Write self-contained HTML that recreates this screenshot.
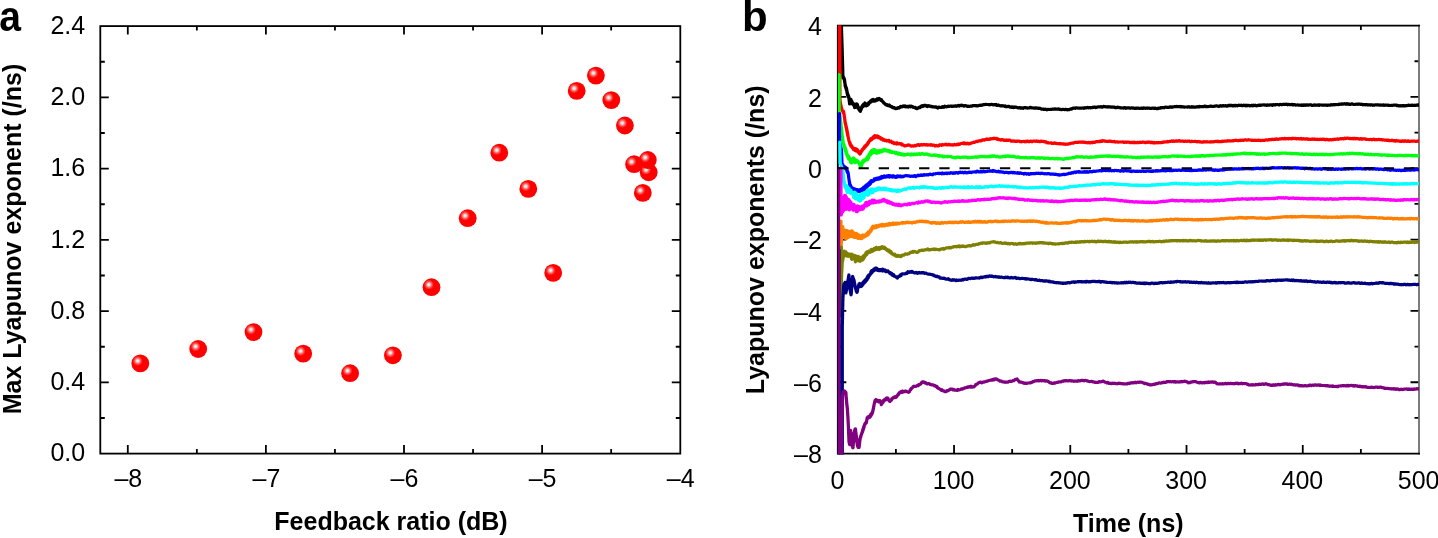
<!DOCTYPE html><html><head><meta charset="utf-8"><style>html,body{margin:0;padding:0;background:#fff;}svg{display:block;will-change:transform;}text{font-family:"Liberation Sans",sans-serif;}</style></head><body>
<svg width="1438" height="538" viewBox="0 0 1438 538">
<defs><radialGradient id="hl" cx="0.5" cy="0.5" r="0.5"><stop offset="0" stop-color="#fff" stop-opacity="1"/><stop offset="0.25" stop-color="#fff" stop-opacity="0.85"/><stop offset="0.6" stop-color="#fff" stop-opacity="0.35"/><stop offset="1" stop-color="#fff" stop-opacity="0"/></radialGradient><clipPath id="cb"><rect x="837.75" y="25.6" width="581.25" height="428.9"/></clipPath></defs>
<rect width="1438" height="538" fill="#fff"/>
<rect x="100.3" y="26.1" width="580.00" height="427.50" fill="none" stroke="#000" stroke-width="1.8"/>
<path d="M127.80 453.60V445.10M127.80 26.10V34.60M265.90 453.60V445.10M265.90 26.10V34.60M404.00 453.60V445.10M404.00 26.10V34.60M542.10 453.60V445.10M542.10 26.10V34.60M196.85 453.60V449.10M196.85 26.10V30.60M334.95 453.60V449.10M334.95 26.10V30.60M473.05 453.60V449.10M473.05 26.10V30.60M611.15 453.60V449.10M611.15 26.10V30.60M100.30 382.35H108.80M680.30 382.35H671.80M100.30 311.10H108.80M680.30 311.10H671.80M100.30 239.85H108.80M680.30 239.85H671.80M100.30 168.60H108.80M680.30 168.60H671.80M100.30 97.35H108.80M680.30 97.35H671.80M100.30 417.98H104.80M680.30 417.98H675.80M100.30 346.73H104.80M680.30 346.73H675.80M100.30 275.48H104.80M680.30 275.48H675.80M100.30 204.23H104.80M680.30 204.23H675.80M100.30 132.98H104.80M680.30 132.98H675.80M100.30 61.73H104.80M680.30 61.73H675.80" stroke="#000" stroke-width="1.8" fill="none"/>
<text x="85.2" y="461.30" font-size="25" text-anchor="end">0.0</text>
<text x="85.2" y="390.05" font-size="25" text-anchor="end">0.4</text>
<text x="85.2" y="318.80" font-size="25" text-anchor="end">0.8</text>
<text x="85.2" y="247.55" font-size="25" text-anchor="end">1.2</text>
<text x="85.2" y="176.30" font-size="25" text-anchor="end">1.6</text>
<text x="85.2" y="105.05" font-size="25" text-anchor="end">2.0</text>
<text x="85.2" y="33.80" font-size="25" text-anchor="end">2.4</text>
<text x="128.30" y="487.1" font-size="25" text-anchor="middle">–8</text>
<text x="266.40" y="487.1" font-size="25" text-anchor="middle">–7</text>
<text x="404.50" y="487.1" font-size="25" text-anchor="middle">–6</text>
<text x="542.60" y="487.1" font-size="25" text-anchor="middle">–5</text>
<text x="680.70" y="487.1" font-size="25" text-anchor="middle">–4</text>
<text x="391" y="529.5" font-size="25" font-weight="bold" text-anchor="middle">Feedback ratio (dB)</text>
<text transform="translate(20.9 239) rotate(-90)" font-size="25" font-weight="bold" text-anchor="middle">Max Lyapunov exponent (/ns)</text>
<text transform="translate(-0.8 30.6) scale(0.93 1)" font-size="42" font-weight="bold">a</text>
<circle cx="140.3" cy="363.4" r="8.9" fill="#ff0000"/><circle cx="137.7" cy="360.9" r="5" fill="url(#hl)"/>
<circle cx="198.2" cy="349.0" r="8.9" fill="#ff0000"/><circle cx="195.6" cy="346.5" r="5" fill="url(#hl)"/>
<circle cx="253.5" cy="332.1" r="8.9" fill="#ff0000"/><circle cx="250.9" cy="329.6" r="5" fill="url(#hl)"/>
<circle cx="303.2" cy="353.6" r="8.9" fill="#ff0000"/><circle cx="300.6" cy="351.1" r="5" fill="url(#hl)"/>
<circle cx="350.1" cy="373.2" r="8.9" fill="#ff0000"/><circle cx="347.5" cy="370.7" r="5" fill="url(#hl)"/>
<circle cx="392.9" cy="355.3" r="8.9" fill="#ff0000"/><circle cx="390.3" cy="352.8" r="5" fill="url(#hl)"/>
<circle cx="431.5" cy="287.2" r="8.9" fill="#ff0000"/><circle cx="428.9" cy="284.7" r="5" fill="url(#hl)"/>
<circle cx="467.7" cy="218.2" r="8.9" fill="#ff0000"/><circle cx="465.1" cy="215.7" r="5" fill="url(#hl)"/>
<circle cx="499.3" cy="152.7" r="8.9" fill="#ff0000"/><circle cx="496.7" cy="150.2" r="5" fill="url(#hl)"/>
<circle cx="528.3" cy="188.9" r="8.9" fill="#ff0000"/><circle cx="525.7" cy="186.4" r="5" fill="url(#hl)"/>
<circle cx="553.2" cy="272.9" r="8.9" fill="#ff0000"/><circle cx="550.6" cy="270.4" r="5" fill="url(#hl)"/>
<circle cx="576.7" cy="90.9" r="8.9" fill="#ff0000"/><circle cx="574.1" cy="88.4" r="5" fill="url(#hl)"/>
<circle cx="595.9" cy="75.6" r="8.9" fill="#ff0000"/><circle cx="593.3" cy="73.1" r="5" fill="url(#hl)"/>
<circle cx="611.3" cy="100.1" r="8.9" fill="#ff0000"/><circle cx="608.7" cy="97.6" r="5" fill="url(#hl)"/>
<circle cx="624.9" cy="125.5" r="8.9" fill="#ff0000"/><circle cx="622.3" cy="123.0" r="5" fill="url(#hl)"/>
<circle cx="642.8" cy="192.9" r="8.9" fill="#ff0000"/><circle cx="640.2" cy="190.4" r="5" fill="url(#hl)"/>
<circle cx="648.7" cy="172.3" r="8.9" fill="#ff0000"/><circle cx="646.1" cy="169.8" r="5" fill="url(#hl)"/>
<circle cx="647.8" cy="160.0" r="8.9" fill="#ff0000"/><circle cx="645.2" cy="157.5" r="5" fill="url(#hl)"/>
<circle cx="634.1" cy="164.2" r="8.9" fill="#ff0000"/><circle cx="631.5" cy="161.7" r="5" fill="url(#hl)"/>
<path d="M954.04 453.60V445.10M954.04 25.60V34.10M1070.28 453.60V445.10M1070.28 25.60V34.10M1186.52 453.60V445.10M1186.52 25.60V34.10M1302.76 453.60V445.10M1302.76 25.60V34.10M895.92 453.60V449.10M895.92 25.60V30.10M1012.16 453.60V449.10M1012.16 25.60V30.10M1128.40 453.60V449.10M1128.40 25.60V30.10M1244.64 453.60V449.10M1244.64 25.60V30.10M1360.88 453.60V449.10M1360.88 25.60V30.10M837.80 96.93H846.30M1419.00 96.93H1410.50M837.80 168.27H846.30M1419.00 168.27H1410.50M837.80 239.60H846.30M1419.00 239.60H1410.50M837.80 310.94H846.30M1419.00 310.94H1410.50M837.80 382.27H846.30M1419.00 382.27H1410.50M837.80 61.27H842.30M1419.00 61.27H1414.50M837.80 132.60H842.30M1419.00 132.60H1414.50M837.80 203.94H842.30M1419.00 203.94H1414.50M837.80 275.27H842.30M1419.00 275.27H1414.50M837.80 346.60H842.30M1419.00 346.60H1414.50M837.80 417.94H842.30M1419.00 417.94H1414.50" stroke="#000" stroke-width="1.8" fill="none"/>
<path d="M1419.00 24.70V454.50" stroke="#6e6e6e" stroke-width="1.8"/>
<path d="M1419.90 25.60H837.80V453.60H1419.90" stroke="#000" stroke-width="1.8" fill="none" stroke-linejoin="miter"/>
<g clip-path="url(#cb)" fill="none" stroke-width="3.2" stroke-linejoin="round" stroke-linecap="round">
<path d="M839.8 10.0 839.8 10.4 839.9 10.8 839.9 11.2 839.9 11.6 839.9 12.0 840.0 12.4 840.0 12.8 840.0 13.2 840.1 13.6 840.1 14.0 840.1 14.4 840.1 14.8 840.2 15.2 840.2 15.6 840.2 16.0 840.2 16.4 840.3 16.8 840.3 17.2 840.3 17.6 840.4 18.0 840.4 18.4 840.4 18.8 840.4 19.2 840.5 19.6 840.5 20.0 840.6 20.4 840.6 20.8 840.7 21.2 840.7 21.6 840.8 22.0 840.9 22.4 840.9 22.8 841.0 23.2 841.0 23.6 841.1 24.0 841.2 24.4 841.2 24.8 841.3 25.2 841.3 25.6 841.4 26.0 841.4 26.4 841.4 26.8 841.4 27.2 841.5 27.6 841.5 28.0 841.5 28.4 841.5 28.8 841.5 29.2 841.5 29.6 841.5 30.0 841.5 30.4 841.6 30.8 841.6 31.2 841.6 31.6 841.6 32.0 841.6 32.4 841.6 32.8 841.6 33.2 841.7 33.6 841.7 34.0 841.7 34.4 841.7 34.8 841.7 35.2 841.7 35.6 841.7 36.0 841.7 36.4 841.8 36.8 841.8 37.2 841.8 37.6 841.8 38.0 841.8 38.4 841.8 38.8 841.8 39.2 841.9 39.6 841.9 40.0 841.9 40.4 841.9 40.8 841.9 41.2 841.9 41.6 841.9 42.0 841.9 42.4 842.0 42.8 842.0 43.2 842.0 43.6 842.0 44.0 842.0 44.4 842.0 44.8 842.0 45.2 842.1 45.6 842.1 46.0 842.1 46.4 842.1 46.8 842.1 47.2 842.1 47.6 842.1 48.0 842.1 48.4 842.2 48.8 842.2 49.2 842.2 49.6 842.2 50.0 842.2 50.4 842.2 50.8 842.2 51.2 842.2 51.6 842.3 52.0 842.3 52.4 842.3 52.8 842.3 53.2 842.3 53.6 842.3 54.0 842.3 54.4 842.3 54.8 842.3 55.2 842.3 55.6 842.4 56.0 842.4 56.4 842.4 56.8 842.4 57.2 842.4 57.6 842.4 58.0 842.4 58.4 842.4 58.8 842.4 59.2 842.5 59.6 842.5 60.0 842.5 60.4 842.5 60.8 842.5 61.2 842.5 60.3 842.5 63.3 842.5 61.1 842.5 64.1 842.5 61.9 842.6 64.9 842.6 62.7 842.6 65.7 842.6 63.5 842.6 66.5 842.6 64.3 842.6 67.3 842.6 65.1 842.6 68.1 842.7 65.9 842.7 68.9 842.7 66.7 842.7 69.7 842.7 67.5 842.7 70.5 842.7 68.3 842.7 71.3 842.7 69.1 842.8 72.1 842.8 69.9 842.8 72.9 842.8 70.7 842.8 73.7 842.8 71.5 842.8 74.5 842.8 72.3 842.8 75.3 842.8 73.1 842.9 76.1 842.9 73.9 842.9 76.9 842.9 74.7 842.9 76.5 843.1 78.1 843.3 76.5 843.5 78.2 843.6 77.2 843.8 78.9 844.0 78.0 844.2 79.7 844.4 79.5 844.5 79.2 844.5 80.9 844.6 80.0 844.6 81.7 844.7 80.8 844.7 82.6 844.8 81.7 844.9 83.6 844.9 82.4 845.0 84.5 845.0 83.2 845.1 85.3 845.1 84.1 845.2 85.4 845.3 86.5 845.5 85.3 845.6 87.4 845.7 86.2 845.8 88.2 846.0 87.0 846.1 89.0 846.2 87.8 846.3 89.8 846.5 88.2 846.6 89.9 846.7 90.9 846.7 89.4 846.8 91.7 846.9 90.2 847.0 92.5 847.0 91.0 847.1 93.3 847.2 91.8 847.3 94.1 847.3 92.6 847.4 94.3 847.6 95.3 847.8 93.8 848.0 96.0 848.1 95.0 848.3 97.2 848.5 95.7 848.7 97.9 848.9 97.3 848.9 96.9 849.0 99.1 849.0 97.7 849.1 99.9 849.1 98.5 849.2 100.7 849.2 99.3 849.3 101.5 849.3 100.1 849.4 102.3 849.4 100.9 849.5 103.2 849.5 101.8 849.6 104.0 849.6 103.4 849.8 101.6 850.0 103.5 850.2 100.8 850.4 102.8 850.5 100.1 850.7 102.0 850.9 99.3 851.1 100.4 851.3 102.0 851.5 100.6 851.7 102.7 851.9 101.4 852.0 103.5 852.2 102.1 852.4 104.2 852.6 103.4 852.8 102.7 853.1 104.6 853.3 103.4 853.6 105.2 853.8 104.1 854.1 105.9 854.3 104.7 854.6 107.6 854.8 106.4 855.2 104.7 855.5 107.4 855.9 104.2 856.3 106.8 856.6 103.9 857.0 104.9 857.2 106.7 857.4 104.4 857.6 107.4 857.8 105.8 857.9 107.9 858.1 106.5 858.3 108.6 858.5 107.8 858.7 107.6 858.9 109.6 859.2 108.2 859.4 110.2 859.6 108.1 859.8 110.9 860.1 108.8 860.3 111.5 860.5 110.8 860.7 109.0 860.8 110.3 861.0 108.8 861.2 109.5 861.3 108.0 861.5 108.7 861.6 107.2 861.8 107.9 862.0 106.4 862.1 107.1 862.3 106.4 862.6 105.4 862.9 106.7 863.2 104.7 863.6 106.0 863.9 104.1 864.2 105.8 864.5 104.1 864.9 103.0 865.4 105.7 865.8 103.9 866.3 105.9 866.7 104.9 867.0 104.0 867.4 105.4 867.7 103.7 868.0 104.8 868.4 103.2 868.7 104.3 869.0 102.4 869.4 103.0 869.7 102.6 870.0 101.7 870.4 102.2 870.7 101.0 871.0 102.0 871.4 100.5 871.7 101.4 872.0 99.9 872.4 101.1 872.7 100.2 873.2 99.4 873.6 100.4 874.0 101.2 874.5 100.7 874.9 100.1 875.3 100.1 875.7 100.8 876.1 100.1 876.4 99.4 876.8 99.8 877.1 99.0 877.5 100.0 877.8 99.0 878.2 99.5 878.6 98.9 879.1 98.4 879.5 99.0 879.9 98.9 880.4 99.5 880.8 100.3 881.2 99.9 881.5 99.6 881.8 100.6 882.2 101.2 882.5 101.3 882.8 101.5 883.1 102.3 883.4 102.2 883.7 103.1 884.0 102.9 884.2 103.2 884.5 103.3 884.8 103.8 885.1 104.0 885.4 104.1 885.7 104.6 886.1 104.4 886.4 104.5 886.7 105.2 887.1 104.8 887.5 105.5 888.0 105.6 888.4 105.5 888.8 105.5 889.2 105.0 889.7 106.0 890.1 105.7 890.5 106.4 891.0 106.7 891.4 106.8 891.8 106.6 892.2 107.3 892.6 107.6 893.0 107.3 893.4 107.4 893.8 107.5 894.2 108.1 894.7 107.8 895.1 108.3 895.5 108.6 895.9 108.6 896.3 108.6 896.8 108.1 897.2 108.4 897.6 107.9 898.0 107.6 898.4 107.6 898.8 107.7 899.2 108.0 899.6 107.7 900.0 107.4 900.5 106.4 900.9 106.9 901.3 106.6 901.7 106.6 902.1 106.8 902.5 106.2 903.2 105.9 904.0 106.6 904.7 105.9 905.4 106.1 906.1 106.8 906.9 106.3 907.6 106.6 908.3 107.0 909.1 106.1 909.8 106.2 910.5 106.8 911.2 106.1 912.0 106.7 912.7 106.6 913.4 107.4 914.1 107.3 914.8 107.8 915.4 107.4 916.1 108.4 916.8 108.6 917.5 108.4 918.2 108.0 918.8 107.5 919.5 107.1 920.2 107.5 920.9 106.6 921.6 105.9 922.3 105.7 923.0 106.6 923.6 105.6 924.3 105.3 925.0 105.6 925.8 105.4 926.5 106.2 927.3 106.5 928.0 105.6 928.8 106.1 929.6 105.9 930.3 106.2 931.1 106.6 931.9 106.4 932.6 107.0 933.4 106.8 934.2 106.8 934.9 107.2 935.7 106.8 936.4 107.0 937.2 107.6 937.9 108.0 938.7 107.1 939.4 107.2 940.2 107.5 940.9 107.5 941.7 107.5 942.4 106.6 943.2 107.1 943.9 107.3 944.7 106.2 945.4 106.6 946.1 106.7 946.9 106.9 947.6 106.3 948.4 106.2 949.1 106.5 949.9 106.3 950.6 106.0 951.4 106.3 952.1 106.2 952.9 106.3 953.6 106.2 954.3 106.2 955.1 105.9 955.8 105.9 956.6 106.3 957.3 105.7 958.1 105.9 958.8 105.3 959.6 106.0 960.3 105.5 961.1 105.2 961.8 105.6 962.5 105.4 963.3 105.5 964.0 106.2 964.8 105.7 965.5 105.7 966.3 105.8 967.0 106.4 967.8 106.2 968.5 106.2 969.3 106.4 970.0 106.2 970.7 106.0 971.5 106.0 972.2 106.2 972.9 105.5 973.7 105.6 974.4 105.7 975.2 105.6 975.9 105.9 976.6 105.6 977.4 106.0 978.1 105.6 978.8 105.6 979.6 105.3 980.3 105.2 981.1 105.4 981.8 105.0 982.6 105.1 983.3 104.5 984.1 104.7 984.8 104.5 985.6 104.3 986.3 104.5 987.0 104.5 987.8 104.5 988.5 104.6 989.3 104.7 990.0 104.8 990.8 104.5 991.5 104.3 992.3 104.5 993.0 104.8 993.8 104.8 994.5 104.5 995.3 104.9 996.1 104.5 996.9 105.4 997.6 105.2 998.4 104.9 999.2 105.6 1000.0 105.5 1000.7 106.0 1001.5 105.6 1002.2 106.0 1003.0 105.8 1003.7 105.8 1004.4 106.3 1005.2 105.8 1005.9 106.7 1006.7 106.5 1007.4 106.6 1008.1 106.3 1008.9 106.4 1009.6 106.9 1010.4 107.2 1011.1 106.8 1011.9 107.4 1012.6 106.8 1013.4 107.5 1014.1 107.1 1014.9 107.3 1015.6 107.0 1016.4 107.3 1017.1 107.5 1017.9 107.9 1018.6 108.0 1019.3 107.5 1020.1 107.9 1020.8 108.1 1021.6 107.9 1022.3 108.1 1023.0 108.3 1023.8 107.8 1024.5 107.6 1025.3 107.5 1026.0 108.0 1026.7 107.8 1027.5 108.1 1028.2 108.0 1029.0 108.0 1029.7 107.6 1030.5 107.3 1031.2 107.9 1032.0 107.9 1032.7 107.9 1033.5 108.0 1034.2 108.2 1035.0 108.1 1035.7 107.9 1036.5 108.1 1037.2 108.1 1037.9 108.0 1038.7 108.4 1039.4 108.2 1040.2 108.4 1040.9 108.7 1041.6 109.2 1042.4 109.2 1043.1 109.1 1043.9 109.4 1044.6 109.5 1045.3 109.2 1046.1 109.3 1046.8 109.8 1047.6 109.4 1048.3 109.4 1049.1 109.5 1049.8 109.5 1050.6 109.3 1051.3 109.4 1052.1 109.2 1052.8 109.0 1053.5 109.0 1054.3 109.2 1055.0 108.9 1055.8 109.1 1056.5 109.1 1057.2 109.0 1058.0 109.1 1058.8 108.9 1059.5 109.5 1060.2 109.3 1061.0 109.6 1061.8 109.7 1062.5 109.3 1063.2 109.4 1064.0 109.5 1064.7 109.6 1065.5 109.4 1066.2 109.4 1066.9 109.7 1067.7 109.8 1068.4 109.5 1069.2 109.6 1069.9 109.2 1070.7 108.9 1071.4 109.1 1072.2 108.7 1072.9 108.1 1073.7 108.0 1074.4 108.1 1075.1 108.3 1075.9 107.8 1076.6 107.8 1077.4 108.0 1078.1 108.1 1078.8 108.1 1079.6 108.1 1080.3 108.2 1081.1 108.2 1081.8 108.1 1082.5 108.0 1083.3 107.9 1084.0 108.3 1084.8 107.7 1085.5 108.0 1086.2 107.8 1087.0 107.7 1087.7 107.4 1088.5 107.9 1089.2 107.6 1090.0 107.7 1090.7 107.8 1091.5 107.5 1092.2 107.6 1093.0 107.2 1093.7 107.3 1094.5 107.2 1095.2 107.0 1096.0 107.6 1096.7 107.3 1097.4 107.0 1098.2 106.9 1098.9 106.9 1099.7 106.9 1100.4 107.0 1101.1 106.6 1101.9 107.2 1102.6 107.1 1103.4 106.4 1104.1 106.6 1104.8 106.6 1105.6 106.8 1106.3 107.0 1107.1 106.8 1107.8 107.1 1108.5 106.7 1109.3 106.9 1110.0 106.9 1110.8 107.1 1111.5 107.0 1112.2 106.9 1113.0 107.2 1113.8 107.0 1114.5 107.1 1115.2 107.6 1116.0 107.6 1116.8 107.6 1117.5 107.2 1118.2 107.3 1119.0 107.6 1119.7 107.5 1120.5 107.9 1121.2 108.0 1122.0 107.9 1122.7 108.0 1123.4 108.1 1124.2 107.6 1124.9 107.7 1125.7 108.3 1126.4 108.1 1127.1 107.8 1127.9 107.9 1128.6 107.8 1129.4 107.8 1130.1 108.3 1130.8 108.0 1131.6 107.9 1132.3 107.9 1133.1 108.2 1133.8 108.1 1134.5 108.4 1135.3 108.1 1136.0 108.4 1136.8 108.1 1137.5 108.2 1138.3 108.2 1139.0 108.3 1139.8 108.3 1140.5 108.4 1141.3 108.1 1142.0 108.3 1142.8 108.4 1143.5 107.9 1144.3 108.1 1145.0 108.2 1145.7 108.3 1146.5 108.1 1147.2 108.3 1148.0 108.0 1148.7 108.1 1149.5 108.2 1150.2 108.4 1151.0 108.4 1151.7 108.4 1152.5 108.0 1153.2 108.1 1154.0 108.4 1154.7 108.2 1155.5 108.2 1156.2 108.5 1156.9 108.7 1157.7 108.6 1158.4 108.1 1159.2 108.1 1159.9 108.3 1160.6 107.7 1161.4 108.0 1162.1 107.5 1162.9 107.5 1163.6 107.6 1164.3 107.8 1165.1 107.2 1165.8 107.1 1166.6 107.3 1167.3 107.3 1168.0 107.5 1168.8 107.3 1169.5 107.2 1170.3 106.8 1171.0 107.0 1171.8 107.3 1172.5 106.9 1173.2 107.0 1174.0 106.8 1174.8 106.5 1175.5 106.7 1176.2 106.5 1177.0 106.4 1177.8 106.7 1178.5 106.6 1179.2 106.7 1180.0 106.4 1180.7 106.8 1181.5 106.7 1182.2 106.7 1182.9 107.0 1183.7 106.9 1184.4 107.2 1185.2 107.0 1185.9 107.0 1186.6 107.0 1187.4 107.1 1188.1 106.9 1188.9 106.7 1189.6 107.1 1190.3 107.0 1191.1 107.1 1191.8 106.7 1192.6 107.2 1193.3 106.9 1194.0 107.1 1194.8 107.1 1195.5 107.1 1196.3 106.9 1197.0 107.0 1197.8 106.7 1198.5 106.9 1199.3 106.4 1200.0 106.8 1200.8 106.6 1201.5 106.5 1202.2 106.7 1202.9 106.5 1203.6 106.7 1204.3 106.2 1205.0 106.1 1205.8 106.7 1206.5 106.4 1207.2 106.7 1207.9 106.7 1208.6 106.5 1209.3 106.4 1210.0 106.3 1210.7 106.1 1211.4 106.0 1212.1 106.5 1212.8 106.5 1213.5 106.4 1214.3 106.3 1215.0 106.1 1215.7 106.0 1216.4 105.8 1217.1 106.0 1217.8 106.1 1218.5 106.3 1219.2 106.3 1219.9 105.9 1220.6 105.7 1221.4 106.1 1222.1 106.1 1222.8 105.5 1223.5 105.8 1224.2 106.0 1224.9 105.8 1225.6 105.5 1226.3 106.1 1227.0 106.1 1227.7 105.9 1228.4 105.4 1229.1 105.4 1229.8 105.6 1230.5 105.4 1231.2 105.6 1231.9 105.3 1232.7 106.0 1233.4 105.9 1234.1 105.3 1234.8 105.9 1235.5 105.4 1236.2 105.4 1236.9 105.7 1237.6 105.8 1238.3 105.3 1239.0 105.2 1239.7 105.5 1240.4 105.4 1241.1 105.2 1241.8 105.6 1242.5 105.8 1243.2 105.3 1244.0 105.2 1244.7 105.4 1245.4 105.8 1246.1 105.2 1246.8 105.8 1247.5 105.4 1248.2 105.5 1248.9 105.4 1249.6 105.8 1250.3 105.8 1251.1 105.6 1251.8 105.3 1252.5 105.8 1253.2 105.2 1253.9 105.6 1254.6 105.5 1255.3 105.2 1256.0 105.7 1256.7 105.8 1257.4 105.6 1258.1 105.3 1258.9 105.2 1259.6 105.5 1260.3 105.2 1261.0 105.3 1261.7 105.0 1262.4 105.0 1263.1 104.9 1263.8 105.0 1264.5 104.9 1265.2 105.2 1266.0 105.2 1266.7 105.3 1267.4 104.9 1268.1 105.1 1268.8 105.2 1269.5 105.1 1270.2 104.8 1270.9 105.0 1271.6 104.9 1272.3 105.3 1273.0 104.6 1273.8 104.8 1274.5 104.8 1275.2 105.0 1275.9 104.6 1276.6 104.5 1277.3 104.5 1278.0 104.6 1278.7 104.9 1279.4 104.8 1280.1 104.4 1280.9 104.5 1281.6 104.6 1282.3 104.6 1283.0 104.3 1283.7 104.3 1284.4 104.3 1285.1 104.5 1285.8 104.3 1286.5 104.2 1287.2 104.4 1287.9 104.8 1288.6 104.3 1289.3 104.5 1290.0 104.7 1290.7 104.6 1291.4 104.5 1292.2 104.4 1292.9 104.9 1293.6 104.9 1294.3 104.5 1295.0 104.7 1295.7 105.1 1296.4 105.0 1297.1 105.0 1297.8 104.8 1298.5 105.2 1299.2 105.1 1299.9 105.1 1300.6 105.2 1301.3 105.3 1302.0 104.9 1302.7 105.3 1303.5 104.9 1304.2 105.4 1304.9 104.8 1305.6 105.4 1306.3 104.8 1307.0 104.9 1307.7 105.1 1308.4 105.2 1309.1 105.0 1309.8 104.8 1310.6 104.9 1311.3 104.9 1312.0 105.3 1312.7 105.4 1313.4 105.2 1314.1 105.1 1314.8 104.8 1315.5 105.3 1316.2 105.0 1316.9 105.0 1317.6 105.1 1318.4 104.9 1319.1 105.4 1319.8 104.9 1320.5 105.0 1321.2 105.0 1321.9 105.1 1322.6 105.2 1323.3 105.2 1324.0 105.1 1324.7 105.0 1325.5 105.2 1326.2 105.0 1326.9 105.3 1327.6 105.3 1328.3 105.0 1329.0 105.1 1329.7 105.0 1330.4 105.1 1331.1 104.7 1331.8 105.0 1332.5 104.8 1333.2 104.8 1333.9 104.5 1334.6 104.8 1335.3 104.5 1336.0 104.6 1336.8 104.5 1337.5 104.5 1338.2 104.6 1338.9 104.2 1339.6 104.4 1340.3 104.0 1341.0 104.1 1341.7 104.3 1342.4 103.8 1343.1 104.1 1343.8 104.0 1344.5 103.7 1345.2 104.0 1345.9 104.3 1346.6 103.7 1347.3 104.1 1348.1 103.8 1348.8 104.4 1349.5 104.2 1350.2 104.3 1350.9 104.3 1351.6 103.8 1352.3 103.9 1353.0 104.3 1353.7 104.5 1354.4 104.5 1355.2 104.4 1355.9 104.4 1356.6 104.1 1357.3 104.4 1358.0 104.1 1358.7 104.3 1359.4 104.1 1360.1 104.3 1360.8 104.3 1361.5 104.2 1362.2 104.4 1363.0 104.8 1363.7 104.5 1364.4 104.6 1365.1 104.8 1365.8 104.7 1366.5 104.5 1367.2 105.0 1367.9 104.8 1368.6 105.0 1369.3 104.8 1370.1 105.1 1370.8 104.9 1371.5 104.8 1372.2 104.8 1372.9 105.4 1373.6 105.1 1374.3 105.2 1375.0 104.8 1375.7 105.0 1376.4 104.9 1377.1 104.8 1377.9 104.9 1378.6 104.8 1379.3 105.2 1380.0 104.9 1380.7 105.2 1381.4 105.2 1382.1 105.2 1382.8 105.1 1383.5 104.9 1384.2 105.4 1385.0 105.0 1385.7 105.1 1386.4 105.2 1387.1 105.1 1387.8 105.4 1388.5 105.1 1389.2 105.5 1389.9 105.5 1390.6 105.5 1391.3 105.3 1392.0 105.3 1392.7 105.4 1393.4 105.1 1394.1 105.2 1394.8 105.1 1395.5 105.2 1396.3 105.1 1397.0 105.6 1397.7 105.3 1398.4 105.8 1399.1 105.7 1399.8 106.0 1400.5 105.6 1401.2 106.0 1401.9 105.7 1402.6 105.7 1403.3 105.8 1404.0 105.5 1404.7 106.0 1405.4 105.9 1406.2 105.5 1406.9 105.6 1407.6 105.5 1408.3 105.2 1409.0 105.2 1409.7 105.4 1410.4 105.3 1411.2 105.5 1411.9 105.2 1412.6 105.2 1413.3 105.5 1414.0 105.5 1414.7 105.2 1415.4 105.5 1416.1 105.1 1416.9 105.1 1417.6 105.3 1418.3 104.8 1419.0 105.1" stroke="#000000"/>
<path d="M839.5 10.0 839.5 10.4 839.5 10.8 839.5 11.2 839.5 11.6 839.5 12.0 839.5 12.4 839.5 12.8 839.5 13.2 839.5 13.6 839.5 14.0 839.5 14.4 839.5 14.8 839.5 15.2 839.5 15.6 839.5 16.0 839.5 16.4 839.5 16.8 839.5 17.2 839.5 17.6 839.5 18.0 839.5 18.4 839.5 18.8 839.5 19.2 839.5 19.6 839.5 20.0 839.5 20.4 839.5 20.8 839.5 21.2 839.5 21.6 839.5 22.0 839.5 22.4 839.5 22.8 839.5 23.2 839.5 23.6 839.5 24.0 839.5 24.4 839.5 24.8 839.5 25.2 839.5 25.6 839.5 26.0 839.5 26.4 839.5 26.8 839.5 27.2 839.5 27.6 839.5 28.0 839.5 28.4 839.5 28.8 839.5 29.2 839.5 29.6 839.5 30.0 839.5 30.4 839.5 30.8 839.5 31.2 839.5 31.6 839.5 32.0 839.5 32.4 839.5 32.8 839.5 33.2 839.5 33.6 839.5 34.0 839.5 34.4 839.5 34.8 839.6 35.2 839.6 35.6 839.6 36.0 839.6 36.4 839.6 36.8 839.6 37.2 839.6 37.6 839.6 38.0 839.6 38.4 839.6 38.8 839.6 39.2 839.6 39.6 839.6 40.0 839.6 40.4 839.6 40.8 839.6 41.2 839.6 41.6 839.6 42.0 839.6 42.4 839.6 42.8 839.6 43.2 839.6 43.6 839.6 44.0 839.6 44.4 839.6 44.8 839.6 45.2 839.6 45.6 839.6 46.0 839.6 46.4 839.6 46.8 839.6 47.2 839.6 47.6 839.6 48.0 839.6 48.4 839.6 48.8 839.6 49.2 839.6 49.6 839.6 50.0 839.6 50.4 839.6 50.8 839.6 51.2 839.6 51.6 839.6 52.0 839.6 52.4 839.6 52.8 839.6 53.2 839.6 53.6 839.6 54.0 839.6 54.4 839.6 54.8 839.6 55.2 839.6 55.6 839.6 56.0 839.6 56.4 839.6 56.8 839.6 57.2 839.6 57.6 839.6 58.0 839.6 58.4 839.6 58.8 839.6 59.2 839.6 59.6 839.6 60.0 839.6 60.4 839.6 60.8 839.6 61.2 839.6 61.6 839.6 62.0 839.6 62.4 839.6 62.8 839.6 63.2 839.6 63.6 839.6 64.0 839.6 64.4 839.6 64.8 839.6 65.2 839.6 65.6 839.6 66.0 839.6 66.4 839.6 66.8 839.6 67.2 839.6 67.6 839.6 68.0 839.6 68.4 839.6 68.8 839.6 69.2 839.6 69.6 839.6 70.0 839.7 70.4 839.7 70.8 839.7 71.2 839.7 71.6 839.7 72.0 839.7 72.4 839.7 72.8 839.7 73.2 839.7 73.6 839.7 74.0 839.7 74.4 839.7 74.8 839.7 75.2 839.7 75.6 839.7 76.0 839.7 76.4 839.7 76.8 839.7 77.2 839.7 77.6 839.7 78.0 839.7 78.4 839.7 78.8 839.7 79.2 839.7 79.6 839.7 80.0 839.7 80.4 839.7 80.8 839.7 81.2 839.7 81.6 839.7 82.0 839.7 82.4 839.7 82.8 839.7 83.2 839.7 83.6 839.7 84.0 839.7 84.4 839.7 84.8 839.7 85.2 839.7 85.6 839.7 86.0 839.7 86.4 839.7 86.8 839.7 87.2 839.7 87.6 839.7 88.0 839.7 88.4 839.7 88.8 839.7 89.2 839.7 89.6 839.8 90.0 839.8 90.4 839.8 90.8 839.8 91.2 839.8 91.6 839.8 92.0 839.8 92.4 839.8 92.8 839.8 93.2 839.8 93.6 839.8 94.0 839.8 94.4 839.8 94.8 839.8 95.2 839.8 95.6 839.8 96.0 839.8 96.4 839.8 96.8 839.8 97.2 839.8 97.6 839.8 98.0 839.8 98.4 839.8 98.8 839.8 99.2 839.8 99.6 839.8 100.0 839.9 100.4 840.0 100.8 840.1 101.2 840.1 101.6 840.2 102.0 840.3 102.4 840.4 102.8 840.5 103.2 840.6 103.6 840.6 104.0 840.7 104.4 840.8 104.8 840.9 105.2 841.0 105.6 841.1 106.0 841.2 106.4 841.2 106.8 841.3 107.2 841.4 107.6 841.5 108.0 841.6 108.4 841.8 108.9 841.9 109.3 842.1 109.7 842.2 110.1 842.4 110.6 842.5 111.0 842.8 111.1 843.1 112.7 843.4 111.0 843.7 112.3 843.8 113.1 843.8 112.2 843.9 113.9 843.9 113.0 844.0 114.7 844.0 113.8 844.1 115.5 844.2 114.6 844.2 116.3 844.3 115.4 844.3 117.1 844.4 116.2 844.5 117.9 844.5 117.0 844.6 118.7 844.6 117.8 844.7 119.5 844.7 118.6 844.8 120.3 844.9 119.6 844.9 121.3 845.0 120.4 845.0 122.1 845.1 121.2 845.1 122.9 845.2 122.7 845.3 122.4 845.4 124.1 845.5 123.2 845.6 124.9 845.7 124.0 845.8 125.7 845.9 124.8 845.9 126.5 846.0 125.6 846.1 127.3 846.2 126.4 846.3 128.1 846.4 127.1 846.5 129.3 846.6 128.7 846.7 128.3 846.7 130.5 846.8 129.1 846.9 131.2 847.0 129.8 847.0 132.0 847.1 130.6 847.2 132.8 847.3 131.4 847.3 133.6 847.4 132.2 847.5 134.4 847.6 133.0 847.6 135.2 847.7 134.6 847.8 134.2 847.9 136.4 847.9 135.0 848.0 136.4 848.1 136.4 848.2 137.2 848.3 137.2 848.3 138.0 848.4 138.0 848.5 138.8 848.6 138.8 848.7 139.6 848.7 139.6 848.8 140.4 848.9 140.6 849.0 140.8 849.2 141.6 849.3 141.6 849.4 142.4 849.6 142.4 849.7 143.6 849.9 142.4 850.0 144.4 850.1 143.2 850.3 145.2 850.4 145.0 850.6 144.3 850.9 146.3 851.1 145.0 851.4 146.5 851.6 145.7 851.9 147.1 852.1 146.4 852.4 147.8 852.6 148.0 853.0 147.6 853.4 149.3 853.7 148.0 854.1 149.6 854.5 148.6 854.9 150.3 855.2 148.9 855.6 149.5 855.9 150.9 856.2 148.9 856.6 150.4 856.9 149.4 857.2 150.9 857.5 149.9 857.9 151.9 858.2 151.3 858.5 151.7 858.8 152.8 859.0 152.3 859.2 153.3 859.5 152.0 859.8 154.1 860.0 153.9 860.2 152.4 860.4 153.7 860.6 151.7 860.8 153.0 860.9 151.7 861.1 152.3 861.3 151.0 861.5 151.0 861.7 151.2 862.0 150.0 862.2 150.6 862.5 149.5 862.7 149.7 863.0 148.8 863.2 149.0 863.5 148.2 863.7 148.0 864.0 148.4 864.3 146.8 864.6 147.8 864.9 146.2 865.2 147.2 865.5 145.6 865.8 146.3 866.1 145.2 866.4 145.7 866.7 145.0 866.9 144.3 867.2 144.7 867.4 143.6 867.6 144.3 867.9 143.0 868.1 143.6 868.3 142.3 868.5 142.9 868.8 141.6 869.0 141.8 869.2 140.8 869.5 141.1 869.7 140.6 870.0 139.9 870.4 140.2 870.7 138.8 871.0 140.3 871.4 138.3 871.7 139.8 872.0 138.0 872.4 138.9 872.7 138.3 873.0 137.3 873.3 138.1 873.6 136.5 873.9 138.2 874.3 136.0 874.6 137.7 874.9 135.5 875.2 137.2 875.5 136.0 875.9 135.9 876.3 136.7 876.7 136.2 877.1 137.3 877.5 136.0 878.0 137.5 878.4 136.3 878.8 137.6 879.2 137.8 879.6 137.4 879.9 137.9 880.3 137.5 880.6 138.3 880.9 139.0 881.3 139.2 881.6 138.8 882.0 139.2 882.3 138.6 882.6 139.1 883.0 140.2 883.3 140.0 883.7 139.9 884.1 139.7 884.5 140.3 884.9 140.6 885.3 140.6 885.7 140.2 886.1 140.4 886.5 140.6 886.8 141.0 887.2 140.7 887.6 140.6 888.0 140.8 888.4 140.3 888.8 140.4 889.2 141.3 889.6 141.8 890.0 141.2 890.4 141.5 890.7 141.4 891.1 141.2 891.5 141.8 891.9 142.6 892.2 142.5 892.6 142.4 893.0 142.9 893.3 142.3 893.7 142.8 894.1 143.5 894.5 143.2 894.8 143.2 895.2 143.4 895.6 143.1 896.1 143.5 896.5 144.0 897.0 142.8 897.4 143.8 897.8 143.8 898.3 143.9 898.7 143.7 899.2 143.8 899.6 143.4 900.0 143.6 900.4 143.8 900.8 143.9 901.1 143.6 901.5 144.8 901.9 144.6 902.3 144.3 902.7 144.9 903.1 145.1 903.5 145.1 903.8 145.3 904.2 145.7 904.6 146.0 905.0 146.0 905.8 145.8 906.6 145.4 907.4 145.4 908.1 144.9 908.9 145.2 909.7 145.2 910.4 145.7 911.2 146.1 911.9 146.1 912.7 145.8 913.4 146.1 914.2 146.0 914.9 145.3 915.7 145.9 916.4 145.6 917.2 144.9 917.9 144.7 918.7 144.7 919.4 145.4 920.2 144.8 920.9 145.0 921.6 144.6 922.4 145.1 923.1 144.8 923.8 144.5 924.6 144.6 925.3 145.0 926.1 144.6 926.8 144.7 927.5 145.2 928.3 144.9 929.0 145.0 929.7 144.9 930.5 145.1 931.2 144.7 932.0 145.2 932.7 145.3 933.5 145.1 934.2 145.1 935.0 146.0 935.7 145.7 936.5 145.4 937.2 145.8 937.9 145.8 938.7 145.9 939.4 144.9 940.2 144.8 940.9 144.8 941.7 145.3 942.4 144.5 943.2 145.0 943.9 144.8 944.7 144.6 945.4 144.4 946.1 144.2 946.9 145.0 947.6 144.9 948.4 144.6 949.1 144.4 949.9 144.9 950.6 144.7 951.4 144.9 952.1 144.7 952.9 145.1 953.6 145.0 954.3 144.4 955.1 144.5 955.8 145.0 956.6 144.8 957.3 144.1 958.1 144.5 958.8 143.8 959.6 144.3 960.3 143.9 961.1 143.5 961.8 143.4 962.5 143.2 963.3 142.9 964.0 143.8 964.8 142.9 965.5 143.7 966.3 143.9 967.0 143.5 967.8 143.1 968.5 143.8 969.3 143.9 970.0 143.4 970.7 143.4 971.5 143.0 972.2 142.7 972.9 142.5 973.7 142.2 974.4 142.4 975.2 142.0 975.9 141.6 976.6 141.3 977.4 141.6 978.1 141.3 978.8 140.9 979.5 141.0 980.1 140.6 980.8 141.0 981.5 140.8 982.2 139.9 982.9 139.9 983.6 139.8 984.2 140.2 984.9 139.9 985.6 139.3 986.3 139.3 987.0 138.9 987.8 139.3 988.5 139.3 989.3 139.3 990.0 138.7 990.8 139.1 991.5 138.8 992.3 138.6 993.0 138.9 993.8 138.2 994.5 138.3 995.2 138.7 995.9 138.3 996.6 138.5 997.2 139.4 997.9 138.9 998.6 139.6 999.3 139.6 1000.0 139.7 1000.7 140.1 1001.5 139.7 1002.2 139.7 1003.0 139.8 1003.7 140.3 1004.4 140.1 1005.2 140.5 1005.9 140.5 1006.7 139.9 1007.4 140.3 1008.1 140.4 1008.9 140.1 1009.6 140.2 1010.4 140.3 1011.1 141.1 1011.9 141.1 1012.6 141.2 1013.4 140.9 1014.1 141.2 1014.9 141.2 1015.6 141.5 1016.4 141.2 1017.1 141.3 1017.9 141.1 1018.6 141.0 1019.3 141.2 1020.1 141.7 1020.8 141.5 1021.6 141.8 1022.3 141.5 1023.0 141.5 1023.8 141.3 1024.5 141.7 1025.3 141.8 1026.0 141.1 1026.7 141.6 1027.5 141.2 1028.2 141.2 1029.0 141.8 1029.7 141.5 1030.5 141.1 1031.2 141.2 1032.0 141.8 1032.7 141.3 1033.5 141.1 1034.2 141.1 1035.0 141.1 1035.7 141.4 1036.5 140.9 1037.2 141.2 1037.9 141.5 1038.7 141.2 1039.4 141.7 1040.2 141.6 1040.9 141.2 1041.6 141.2 1042.4 141.4 1043.1 141.5 1043.8 141.4 1044.6 142.0 1045.3 141.7 1046.1 141.9 1046.8 142.8 1047.6 142.5 1048.3 142.9 1049.1 143.0 1049.8 143.0 1050.6 142.9 1051.3 142.8 1052.1 143.4 1052.8 143.5 1053.5 143.5 1054.3 142.9 1055.0 143.0 1055.8 143.4 1056.5 143.3 1057.2 143.7 1058.0 143.5 1058.8 143.7 1059.5 143.8 1060.2 143.6 1061.0 143.9 1061.8 143.8 1062.5 143.8 1063.2 143.8 1064.0 144.2 1064.7 144.0 1065.5 144.4 1066.2 144.0 1067.0 144.1 1067.7 144.0 1068.4 144.1 1069.2 143.7 1069.9 143.7 1070.6 143.4 1071.4 143.2 1072.1 143.0 1072.8 143.2 1073.6 143.1 1074.3 142.5 1075.1 142.4 1075.8 142.3 1076.5 142.3 1077.3 142.4 1078.0 142.4 1078.8 142.1 1079.5 142.0 1080.3 142.1 1081.0 142.0 1081.8 142.3 1082.5 142.0 1083.3 142.3 1084.0 142.0 1084.8 142.5 1085.5 142.3 1086.3 142.7 1087.0 142.5 1087.7 142.8 1088.5 142.3 1089.2 142.6 1090.0 142.9 1090.7 142.7 1091.5 142.3 1092.2 142.8 1093.0 142.1 1093.7 142.4 1094.5 142.4 1095.2 142.2 1096.0 141.7 1096.7 141.5 1097.5 141.6 1098.2 141.5 1098.9 141.7 1099.7 141.2 1100.4 141.6 1101.2 140.9 1101.9 141.4 1102.6 140.7 1103.4 140.8 1104.1 140.9 1104.8 141.2 1105.6 141.2 1106.3 141.4 1107.1 141.4 1107.8 141.4 1108.5 141.4 1109.3 141.1 1110.0 141.3 1110.8 141.2 1111.5 141.5 1112.2 141.7 1113.0 141.7 1113.8 141.5 1114.5 141.4 1115.2 142.1 1116.0 142.0 1116.8 141.9 1117.5 141.9 1118.2 142.2 1119.0 142.0 1119.7 142.0 1120.5 142.0 1121.2 142.0 1122.0 142.0 1122.7 141.8 1123.4 142.3 1124.2 142.2 1124.9 142.3 1125.7 142.0 1126.4 142.3 1127.1 142.2 1127.9 142.1 1128.6 142.1 1129.4 142.3 1130.1 142.7 1130.8 142.4 1131.6 142.4 1132.3 142.6 1133.1 142.4 1133.8 142.6 1134.5 142.2 1135.3 142.6 1136.0 142.5 1136.8 142.6 1137.5 142.4 1138.3 142.6 1139.0 142.6 1139.8 142.2 1140.5 142.3 1141.3 142.3 1142.0 142.3 1142.8 142.1 1143.5 142.2 1144.3 142.3 1145.0 142.6 1145.7 142.6 1146.5 142.1 1147.2 142.4 1148.0 142.0 1148.7 142.3 1149.5 142.0 1150.2 142.4 1151.0 142.7 1151.7 142.2 1152.5 142.7 1153.2 142.8 1154.0 142.4 1154.7 142.8 1155.5 142.9 1156.2 142.7 1156.9 142.6 1157.7 142.8 1158.4 142.7 1159.2 142.6 1159.9 142.7 1160.6 142.7 1161.4 142.7 1162.1 142.4 1162.9 142.1 1163.6 142.3 1164.3 142.0 1165.1 141.9 1165.8 142.0 1166.6 142.0 1167.3 141.4 1168.0 141.8 1168.8 141.7 1169.5 141.3 1170.3 141.3 1171.0 141.2 1171.8 140.9 1172.5 141.3 1173.2 140.8 1174.0 141.4 1174.8 141.2 1175.5 141.0 1176.2 140.8 1177.0 141.2 1177.8 141.2 1178.5 140.8 1179.2 140.6 1180.0 141.1 1180.7 141.2 1181.5 141.1 1182.2 141.1 1182.9 141.0 1183.7 141.4 1184.4 141.4 1185.2 141.1 1185.9 141.2 1186.6 141.4 1187.4 141.2 1188.1 141.1 1188.9 141.2 1189.6 141.1 1190.3 141.7 1191.1 141.7 1191.8 141.2 1192.6 141.5 1193.3 141.5 1194.0 141.5 1194.8 141.3 1195.5 141.5 1196.3 141.5 1197.0 141.9 1197.8 141.5 1198.5 141.6 1199.3 141.9 1200.0 141.6 1200.8 142.0 1201.5 142.1 1202.2 142.0 1202.9 142.2 1203.6 141.7 1204.3 141.8 1205.0 141.9 1205.8 141.7 1206.5 141.9 1207.2 141.7 1207.9 142.0 1208.6 142.0 1209.3 142.0 1210.0 141.8 1210.7 142.1 1211.4 141.8 1212.1 141.7 1212.8 141.9 1213.5 141.8 1214.3 141.7 1215.0 141.5 1215.7 141.4 1216.4 141.3 1217.1 141.7 1217.8 141.2 1218.5 141.6 1219.2 141.5 1219.9 141.7 1220.6 141.6 1221.4 141.7 1222.1 141.1 1222.8 141.3 1223.5 141.3 1224.2 141.1 1224.9 141.2 1225.6 141.2 1226.3 141.0 1227.0 141.1 1227.8 140.7 1228.5 140.9 1229.2 140.9 1229.9 140.8 1230.6 140.8 1231.3 141.0 1232.0 140.9 1232.8 140.7 1233.5 140.8 1234.2 140.5 1234.9 140.4 1235.6 140.2 1236.3 140.3 1237.1 140.5 1237.8 140.7 1238.5 140.6 1239.2 140.3 1239.9 140.6 1240.6 140.2 1241.3 140.4 1242.1 140.1 1242.8 140.3 1243.5 140.4 1244.2 140.0 1244.9 139.9 1245.6 139.8 1246.3 140.1 1247.1 140.1 1247.8 140.0 1248.5 139.7 1249.2 140.0 1249.9 140.0 1250.6 140.0 1251.4 140.4 1252.1 140.2 1252.8 140.3 1253.5 140.4 1254.2 140.3 1254.9 140.2 1255.7 140.4 1256.4 140.3 1257.1 140.3 1257.8 140.3 1258.5 140.2 1259.2 140.3 1260.0 140.4 1260.7 140.6 1261.4 140.5 1262.1 140.3 1262.8 140.5 1263.5 140.4 1264.2 140.4 1265.0 140.2 1265.7 139.9 1266.4 139.8 1267.1 140.1 1267.8 140.1 1268.5 139.8 1269.2 139.5 1270.0 139.9 1270.7 139.6 1271.4 139.6 1272.1 139.2 1272.8 139.5 1273.5 139.6 1274.3 139.3 1275.0 139.2 1275.7 139.4 1276.4 138.9 1277.1 139.1 1277.8 139.4 1278.5 139.2 1279.3 138.9 1280.0 139.0 1280.7 138.9 1281.4 138.8 1282.1 138.6 1282.8 138.6 1283.5 139.0 1284.2 138.6 1284.9 138.4 1285.6 138.9 1286.3 138.7 1287.0 138.6 1287.7 138.7 1288.4 138.8 1289.1 138.4 1289.8 138.7 1290.5 138.7 1291.2 138.8 1291.9 138.4 1292.6 138.6 1293.3 138.3 1294.0 138.6 1294.7 138.5 1295.4 138.3 1296.1 138.8 1296.9 138.8 1297.6 138.5 1298.3 138.5 1299.0 139.0 1299.7 138.9 1300.4 139.0 1301.2 138.4 1301.9 139.1 1302.6 138.9 1303.3 138.7 1304.0 138.8 1304.8 139.1 1305.5 139.1 1306.2 138.8 1306.9 139.1 1307.6 138.8 1308.4 139.4 1309.1 139.1 1309.8 139.4 1310.5 139.3 1311.2 139.3 1311.9 139.0 1312.7 139.3 1313.4 139.0 1314.1 139.3 1314.8 139.1 1315.5 139.5 1316.2 139.3 1317.0 139.5 1317.7 139.2 1318.4 139.5 1319.1 139.6 1319.8 139.3 1320.5 139.2 1321.3 139.4 1322.0 139.5 1322.7 139.2 1323.4 139.3 1324.1 139.2 1324.8 139.6 1325.6 139.8 1326.3 139.4 1327.0 139.3 1327.7 139.7 1328.4 139.8 1329.1 140.0 1329.9 139.7 1330.6 139.6 1331.3 139.9 1332.0 139.7 1332.7 139.4 1333.4 139.7 1334.1 139.2 1334.8 139.3 1335.5 139.3 1336.2 139.2 1336.9 139.0 1337.6 138.9 1338.3 139.3 1339.0 139.0 1339.8 139.0 1340.5 138.6 1341.2 138.9 1341.9 138.6 1342.6 138.7 1343.3 138.8 1344.0 138.8 1344.7 138.1 1345.4 138.6 1346.1 138.5 1346.8 138.2 1347.5 138.1 1348.2 138.2 1349.0 138.4 1349.7 138.7 1350.4 138.3 1351.1 138.7 1351.8 138.7 1352.5 138.3 1353.3 138.9 1354.0 138.3 1354.7 138.4 1355.4 138.8 1356.1 138.4 1356.9 138.7 1357.6 138.6 1358.3 138.8 1359.0 139.1 1359.7 139.2 1360.5 138.6 1361.2 138.7 1361.9 139.3 1362.6 138.8 1363.3 139.0 1364.0 138.9 1364.8 138.9 1365.5 138.9 1366.2 139.3 1366.9 139.4 1367.6 139.5 1368.3 139.5 1369.0 139.6 1369.7 139.5 1370.4 139.3 1371.1 139.5 1371.8 139.8 1372.5 139.6 1373.2 139.3 1374.0 139.2 1374.7 139.8 1375.4 139.6 1376.1 139.5 1376.8 139.7 1377.5 139.6 1378.2 139.6 1378.9 139.3 1379.6 139.6 1380.3 139.6 1381.0 139.7 1381.7 139.5 1382.4 140.1 1383.2 139.8 1383.9 140.0 1384.6 140.1 1385.3 140.2 1386.0 140.2 1386.7 140.3 1387.5 140.0 1388.2 140.6 1388.9 140.1 1389.6 140.7 1390.3 140.7 1391.1 140.7 1391.8 140.2 1392.5 140.3 1393.2 140.9 1393.9 140.7 1394.7 140.7 1395.4 141.2 1396.1 140.5 1396.8 140.9 1397.5 140.9 1398.2 140.8 1399.0 141.0 1399.7 141.3 1400.4 141.2 1401.1 141.5 1401.8 140.9 1402.5 141.2 1403.3 140.9 1404.0 141.4 1404.7 140.9 1405.4 140.9 1406.1 141.1 1406.8 141.4 1407.6 141.1 1408.3 140.9 1409.0 141.4 1409.7 141.4 1410.4 141.4 1411.1 141.1 1411.8 141.1 1412.6 141.0 1413.3 141.2 1414.0 141.1 1414.7 141.1 1415.4 141.4 1416.1 141.5 1416.9 141.3 1417.6 140.9 1418.3 141.3 1419.0 141.2" stroke="#ff0000"/>
<path d="M839.4 10V104" stroke="#ff0000" stroke-width="3.8" stroke-linecap="butt"/>
<path d="M839.2 74.7 839.2 75.1 839.2 75.5 839.2 75.9 839.2 76.3 839.2 76.7 839.2 77.1 839.2 77.5 839.2 77.9 839.2 78.3 839.2 78.7 839.2 79.1 839.2 79.5 839.2 79.9 839.2 80.3 839.2 80.7 839.2 81.1 839.2 81.5 839.2 81.9 839.2 82.3 839.2 82.7 839.2 83.1 839.2 83.5 839.2 83.9 839.2 84.3 839.2 84.7 839.2 85.1 839.2 85.5 839.2 85.9 839.2 86.3 839.2 86.7 839.2 87.1 839.2 87.5 839.2 87.9 839.2 88.3 839.2 88.7 839.2 89.1 839.2 89.5 839.2 89.9 839.2 90.3 839.2 90.7 839.2 91.1 839.2 91.5 839.2 91.9 839.2 92.3 839.2 92.7 839.2 93.1 839.2 93.6 839.2 94.0 839.2 94.4 839.2 94.8 839.2 95.2 839.2 95.6 839.2 96.0 839.2 96.4 839.2 96.8 839.2 97.2 839.2 97.6 839.2 98.0 839.2 98.4 839.2 98.8 839.2 99.2 839.2 99.6 839.2 100.0 839.2 100.4 839.2 100.8 839.2 101.2 839.2 101.6 839.2 102.0 839.2 102.4 839.2 102.8 839.2 103.2 839.2 103.6 839.2 104.0 839.2 104.4 839.2 104.8 839.2 105.2 839.2 105.6 839.2 106.0 839.2 106.4 839.2 106.8 839.2 107.2 839.2 107.6 839.2 108.0 839.2 108.4 839.2 108.8 839.2 109.2 839.2 109.6 839.2 110.0 839.2 110.4 839.2 110.8 839.2 111.2 839.2 111.6 839.2 112.0 839.3 112.4 839.3 112.8 839.4 113.2 839.5 113.6 839.5 114.0 839.6 114.4 839.7 114.8 839.7 115.2 839.8 115.6 839.9 116.0 839.9 116.4 840.0 116.8 840.0 117.2 840.1 117.6 840.2 118.0 840.2 118.4 840.3 118.8 840.4 119.2 840.4 119.6 840.5 120.0 840.5 120.4 840.6 120.8 840.6 121.2 840.7 121.6 840.7 122.0 840.8 122.4 840.8 122.8 840.9 123.2 840.9 123.6 841.0 124.1 841.0 124.5 841.1 124.9 841.1 125.3 841.1 125.7 841.2 126.1 841.2 126.5 841.3 126.9 841.3 127.3 841.4 127.7 841.4 128.1 841.5 128.5 841.5 128.9 841.6 129.3 841.6 129.7 841.6 130.1 841.7 130.5 841.7 130.9 841.8 131.4 841.8 131.8 841.9 132.2 841.9 132.6 842.0 133.0 842.0 133.4 842.1 133.8 842.1 134.2 842.2 134.6 842.2 135.0 842.2 135.4 842.3 135.8 842.3 136.2 842.4 136.6 842.4 137.1 842.4 137.5 842.5 137.9 842.5 136.6 842.6 140.4 842.6 137.4 842.7 141.2 842.7 138.2 842.7 142.1 842.8 139.0 842.8 142.9 842.9 139.9 842.9 142.0 843.0 144.1 843.2 141.1 843.3 143.5 843.4 143.4 843.6 144.4 843.7 144.2 843.9 145.2 844.0 145.0 844.1 146.0 844.3 145.8 844.4 146.5 844.5 147.2 844.6 147.0 844.7 148.0 844.9 146.5 845.0 149.8 845.1 147.3 845.2 150.6 845.3 148.0 845.4 151.3 845.6 148.8 845.7 152.1 845.8 149.6 845.9 151.5 846.0 153.3 846.2 150.8 846.3 154.1 846.4 151.9 846.6 154.2 846.7 152.7 846.9 155.0 847.0 153.5 847.1 155.9 847.3 154.3 847.4 156.0 847.6 157.0 847.9 155.4 848.1 158.2 848.4 156.2 848.6 158.8 848.9 156.8 849.1 159.5 849.4 157.5 849.6 159.0 849.8 159.8 849.9 158.7 850.1 160.6 850.2 159.4 850.4 161.4 850.5 160.2 850.6 162.2 850.8 161.0 851.0 162.9 851.1 162.9 851.3 161.7 851.5 163.0 851.7 161.0 851.9 162.3 852.1 160.2 852.3 161.6 852.5 159.5 852.7 160.9 852.9 158.4 853.1 161.1 853.3 159.0 853.6 158.0 853.8 161.4 854.1 158.6 854.3 162.0 854.6 158.8 854.8 161.9 855.1 159.5 855.3 162.6 855.6 161.8 856.0 160.7 856.5 162.1 856.9 160.4 857.4 161.8 857.8 161.0 858.0 161.1 858.2 162.0 858.4 161.9 858.6 162.7 858.8 162.6 859.0 163.4 859.2 163.3 859.4 164.6 859.6 163.3 859.8 165.3 860.0 165.0 860.3 164.4 860.7 166.4 861.0 166.0 861.1 164.8 861.3 166.8 861.4 164.0 861.5 166.0 861.6 163.2 861.8 165.2 861.9 162.4 862.0 164.4 862.2 161.6 862.3 162.0 862.7 162.9 863.0 160.6 863.4 162.5 863.8 160.2 864.1 161.3 864.5 160.3 864.8 160.9 865.2 160.5 865.5 159.6 865.7 160.3 866.0 158.8 866.3 159.6 866.6 158.2 866.8 159.0 867.1 157.6 867.4 159.8 867.7 156.6 867.9 159.1 868.2 157.0 868.4 155.6 868.7 158.1 868.9 154.7 869.1 156.1 869.4 154.0 869.6 155.4 869.8 153.3 870.0 154.7 870.3 152.6 870.5 155.0 870.7 151.6 871.0 154.3 871.2 152.5 871.6 150.7 871.9 153.4 872.2 150.5 872.6 153.0 873.0 150.0 873.3 152.5 873.6 149.5 874.0 150.5 874.4 151.9 874.7 149.7 875.1 152.3 875.5 150.7 875.8 152.9 876.2 151.1 876.6 153.3 876.9 150.8 877.3 152.3 877.7 152.5 878.1 150.8 878.5 152.8 878.9 150.8 879.3 152.5 879.7 150.5 880.1 152.0 880.5 150.6 880.9 151.7 881.2 150.4 881.6 151.8 882.0 150.1 882.4 151.5 882.8 149.8 883.2 151.1 883.6 149.6 884.0 150.8 884.4 149.3 884.8 149.7 885.2 149.6 885.6 150.6 886.0 150.8 886.4 150.1 886.8 150.5 887.2 151.2 887.6 151.0 887.9 150.7 888.3 150.4 888.7 150.7 889.1 151.4 889.5 150.7 889.9 152.0 890.3 151.1 890.7 151.6 891.1 152.4 891.5 151.5 891.9 152.6 892.3 152.3 892.7 152.1 893.1 152.2 893.5 152.5 893.9 152.5 894.3 152.2 894.7 152.2 895.1 152.7 895.5 153.4 895.9 153.1 896.3 152.4 896.7 153.1 897.1 153.7 897.5 153.6 897.9 154.0 898.3 153.1 898.7 153.9 899.1 153.1 899.5 154.0 899.8 153.6 900.2 153.6 900.6 154.6 901.0 153.7 901.4 154.3 901.8 154.9 902.2 154.2 902.6 154.6 903.4 154.2 904.2 155.1 905.0 154.5 905.8 154.9 906.6 154.6 907.4 154.0 908.1 154.4 908.9 154.2 909.7 154.8 910.4 154.1 911.2 155.1 911.9 154.0 912.7 154.6 913.4 154.8 914.2 153.9 914.9 154.2 915.7 154.7 916.4 153.9 917.2 153.9 917.9 154.4 918.7 154.0 919.4 153.6 920.2 154.6 920.9 154.0 921.6 153.7 922.4 153.6 923.1 154.0 923.8 154.3 924.6 154.5 925.3 153.9 926.1 154.2 926.8 153.9 927.5 154.4 928.3 154.8 929.0 154.6 929.7 155.0 930.5 155.2 931.2 155.2 932.0 155.4 932.7 155.3 933.5 155.1 934.2 154.9 935.0 155.5 935.7 155.2 936.5 155.1 937.2 155.6 937.9 155.6 938.7 156.2 939.4 155.5 940.2 156.1 940.9 156.0 941.7 156.2 942.4 155.9 943.2 156.9 943.9 156.2 944.7 156.7 945.4 156.7 946.1 156.7 946.9 156.3 947.6 156.9 948.4 156.5 949.1 156.5 949.9 156.5 950.6 156.7 951.4 156.7 952.1 157.3 952.9 157.3 953.6 157.3 954.3 157.8 955.1 157.7 955.8 157.8 956.6 157.0 957.3 157.2 958.1 157.0 958.8 157.4 959.6 157.4 960.3 157.6 961.1 157.5 961.8 157.3 962.5 157.1 963.3 157.3 964.0 157.4 964.8 157.0 965.5 157.0 966.3 157.4 967.0 157.2 967.8 157.8 968.5 157.4 969.3 157.3 970.0 157.7 970.7 157.3 971.5 157.3 972.2 157.2 972.9 157.4 973.7 157.2 974.4 157.0 975.2 157.2 975.9 156.7 976.6 157.3 977.4 157.2 978.1 156.7 978.8 156.9 979.6 156.6 980.3 156.7 981.1 156.8 981.8 156.3 982.6 156.6 983.3 156.7 984.1 156.4 984.8 156.3 985.6 157.0 986.3 156.7 987.0 156.5 987.8 156.6 988.5 156.9 989.3 156.6 990.0 156.2 990.8 156.8 991.5 156.2 992.3 155.8 993.0 156.4 993.8 155.8 994.5 156.1 995.3 156.1 996.1 156.7 996.9 156.7 997.6 156.2 998.4 156.8 999.2 156.9 1000.0 157.1 1000.7 157.0 1001.5 156.6 1002.2 156.9 1003.0 156.3 1003.7 156.4 1004.4 156.4 1005.2 156.8 1005.9 155.9 1006.7 156.4 1007.4 156.1 1008.1 155.9 1008.9 156.3 1009.6 156.2 1010.4 156.3 1011.1 156.6 1011.9 156.4 1012.6 156.2 1013.4 156.3 1014.1 156.3 1014.9 156.7 1015.6 157.1 1016.4 157.0 1017.1 157.3 1017.9 157.2 1018.6 156.8 1019.3 157.4 1020.1 157.6 1020.8 157.6 1021.6 157.5 1022.3 157.6 1023.0 157.5 1023.8 157.6 1024.5 157.8 1025.3 157.4 1026.0 157.6 1026.7 157.6 1027.5 158.0 1028.2 157.8 1029.0 157.9 1029.7 157.6 1030.5 157.9 1031.2 157.5 1032.0 157.5 1032.7 157.7 1033.5 157.6 1034.2 157.7 1035.0 157.9 1035.7 158.2 1036.5 157.9 1037.2 157.9 1037.9 158.2 1038.7 157.7 1039.4 157.9 1040.2 158.4 1040.9 157.8 1041.6 158.0 1042.4 157.8 1043.1 157.8 1043.9 158.5 1044.6 158.2 1045.3 158.6 1046.1 158.4 1046.8 158.1 1047.6 158.2 1048.3 158.2 1049.1 158.6 1049.8 158.6 1050.6 158.5 1051.3 158.6 1052.1 158.6 1052.8 158.3 1053.6 158.6 1054.3 158.9 1055.1 158.8 1055.8 158.3 1056.5 158.6 1057.3 158.8 1058.0 158.4 1058.8 158.9 1059.5 158.6 1060.2 158.7 1061.0 159.0 1061.8 158.9 1062.5 159.1 1063.2 159.4 1064.0 159.1 1064.7 158.9 1065.5 158.5 1066.2 158.6 1066.9 158.2 1067.7 158.5 1068.4 158.6 1069.2 158.1 1069.9 158.2 1070.6 158.1 1071.4 157.9 1072.1 157.7 1072.9 157.7 1073.6 157.8 1074.3 157.4 1075.1 157.1 1075.8 157.3 1076.6 156.7 1077.3 156.7 1078.0 156.9 1078.8 156.9 1079.5 157.0 1080.3 157.1 1081.0 156.7 1081.8 157.0 1082.5 156.9 1083.3 157.1 1084.0 157.4 1084.8 157.1 1085.5 157.2 1086.3 156.8 1087.0 157.1 1087.8 157.2 1088.5 157.4 1089.2 157.2 1090.0 157.3 1090.7 156.8 1091.5 157.4 1092.2 157.1 1092.9 157.2 1093.7 157.0 1094.4 157.2 1095.2 157.1 1095.9 156.5 1096.6 156.9 1097.4 156.8 1098.1 156.3 1098.9 156.6 1099.6 156.4 1100.3 156.4 1101.1 156.1 1101.8 156.5 1102.6 156.0 1103.3 156.3 1104.1 156.2 1104.8 156.0 1105.6 156.2 1106.3 156.1 1107.1 156.1 1107.8 155.9 1108.6 156.5 1109.3 155.9 1110.1 155.9 1110.8 156.2 1111.5 156.5 1112.3 156.4 1113.0 156.5 1113.8 156.4 1114.5 156.4 1115.2 156.6 1116.0 156.3 1116.8 156.3 1117.5 156.5 1118.2 156.2 1119.0 156.3 1119.8 156.8 1120.5 156.4 1121.2 156.8 1122.0 156.7 1122.7 156.9 1123.5 156.7 1124.2 156.9 1125.0 157.1 1125.7 157.2 1126.4 156.7 1127.2 156.7 1127.9 156.9 1128.7 157.0 1129.4 157.1 1130.1 157.0 1130.9 156.9 1131.6 157.3 1132.4 157.6 1133.1 157.3 1133.8 157.4 1134.6 157.4 1135.3 157.5 1136.1 157.8 1136.8 157.6 1137.5 157.4 1138.3 157.6 1139.0 157.4 1139.8 157.4 1140.5 157.6 1141.3 157.0 1142.0 157.5 1142.8 157.1 1143.5 157.3 1144.3 157.1 1145.0 157.3 1145.8 157.2 1146.5 157.0 1147.3 157.3 1148.0 156.8 1148.7 157.2 1149.5 157.0 1150.2 157.1 1151.0 157.3 1151.7 157.1 1152.4 157.3 1153.2 157.2 1153.9 157.0 1154.7 156.9 1155.4 157.1 1156.1 156.9 1156.9 156.9 1157.6 157.4 1158.4 156.8 1159.1 157.1 1159.8 157.3 1160.6 156.9 1161.3 156.9 1162.1 156.8 1162.8 156.6 1163.6 156.8 1164.3 156.6 1165.1 156.7 1165.8 156.6 1166.6 156.7 1167.3 156.9 1168.1 156.9 1168.8 156.5 1169.6 156.6 1170.3 156.7 1171.0 156.2 1171.8 156.0 1172.5 156.0 1173.3 155.9 1174.0 156.1 1174.7 156.2 1175.5 156.0 1176.2 156.0 1177.0 156.3 1177.7 155.9 1178.4 156.3 1179.2 156.2 1179.9 156.0 1180.7 156.3 1181.4 156.1 1182.2 156.0 1182.9 156.4 1183.7 156.5 1184.4 156.2 1185.2 156.4 1185.9 156.6 1186.7 156.5 1187.4 156.5 1188.2 156.6 1188.9 156.4 1189.6 156.7 1190.4 156.5 1191.1 156.6 1191.9 156.1 1192.6 156.3 1193.3 156.3 1194.1 156.1 1194.8 156.1 1195.6 155.9 1196.3 156.1 1197.0 156.4 1197.7 155.9 1198.5 156.0 1199.2 156.3 1199.9 155.7 1200.6 156.3 1201.3 155.7 1202.1 155.6 1202.8 155.8 1203.5 155.7 1204.2 156.1 1205.0 156.1 1205.7 155.9 1206.4 155.7 1207.1 155.7 1207.8 155.5 1208.6 155.9 1209.3 155.5 1210.0 155.6 1210.7 155.4 1211.4 155.6 1212.1 155.3 1212.8 155.3 1213.5 155.7 1214.3 155.1 1215.0 155.1 1215.7 155.1 1216.4 155.1 1217.1 155.2 1217.8 155.1 1218.5 155.1 1219.2 155.0 1219.9 155.0 1220.6 155.2 1221.4 155.0 1222.1 154.9 1222.8 155.2 1223.5 154.7 1224.2 154.7 1224.9 154.9 1225.6 155.1 1226.3 154.7 1227.0 154.9 1227.7 154.4 1228.5 154.6 1229.2 154.8 1229.9 154.4 1230.6 154.6 1231.3 154.4 1232.0 154.2 1232.7 154.6 1233.4 154.1 1234.2 154.1 1234.9 154.1 1235.6 153.9 1236.3 154.2 1237.0 153.9 1237.7 153.9 1238.4 153.8 1239.1 154.0 1239.9 154.0 1240.6 153.8 1241.3 153.5 1242.0 153.4 1242.7 153.4 1243.4 153.4 1244.1 153.1 1244.9 153.2 1245.6 153.9 1246.3 153.3 1247.0 153.9 1247.7 153.7 1248.4 153.9 1249.2 153.4 1249.9 153.6 1250.6 153.9 1251.3 153.4 1252.0 153.5 1252.8 153.7 1253.5 153.6 1254.2 153.6 1254.9 154.0 1255.6 153.6 1256.4 154.3 1257.1 154.1 1257.8 153.7 1258.5 154.3 1259.2 153.9 1259.9 154.1 1260.7 154.2 1261.4 153.9 1262.1 154.2 1262.8 154.2 1263.5 153.8 1264.3 153.9 1265.0 154.4 1265.7 154.2 1266.4 154.0 1267.1 154.1 1267.9 154.2 1268.6 153.6 1269.3 153.8 1270.0 153.6 1270.7 153.5 1271.5 153.5 1272.2 153.5 1272.9 153.4 1273.6 153.4 1274.3 153.5 1275.0 153.6 1275.8 153.8 1276.5 153.8 1277.2 153.6 1277.9 153.4 1278.6 153.7 1279.4 153.1 1280.1 153.0 1280.8 153.5 1281.5 153.3 1282.2 153.0 1283.0 153.1 1283.7 153.0 1284.4 153.1 1285.1 153.1 1285.8 153.1 1286.6 153.1 1287.3 153.5 1288.0 153.5 1288.7 153.4 1289.4 153.3 1290.2 153.2 1290.9 153.6 1291.6 153.8 1292.3 153.3 1293.0 153.7 1293.8 153.7 1294.5 153.7 1295.2 153.3 1295.9 153.7 1296.6 153.5 1297.3 153.5 1298.1 153.8 1298.8 153.9 1299.5 153.9 1300.2 154.1 1300.9 154.1 1301.7 153.9 1302.4 153.7 1303.1 154.2 1303.8 154.3 1304.5 154.3 1305.3 154.2 1306.0 153.8 1306.7 154.2 1307.4 154.0 1308.1 154.0 1308.9 154.3 1309.6 154.3 1310.3 154.0 1311.0 154.6 1311.7 154.6 1312.5 154.6 1313.2 154.3 1313.9 154.2 1314.6 154.1 1315.3 154.6 1316.1 154.5 1316.8 154.2 1317.5 154.7 1318.2 154.5 1318.9 154.4 1319.6 154.4 1320.4 154.6 1321.1 154.4 1321.8 154.6 1322.5 154.2 1323.2 154.6 1324.0 154.4 1324.7 154.8 1325.4 154.3 1326.1 154.4 1326.8 154.6 1327.6 154.5 1328.3 154.6 1329.0 154.6 1329.7 154.9 1330.4 154.3 1331.2 154.7 1331.9 154.6 1332.6 154.6 1333.3 154.3 1334.0 154.3 1334.8 154.2 1335.5 154.2 1336.2 154.0 1336.9 154.0 1337.6 154.1 1338.4 153.9 1339.1 154.0 1339.8 154.1 1340.5 153.8 1341.2 153.7 1341.9 154.0 1342.7 154.1 1343.4 153.6 1344.1 153.9 1344.8 153.9 1345.5 154.0 1346.3 153.8 1347.0 153.5 1347.7 153.4 1348.4 153.8 1349.1 153.4 1349.9 153.1 1350.6 153.7 1351.3 153.4 1352.0 153.2 1352.7 153.3 1353.5 153.4 1354.2 153.4 1354.9 153.8 1355.6 153.5 1356.3 153.6 1357.1 153.7 1357.8 154.0 1358.5 153.4 1359.2 153.9 1359.9 153.6 1360.7 153.7 1361.4 154.0 1362.1 153.9 1362.8 153.7 1363.5 154.1 1364.2 154.4 1365.0 154.2 1365.7 154.2 1366.4 154.4 1367.1 154.5 1367.8 154.0 1368.6 154.2 1369.3 154.7 1370.0 154.7 1370.7 154.2 1371.4 154.6 1372.2 154.8 1372.9 154.6 1373.6 154.6 1374.3 154.8 1375.0 154.7 1375.8 154.5 1376.5 154.5 1377.2 154.5 1377.9 154.9 1378.6 154.6 1379.4 154.9 1380.1 154.8 1380.8 154.9 1381.5 155.3 1382.2 154.9 1383.0 155.0 1383.7 155.0 1384.4 154.9 1385.1 154.9 1385.8 155.2 1386.5 155.4 1387.3 154.9 1388.0 155.6 1388.7 155.4 1389.4 155.0 1390.1 155.5 1390.9 155.3 1391.6 155.4 1392.3 155.2 1393.0 155.5 1393.7 155.5 1394.5 155.7 1395.2 155.6 1395.9 155.6 1396.6 155.7 1397.3 155.8 1398.1 155.4 1398.8 155.3 1399.5 155.6 1400.2 155.3 1401.0 155.3 1401.7 155.5 1402.4 155.6 1403.1 155.7 1403.8 155.7 1404.6 155.9 1405.3 155.3 1406.0 155.6 1406.7 155.3 1407.5 155.7 1408.2 155.6 1408.9 155.3 1409.6 155.5 1410.3 155.7 1411.1 155.6 1411.8 155.9 1412.5 155.5 1413.2 155.5 1413.9 155.9 1414.7 155.7 1415.4 155.3 1416.1 155.8 1416.8 155.5 1417.6 155.9 1418.3 155.7 1419.0 155.6" stroke="#00ff0f"/>
<path d="M839.5 113.5 839.5 113.9 839.5 114.3 839.5 114.7 839.5 115.1 839.5 115.5 839.5 115.9 839.5 116.3 839.5 116.7 839.5 117.1 839.5 117.5 839.5 117.9 839.5 118.3 839.5 118.7 839.5 119.1 839.5 119.5 839.5 119.9 839.5 120.3 839.5 120.7 839.5 121.1 839.5 121.5 839.5 121.9 839.5 122.3 839.5 122.7 839.5 123.1 839.5 123.5 839.5 123.9 839.5 124.3 839.5 124.7 839.5 125.1 839.5 125.5 839.5 125.9 839.5 126.3 839.5 126.7 839.5 127.1 839.5 127.5 839.5 128.0 839.5 128.4 839.5 128.8 839.5 129.2 839.5 129.6 839.5 130.0 839.5 130.4 839.5 130.8 839.5 131.2 839.5 131.6 839.5 132.0 839.5 132.4 839.5 132.8 839.5 133.2 839.5 133.6 839.5 134.0 839.5 134.4 839.5 134.8 839.5 135.2 839.5 135.6 839.5 136.0 839.5 136.4 839.5 136.8 839.5 137.2 839.5 137.6 839.5 138.0 839.5 138.4 839.5 138.8 839.5 139.2 839.5 139.6 839.5 140.0 839.5 140.4 839.5 140.8 839.5 141.2 839.5 141.6 839.5 142.0 839.6 142.4 839.7 142.8 839.8 143.2 839.9 143.6 840.0 144.0 840.1 144.4 840.2 144.8 840.3 145.2 840.4 145.6 840.5 146.0 840.6 146.4 840.7 146.8 840.8 147.2 840.9 147.6 841.0 148.0 841.1 148.4 841.2 148.8 841.3 149.2 841.4 149.6 841.5 150.0 841.5 150.4 841.5 150.8 841.5 151.2 841.6 151.6 841.6 152.0 841.6 152.4 841.6 152.8 841.6 153.2 841.6 153.6 841.6 154.0 841.7 154.4 841.7 154.8 841.7 155.2 841.7 155.6 841.7 156.0 841.7 156.4 841.7 156.8 841.8 157.2 841.8 157.6 841.8 158.0 841.8 158.4 841.8 158.8 841.8 159.2 841.8 159.6 841.9 160.0 841.9 160.4 841.9 160.8 841.9 161.2 841.9 161.6 841.9 162.0 841.9 162.4 842.0 162.8 842.0 163.2 842.0 163.6 842.0 164.0 842.2 164.3 842.4 164.7 842.7 164.5 842.9 166.2 843.1 165.2 843.3 167.0 843.6 165.7 843.8 167.6 844.0 167.0 844.3 166.6 844.6 168.5 845.0 166.8 845.3 168.2 845.6 167.3 846.0 168.7 846.3 167.8 846.6 169.0 846.8 170.7 846.9 169.7 847.1 171.5 847.3 170.5 847.4 172.3 847.6 171.3 847.8 173.2 847.9 172.1 848.1 172.7 848.2 173.6 848.2 173.0 848.3 174.4 848.3 173.8 848.4 175.2 848.4 174.6 848.5 176.0 848.5 175.4 848.6 176.8 848.6 176.2 848.7 177.6 848.7 177.0 848.8 178.4 848.8 177.8 848.9 178.7 849.0 179.6 849.0 179.0 849.1 180.4 849.1 179.9 849.2 181.3 849.3 180.7 849.3 182.1 849.4 181.6 849.4 182.9 849.5 182.4 849.6 183.8 849.6 182.2 849.7 184.9 849.7 183.1 849.8 185.0 850.0 186.2 850.1 184.3 850.3 187.0 850.5 185.1 850.6 187.8 850.8 185.9 851.0 188.6 851.2 186.7 851.3 189.4 851.5 189.0 851.9 187.8 852.3 190.0 852.7 188.1 853.1 189.8 853.4 188.5 853.8 190.0 854.2 188.8 854.6 191.2 855.0 190.0 855.4 189.1 855.8 191.5 856.2 189.5 856.6 191.6 857.0 189.7 857.4 191.8 857.8 189.7 858.2 191.1 858.6 191.0 859.0 189.8 859.4 191.7 859.8 189.5 860.2 191.5 860.7 189.3 861.1 190.5 861.5 189.7 861.9 190.3 862.3 190.0 862.6 188.4 862.9 190.2 863.2 187.8 863.5 189.6 863.8 187.2 864.1 189.6 864.5 186.8 864.8 189.0 865.1 186.3 865.4 188.4 865.7 185.7 866.0 186.5 866.3 187.6 866.6 184.8 866.9 187.0 867.2 184.7 867.5 186.3 867.8 184.1 868.2 185.7 868.5 183.5 868.8 185.1 869.1 182.9 869.4 184.7 869.7 182.4 870.0 182.8 870.4 183.9 870.7 181.1 871.1 182.4 871.4 180.6 871.8 181.9 872.1 181.1 872.5 181.5 872.9 180.6 873.2 181.1 873.6 180.2 873.9 180.8 874.3 178.8 874.6 180.3 875.0 179.5 875.4 178.6 875.8 179.7 876.2 178.4 876.5 179.5 876.9 178.3 877.3 179.3 877.7 178.1 878.1 179.1 878.5 178.0 878.8 179.0 879.2 177.8 879.6 178.8 880.0 178.0 880.4 177.2 880.8 178.5 881.1 176.9 881.5 178.2 881.9 176.5 882.2 177.8 882.6 177.4 883.0 176.6 883.4 177.4 883.8 176.8 884.2 175.9 884.6 177.1 885.0 177.2 885.4 177.1 885.8 176.5 886.2 176.7 886.6 175.9 887.0 176.8 887.4 176.4 887.8 175.9 888.2 176.2 888.6 175.6 889.0 176.8 889.4 177.0 889.8 175.7 890.2 176.8 890.6 176.2 891.0 175.9 891.5 176.1 891.9 176.8 892.3 177.0 892.7 175.8 893.1 176.7 893.5 175.9 893.9 176.9 894.3 176.6 894.7 176.4 895.1 177.1 895.5 177.3 895.9 176.6 896.3 177.3 896.7 176.3 897.1 176.0 897.6 176.7 898.0 176.0 898.4 176.2 898.8 176.5 899.2 176.7 899.6 176.2 900.0 176.0 900.4 176.6 901.2 176.9 902.0 176.1 902.7 176.8 903.5 176.6 904.3 175.8 905.0 175.8 905.8 175.7 906.6 175.6 907.4 175.8 908.1 175.9 908.9 175.9 909.7 176.0 910.4 176.5 911.2 176.1 911.9 176.0 912.7 176.2 913.5 176.4 914.2 175.7 915.0 175.7 915.8 176.5 916.5 175.8 917.3 175.8 918.0 175.1 918.8 175.6 919.6 175.4 920.3 175.5 921.1 174.8 921.9 175.4 922.7 175.3 923.5 174.6 924.2 175.1 925.0 174.9 925.8 174.8 926.5 175.0 927.3 174.6 928.0 174.9 928.8 174.9 929.6 174.1 930.3 174.1 931.1 174.5 931.9 174.6 932.6 174.8 933.4 173.9 934.2 174.0 934.9 174.0 935.7 173.6 936.4 173.5 937.2 173.5 937.9 173.3 938.7 173.4 939.4 173.6 940.2 173.3 940.9 173.4 941.7 173.8 942.4 173.0 943.2 173.6 943.9 173.7 944.7 173.3 945.4 173.5 946.1 173.2 946.9 173.7 947.6 173.1 948.4 173.0 949.1 173.2 949.9 173.4 950.6 172.7 951.4 172.9 952.1 172.8 952.9 173.3 953.6 172.9 954.3 172.8 955.1 173.2 955.8 172.5 956.6 172.6 957.3 172.9 958.1 173.1 958.8 172.6 959.6 172.3 960.3 172.2 961.1 172.6 961.8 172.5 962.5 172.2 963.3 172.8 964.0 172.8 964.8 172.2 965.5 172.3 966.3 172.8 967.0 172.6 967.8 172.8 968.5 172.3 969.3 172.1 970.0 172.5 970.7 172.2 971.5 172.6 972.2 172.0 972.9 172.0 973.7 172.0 974.4 171.9 975.2 171.8 975.9 172.2 976.6 171.4 977.4 171.1 978.1 171.5 978.8 171.9 979.6 171.9 980.3 172.0 981.1 171.4 981.8 171.9 982.6 171.9 983.3 171.2 984.1 171.7 984.8 171.8 985.6 171.6 986.3 171.5 987.0 171.5 987.8 171.2 988.5 171.2 989.3 171.0 990.0 170.8 990.8 171.2 991.5 170.9 992.3 171.3 993.0 170.5 993.8 171.2 994.5 170.8 995.2 171.1 995.9 171.4 996.6 171.6 997.2 171.7 997.9 171.6 998.6 171.2 999.3 172.0 1000.0 171.9 1000.7 171.7 1001.5 171.9 1002.2 172.2 1003.0 172.2 1003.7 172.2 1004.4 172.7 1005.2 172.5 1005.9 172.3 1006.7 172.3 1007.4 172.6 1008.1 172.9 1008.9 172.6 1009.6 172.8 1010.4 172.5 1011.1 172.3 1011.9 172.6 1012.6 172.9 1013.4 172.3 1014.1 172.8 1014.9 172.6 1015.6 173.0 1016.3 173.0 1017.0 173.1 1017.7 172.6 1018.4 173.1 1019.1 173.4 1019.8 172.9 1020.5 173.1 1021.2 173.2 1021.9 173.5 1022.6 173.5 1023.3 173.6 1024.0 174.0 1024.7 173.4 1025.4 173.6 1026.1 173.7 1026.8 174.1 1027.5 173.8 1028.3 173.7 1029.0 174.3 1029.8 174.2 1030.5 173.5 1031.3 173.8 1032.0 173.6 1032.7 173.6 1033.5 173.5 1034.2 173.7 1035.0 173.6 1035.7 173.4 1036.5 173.2 1037.2 173.4 1037.9 173.3 1038.7 173.2 1039.4 173.5 1040.2 173.6 1040.9 173.4 1041.7 173.2 1042.4 173.3 1043.1 173.5 1043.9 173.7 1044.6 173.8 1045.4 173.6 1046.1 173.9 1046.9 173.8 1047.6 173.7 1048.3 173.7 1049.0 173.7 1049.7 173.9 1050.4 174.1 1051.1 174.0 1051.8 174.2 1052.5 174.1 1053.2 174.0 1053.9 174.3 1054.7 174.5 1055.4 174.1 1056.1 174.4 1056.8 174.5 1057.5 174.8 1058.2 175.0 1058.9 174.6 1059.6 175.1 1060.3 175.0 1061.0 174.9 1061.7 174.6 1062.5 174.6 1063.2 174.3 1064.0 174.6 1064.7 174.4 1065.5 174.4 1066.2 174.2 1066.9 174.0 1067.7 173.9 1068.4 173.7 1069.2 173.2 1069.9 173.4 1070.6 173.3 1071.4 172.8 1072.1 172.7 1072.9 173.0 1073.6 172.3 1074.3 172.2 1075.1 172.1 1075.8 172.5 1076.6 171.8 1077.3 171.9 1078.0 171.6 1078.7 172.1 1079.4 171.6 1080.1 172.1 1080.8 172.0 1081.5 172.1 1082.2 172.2 1082.9 172.0 1083.6 172.1 1084.3 171.6 1085.0 172.1 1085.7 171.9 1086.4 172.1 1087.1 171.6 1087.8 172.1 1088.5 172.2 1089.2 171.9 1089.9 171.5 1090.6 171.6 1091.3 171.7 1092.0 171.8 1092.7 171.4 1093.5 171.2 1094.2 171.2 1094.9 171.4 1095.6 171.4 1096.3 171.1 1097.0 171.0 1097.7 171.0 1098.4 170.9 1099.1 170.8 1099.8 170.5 1100.6 170.8 1101.3 171.0 1102.0 170.6 1102.7 170.7 1103.4 170.2 1104.1 170.4 1104.8 170.5 1105.5 170.6 1106.2 170.6 1106.9 170.5 1107.6 170.5 1108.4 170.6 1109.1 170.8 1109.8 170.3 1110.5 170.2 1111.2 170.7 1111.9 170.8 1112.6 170.6 1113.3 170.5 1114.0 170.8 1114.7 170.4 1115.5 170.5 1116.2 170.4 1116.9 170.7 1117.6 170.5 1118.3 170.5 1119.0 170.7 1119.7 170.9 1120.4 171.1 1121.1 170.6 1121.8 170.9 1122.5 170.8 1123.2 171.1 1123.9 170.9 1124.6 170.7 1125.3 170.7 1126.0 170.6 1126.8 170.9 1127.5 170.9 1128.2 170.8 1128.9 170.9 1129.6 170.9 1130.3 171.3 1131.0 170.9 1131.7 171.5 1132.4 171.1 1133.1 171.2 1133.8 171.2 1134.5 171.2 1135.2 171.4 1135.9 171.4 1136.6 171.2 1137.3 171.2 1138.1 171.4 1138.8 171.4 1139.5 171.1 1140.2 171.4 1140.9 171.5 1141.6 171.2 1142.3 171.0 1143.0 171.0 1143.7 171.4 1144.4 171.3 1145.2 171.5 1145.9 171.4 1146.6 171.0 1147.3 171.0 1148.0 171.0 1148.7 171.2 1149.4 171.0 1150.1 171.3 1150.8 171.4 1151.5 171.4 1152.2 170.9 1153.0 171.3 1153.7 170.9 1154.4 171.0 1155.1 171.1 1155.8 170.7 1156.5 170.7 1157.2 171.1 1157.9 170.7 1158.6 170.8 1159.3 170.9 1160.1 170.9 1160.8 170.5 1161.5 170.7 1162.2 170.7 1162.9 170.7 1163.6 170.7 1164.3 170.5 1165.0 170.7 1165.7 170.9 1166.4 170.5 1167.1 170.6 1167.9 170.3 1168.6 170.3 1169.3 170.6 1170.0 170.2 1170.7 170.7 1171.4 170.7 1172.1 170.1 1172.8 170.6 1173.5 170.2 1174.2 170.5 1175.0 170.4 1175.7 170.1 1176.4 170.3 1177.1 170.3 1177.8 170.3 1178.5 170.1 1179.2 170.0 1179.9 170.3 1180.6 170.5 1181.3 170.3 1182.0 170.2 1182.7 169.9 1183.4 170.2 1184.1 170.1 1184.8 170.4 1185.5 170.4 1186.3 170.3 1187.0 170.0 1187.7 170.4 1188.4 170.4 1189.1 170.1 1189.8 170.6 1190.5 170.5 1191.2 170.1 1191.9 170.7 1192.6 170.1 1193.3 170.4 1194.0 170.3 1194.8 170.5 1195.5 170.4 1196.2 170.3 1196.9 170.4 1197.7 170.2 1198.4 170.1 1199.1 169.9 1199.8 169.8 1200.6 170.2 1201.3 170.2 1202.0 170.1 1202.7 170.2 1203.5 169.9 1204.2 169.8 1204.9 169.8 1205.6 170.1 1206.4 169.5 1207.1 169.8 1207.8 169.6 1208.5 169.9 1209.3 169.6 1210.0 169.7 1210.7 169.7 1211.5 169.8 1212.2 169.9 1213.0 170.2 1213.7 169.9 1214.4 170.4 1215.2 169.9 1215.9 170.1 1216.7 170.0 1217.4 170.4 1218.1 170.1 1218.8 170.5 1219.5 170.3 1220.2 169.9 1220.9 169.8 1221.7 169.9 1222.4 170.1 1223.1 170.0 1223.8 169.9 1224.5 169.8 1225.2 169.4 1225.9 169.5 1226.6 169.3 1227.3 169.4 1228.0 169.4 1228.8 169.0 1229.5 169.0 1230.2 169.3 1230.9 168.7 1231.6 169.2 1232.3 168.9 1233.0 169.2 1233.7 169.2 1234.5 168.8 1235.2 168.9 1235.9 168.9 1236.6 168.9 1237.3 169.2 1238.1 169.0 1238.8 168.7 1239.5 169.1 1240.2 168.8 1240.9 168.9 1241.7 168.9 1242.4 168.4 1243.1 168.9 1243.8 168.9 1244.5 168.7 1245.2 168.7 1246.0 168.7 1246.7 168.5 1247.4 168.7 1248.1 168.4 1248.8 168.7 1249.6 168.8 1250.3 168.6 1251.0 168.7 1251.7 169.0 1252.4 168.9 1253.2 168.4 1253.9 168.8 1254.6 168.6 1255.3 168.7 1256.0 168.2 1256.7 168.4 1257.4 168.3 1258.1 168.2 1258.8 168.5 1259.5 168.7 1260.2 168.3 1260.9 168.6 1261.7 168.5 1262.4 168.1 1263.1 168.6 1263.8 168.4 1264.5 168.6 1265.2 168.4 1265.9 168.4 1266.6 168.1 1267.3 168.4 1268.0 168.5 1268.7 168.4 1269.4 168.1 1270.1 168.3 1270.8 168.0 1271.5 167.8 1272.2 167.7 1272.9 167.7 1273.6 167.8 1274.3 167.7 1275.1 167.9 1275.8 168.0 1276.5 167.9 1277.2 167.8 1277.9 167.9 1278.6 167.7 1279.3 167.7 1280.0 167.9 1280.7 167.7 1281.4 167.7 1282.1 167.5 1282.8 168.0 1283.5 167.9 1284.2 167.7 1285.0 167.7 1285.7 167.8 1286.4 167.9 1287.1 167.7 1287.8 167.5 1288.5 167.7 1289.2 168.1 1289.9 167.7 1290.7 167.9 1291.4 167.8 1292.1 167.8 1292.8 167.8 1293.5 168.0 1294.2 167.8 1294.9 167.7 1295.6 167.8 1296.4 167.9 1297.1 168.1 1297.8 167.9 1298.5 167.8 1299.2 168.2 1299.9 168.2 1300.6 168.2 1301.3 168.4 1302.0 168.0 1302.7 168.3 1303.5 168.3 1304.2 168.1 1304.9 168.8 1305.6 168.3 1306.3 168.2 1307.0 168.5 1307.7 168.4 1308.4 168.7 1309.1 168.6 1309.8 168.4 1310.6 168.4 1311.3 168.9 1312.0 168.6 1312.7 169.0 1313.4 168.8 1314.1 168.9 1314.8 169.2 1315.5 168.8 1316.3 168.8 1317.0 168.8 1317.7 169.2 1318.4 169.0 1319.1 168.9 1319.9 168.7 1320.6 169.1 1321.3 169.3 1322.0 169.1 1322.7 168.7 1323.5 168.7 1324.2 168.7 1324.9 168.8 1325.6 168.7 1326.3 168.8 1327.0 169.2 1327.8 169.4 1328.5 168.9 1329.2 169.4 1329.9 169.1 1330.6 169.3 1331.4 169.4 1332.1 169.4 1332.8 168.8 1333.5 169.0 1334.2 169.2 1335.0 169.5 1335.7 168.9 1336.4 169.2 1337.1 169.0 1337.8 169.4 1338.6 168.9 1339.3 169.0 1340.0 169.0 1340.7 169.2 1341.4 169.4 1342.2 168.8 1342.9 169.2 1343.6 169.2 1344.3 169.2 1345.0 169.0 1345.8 169.2 1346.5 168.8 1347.2 168.8 1347.9 168.7 1348.6 169.1 1349.3 168.8 1350.1 168.7 1350.8 168.6 1351.5 168.9 1352.2 168.8 1352.9 168.9 1353.7 168.7 1354.4 168.7 1355.1 168.5 1355.8 168.8 1356.5 168.3 1357.3 168.6 1358.0 168.8 1358.7 168.6 1359.4 168.7 1360.1 168.4 1360.9 168.5 1361.6 168.9 1362.3 168.8 1363.0 169.0 1363.7 169.0 1364.5 168.7 1365.2 169.1 1365.9 169.0 1366.6 168.7 1367.3 168.7 1368.1 168.6 1368.8 168.8 1369.5 169.2 1370.2 168.6 1370.9 169.0 1371.6 168.7 1372.4 168.7 1373.1 169.1 1373.8 168.8 1374.5 168.7 1375.2 168.8 1376.0 169.2 1376.7 169.1 1377.4 168.8 1378.1 168.9 1378.8 169.5 1379.6 169.0 1380.3 169.2 1381.0 169.2 1381.7 169.2 1382.4 169.5 1383.2 169.4 1383.9 169.6 1384.6 169.4 1385.3 169.2 1386.0 169.3 1386.7 169.3 1387.5 169.8 1388.2 169.4 1388.9 169.4 1389.6 170.1 1390.3 169.6 1391.1 170.1 1391.8 169.6 1392.5 169.9 1393.2 169.8 1393.9 170.2 1394.7 170.1 1395.4 170.2 1396.1 170.3 1396.8 170.4 1397.5 170.1 1398.2 170.3 1399.0 170.3 1399.7 170.1 1400.4 170.4 1401.1 170.6 1401.8 170.4 1402.5 170.5 1403.3 170.1 1404.0 170.3 1404.7 170.2 1405.4 170.4 1406.1 169.9 1406.8 170.0 1407.6 170.1 1408.3 169.8 1409.0 170.1 1409.7 170.2 1410.4 170.0 1411.1 170.1 1411.8 170.0 1412.6 169.7 1413.3 169.8 1414.0 170.2 1414.7 169.7 1415.4 169.8 1416.1 169.5 1416.9 169.6 1417.6 169.5 1418.3 170.0 1419.0 169.7" stroke="#0000ff"/>
<path d="M839.8 142.0 839.8 142.4 839.8 142.8 839.8 143.2 839.8 143.6 839.8 144.0 839.8 144.4 839.9 144.8 839.9 145.2 839.9 145.6 839.9 146.0 839.9 146.4 839.9 146.8 839.9 147.2 839.9 147.7 839.9 148.1 839.9 148.5 839.9 148.9 839.9 149.3 839.9 149.7 840.0 150.1 840.0 150.5 840.0 150.9 840.0 151.3 840.0 151.7 840.0 152.1 840.0 152.5 840.0 152.9 840.0 153.3 840.0 153.7 840.0 154.1 840.0 154.5 840.0 154.9 840.1 155.3 840.1 155.7 840.1 156.1 840.1 156.5 840.1 156.9 840.1 157.3 840.1 157.8 840.1 158.2 840.1 158.6 840.1 159.0 840.1 159.4 840.1 159.8 840.1 160.2 840.2 160.6 840.2 161.0 840.2 161.4 840.2 161.8 840.2 162.2 840.2 162.6 840.2 163.0 840.3 163.4 840.5 163.8 840.6 164.2 840.8 164.6 840.9 164.9 841.1 165.3 841.2 165.7 841.4 166.1 841.5 166.5 841.6 166.9 841.8 167.3 841.9 167.7 842.1 168.1 842.2 168.4 842.4 168.8 842.5 168.6 842.7 170.0 842.8 170.0 842.8 169.7 842.9 171.2 842.9 170.5 842.9 172.0 843.0 171.3 843.0 172.8 843.0 172.1 843.1 173.6 843.1 172.9 843.1 174.4 843.2 173.7 843.2 175.2 843.2 174.1 843.2 176.2 843.3 174.9 843.3 177.0 843.3 175.7 843.4 177.8 843.4 176.5 843.4 178.6 843.5 177.3 843.5 179.4 843.5 178.1 843.6 180.2 843.6 180.0 843.7 179.3 843.8 181.4 843.9 180.1 844.0 182.2 844.1 180.9 844.2 183.0 844.3 181.6 844.3 183.8 844.4 182.4 844.5 184.6 844.6 183.2 844.7 185.4 844.8 184.8 844.9 186.9 845.0 186.0 845.2 185.9 845.5 188.0 845.7 186.6 845.9 188.8 846.1 187.3 846.4 189.6 846.6 185.6 846.8 191.5 847.0 186.3 847.3 192.4 847.5 190.0 847.9 187.0 848.2 191.5 848.6 188.0 849.0 192.0 849.3 188.5 849.7 192.7 850.0 189.7 850.4 192.0 850.7 193.4 851.1 190.4 851.4 193.4 851.7 192.0 852.1 193.8 852.4 192.4 852.7 194.2 853.1 192.8 853.4 194.0 853.7 197.5 854.1 193.5 854.4 197.7 854.7 192.1 855.1 198.3 855.4 192.7 855.8 198.8 856.1 193.3 856.4 197.4 856.8 193.9 857.1 197.0 857.5 198.2 857.8 196.2 858.2 200.1 858.6 196.7 858.9 200.6 859.3 198.5 859.7 195.6 860.0 201.1 860.4 195.1 860.8 200.6 861.2 194.2 861.5 197.7 861.9 193.7 862.3 196.6 862.6 198.8 863.0 193.8 863.3 198.2 863.6 193.2 864.0 197.6 864.3 192.9 864.6 195.5 865.0 192.3 865.3 194.0 865.7 194.4 866.0 191.9 866.4 194.0 866.7 191.6 867.1 193.6 867.5 190.1 867.8 195.3 868.2 189.8 868.6 194.8 868.9 190.5 869.3 192.9 869.6 190.3 870.0 191.6 870.4 193.0 870.8 189.2 871.2 192.7 871.6 189.2 872.0 192.9 872.4 189.1 872.8 192.5 873.2 189.1 873.6 191.5 874.0 190.5 874.4 189.5 874.8 191.0 875.2 189.2 875.6 190.7 876.0 188.9 876.4 190.4 876.8 188.7 877.2 190.0 877.6 189.0 878.0 189.7 878.4 188.0 878.8 189.2 879.2 187.8 879.6 188.9 880.0 188.6 880.4 188.5 880.8 189.5 881.2 188.5 881.6 189.5 882.0 188.8 882.4 188.4 882.8 189.6 883.2 188.4 883.6 189.4 884.0 188.5 884.5 189.5 884.9 188.1 885.3 189.5 885.7 188.3 886.1 189.3 886.5 189.6 886.9 189.0 887.3 189.7 887.7 189.1 888.2 189.8 888.6 189.3 889.0 189.5 889.4 190.2 889.8 189.5 890.2 189.9 890.6 190.1 891.0 190.7 891.4 189.6 891.8 189.6 892.2 190.0 892.7 190.9 893.1 190.8 893.5 190.3 893.9 190.5 894.3 190.9 894.7 190.4 895.1 190.8 895.5 190.2 895.9 191.1 896.3 191.3 896.7 191.4 897.1 191.0 897.6 191.3 898.0 190.0 898.4 190.3 898.8 191.2 899.2 191.0 899.6 190.4 900.0 191.1 900.4 190.5 901.1 190.5 901.8 190.5 902.5 189.7 903.2 189.4 903.8 189.5 904.5 188.9 905.2 189.0 905.9 189.5 906.6 188.8 907.4 188.5 908.1 188.0 908.9 187.9 909.7 187.9 910.4 188.5 911.2 187.9 911.9 187.7 912.7 187.8 913.5 187.3 914.2 188.4 915.0 187.7 915.8 187.5 916.5 187.3 917.3 187.3 918.0 187.4 918.8 187.8 919.6 187.9 920.3 187.1 921.1 186.9 921.9 187.3 922.7 186.9 923.5 187.6 924.2 186.5 925.0 186.8 925.8 187.0 926.5 187.4 927.3 187.1 928.0 187.8 928.8 187.4 929.6 187.3 930.3 187.6 931.1 187.8 931.9 187.4 932.6 187.9 933.4 187.7 934.2 188.5 934.9 188.5 935.7 188.2 936.4 187.8 937.2 188.4 937.9 188.0 938.7 187.9 939.4 187.8 940.2 187.7 940.9 188.3 941.7 187.5 942.4 187.3 943.2 188.1 943.9 187.7 944.7 188.0 945.4 187.4 946.1 187.2 946.9 187.7 947.6 187.4 948.4 187.5 949.1 187.4 949.9 187.1 950.6 186.6 951.4 186.7 952.1 187.3 952.9 187.3 953.6 186.8 954.3 187.3 955.1 186.7 955.8 187.1 956.6 187.2 957.3 187.1 958.1 187.3 958.8 187.1 959.6 187.2 960.3 187.3 961.1 186.9 961.8 187.2 962.5 187.6 963.3 187.7 964.0 186.8 964.8 187.7 965.5 187.7 966.3 187.4 967.0 186.8 967.8 187.6 968.5 186.8 969.3 187.7 970.0 187.2 970.7 187.4 971.5 186.8 972.2 186.9 972.9 187.3 973.7 187.3 974.4 187.4 975.2 187.6 975.9 186.9 976.6 186.7 977.4 187.6 978.1 187.2 978.8 186.7 979.6 187.5 980.3 186.7 981.1 187.3 981.8 187.3 982.6 187.3 983.3 187.0 984.1 187.3 984.8 186.6 985.6 187.0 986.3 186.8 987.0 186.6 987.8 187.1 988.5 186.9 989.3 186.6 990.0 186.6 990.8 186.2 991.5 186.1 992.3 186.6 993.0 186.5 993.8 186.8 994.5 186.4 995.3 186.4 996.1 186.0 996.9 186.1 997.6 186.4 998.4 186.1 999.2 185.6 1000.0 186.0 1000.7 186.3 1001.4 186.4 1002.1 185.8 1002.8 186.2 1003.5 186.1 1004.3 186.5 1005.0 186.1 1005.7 186.1 1006.4 186.3 1007.1 186.8 1007.8 186.1 1008.5 186.1 1009.2 186.6 1009.9 186.9 1010.6 186.6 1011.4 186.6 1012.1 186.9 1012.8 186.9 1013.5 186.4 1014.2 187.1 1014.9 186.8 1015.6 186.6 1016.3 186.8 1017.0 187.3 1017.7 187.0 1018.4 187.4 1019.1 187.0 1019.8 187.6 1020.5 187.1 1021.2 187.2 1021.9 187.5 1022.6 187.4 1023.3 187.7 1024.0 188.0 1024.7 188.0 1025.4 187.5 1026.1 187.8 1026.8 188.0 1027.5 188.0 1028.2 187.9 1028.9 188.0 1029.6 187.8 1030.3 187.5 1031.0 187.5 1031.7 188.0 1032.4 187.5 1033.1 187.8 1033.8 187.9 1034.6 187.6 1035.3 187.6 1036.0 187.5 1036.7 187.3 1037.4 187.7 1038.1 187.3 1038.8 187.6 1039.5 187.1 1040.2 187.5 1040.9 187.4 1041.6 187.1 1042.3 187.2 1043.0 187.2 1043.7 187.0 1044.5 187.5 1045.2 187.2 1045.9 187.5 1046.6 187.2 1047.3 187.2 1048.0 187.3 1048.8 187.8 1049.5 187.4 1050.2 188.0 1050.9 187.6 1051.6 187.8 1052.3 187.7 1053.1 188.0 1053.8 187.6 1054.5 187.9 1055.2 188.3 1055.9 187.8 1056.6 188.2 1057.4 188.0 1058.1 188.1 1058.8 187.9 1059.5 188.3 1060.2 187.9 1060.9 188.4 1061.6 188.2 1062.3 188.1 1063.0 188.0 1063.7 188.0 1064.4 187.3 1065.1 187.5 1065.8 187.3 1066.5 187.3 1067.2 187.4 1067.9 187.2 1068.6 187.3 1069.3 186.5 1070.0 186.8 1070.7 186.7 1071.4 186.5 1072.1 186.6 1072.8 186.5 1073.5 186.6 1074.2 186.1 1074.9 186.5 1075.7 186.1 1076.4 186.2 1077.1 186.3 1077.8 186.1 1078.5 185.8 1079.2 185.7 1079.9 185.7 1080.6 185.8 1081.3 186.0 1082.0 185.9 1082.8 185.5 1083.5 185.5 1084.2 185.7 1084.9 185.3 1085.6 185.3 1086.3 185.3 1087.0 184.9 1087.7 185.0 1088.4 185.1 1089.1 185.2 1089.9 185.1 1090.6 184.8 1091.3 185.2 1092.0 184.9 1092.7 184.5 1093.4 184.4 1094.1 185.0 1094.8 184.9 1095.6 184.8 1096.3 184.5 1097.0 184.3 1097.7 184.1 1098.4 184.1 1099.1 184.0 1099.8 184.5 1100.5 184.4 1101.3 184.2 1102.0 183.7 1102.7 183.7 1103.4 183.7 1104.1 183.8 1104.8 184.1 1105.5 183.6 1106.2 184.0 1106.9 184.0 1107.6 183.9 1108.4 184.2 1109.1 183.7 1109.8 183.9 1110.5 183.7 1111.2 183.7 1111.9 183.6 1112.6 183.8 1113.3 183.7 1114.0 183.7 1114.7 184.4 1115.5 183.9 1116.2 184.3 1116.9 184.2 1117.6 184.2 1118.3 184.2 1119.0 184.1 1119.7 184.5 1120.4 184.5 1121.1 184.4 1121.8 184.4 1122.5 184.5 1123.2 184.6 1123.9 184.5 1124.6 184.6 1125.3 184.4 1126.0 184.9 1126.8 184.7 1127.5 184.5 1128.2 184.6 1128.9 185.2 1129.6 184.8 1130.3 184.9 1131.0 185.2 1131.7 185.4 1132.4 185.1 1133.1 185.2 1133.8 185.3 1134.5 185.2 1135.2 185.0 1135.9 185.6 1136.6 185.0 1137.3 185.6 1138.1 185.1 1138.8 185.1 1139.5 185.5 1140.2 185.5 1140.9 185.1 1141.6 185.3 1142.3 185.3 1143.0 185.5 1143.7 185.1 1144.4 185.5 1145.2 185.6 1145.9 185.4 1146.6 185.6 1147.3 185.6 1148.0 185.2 1148.7 185.3 1149.4 185.5 1150.1 185.4 1150.8 185.2 1151.5 184.8 1152.2 185.1 1152.9 185.3 1153.6 184.8 1154.3 185.0 1155.0 185.2 1155.7 184.9 1156.4 184.5 1157.1 184.8 1157.8 184.5 1158.5 184.9 1159.2 184.7 1159.9 184.4 1160.6 184.5 1161.3 184.7 1162.0 184.5 1162.7 184.2 1163.4 184.5 1164.1 184.5 1164.9 184.5 1165.6 184.4 1166.3 184.2 1167.0 184.2 1167.7 184.1 1168.4 184.0 1169.1 184.3 1169.8 183.8 1170.5 183.5 1171.2 183.9 1172.0 183.7 1172.7 183.7 1173.4 183.7 1174.1 183.4 1174.8 183.3 1175.5 183.5 1176.2 183.2 1176.9 183.7 1177.6 183.9 1178.3 183.7 1179.1 183.4 1179.8 184.0 1180.5 183.9 1181.2 183.7 1181.9 183.4 1182.6 184.0 1183.3 183.9 1184.0 183.9 1184.8 183.5 1185.5 184.0 1186.2 183.5 1186.9 183.9 1187.6 183.7 1188.3 183.8 1189.0 184.2 1189.7 184.2 1190.5 184.2 1191.2 183.9 1191.9 184.0 1192.6 184.1 1193.3 184.1 1194.0 183.8 1194.8 184.0 1195.5 184.4 1196.2 184.2 1196.9 184.3 1197.7 183.9 1198.4 184.1 1199.1 184.2 1199.8 184.1 1200.6 183.9 1201.3 183.7 1202.0 183.6 1202.7 184.2 1203.5 184.2 1204.2 183.7 1204.9 184.1 1205.6 183.8 1206.4 184.0 1207.1 184.1 1207.8 183.7 1208.5 183.9 1209.3 183.6 1210.0 183.8 1210.7 183.8 1211.5 183.5 1212.2 183.7 1213.0 183.8 1213.7 184.2 1214.4 183.7 1215.2 184.2 1215.9 183.8 1216.7 184.4 1217.4 184.1 1218.1 183.8 1218.8 183.7 1219.6 183.8 1220.3 184.2 1221.0 184.0 1221.7 184.1 1222.4 183.8 1223.2 183.4 1223.9 183.6 1224.6 183.6 1225.3 183.9 1226.0 183.3 1226.8 183.3 1227.5 183.7 1228.2 183.1 1228.9 183.7 1229.6 183.1 1230.3 183.3 1231.1 183.3 1231.8 183.4 1232.5 182.8 1233.2 183.3 1233.9 182.8 1234.7 183.1 1235.4 182.6 1236.1 183.0 1236.8 182.6 1237.5 182.5 1238.3 182.4 1239.0 182.5 1239.7 182.6 1240.4 182.5 1241.1 183.0 1241.8 182.7 1242.5 182.6 1243.2 183.0 1243.9 182.5 1244.6 182.5 1245.3 183.0 1246.0 183.1 1246.7 182.9 1247.4 183.1 1248.1 182.5 1248.8 183.1 1249.5 183.0 1250.2 183.0 1250.9 183.1 1251.6 182.6 1252.3 182.7 1253.0 182.6 1253.7 182.9 1254.4 183.0 1255.1 183.0 1255.8 182.9 1256.5 183.1 1257.2 183.2 1257.9 183.2 1258.6 182.7 1259.3 182.8 1260.0 182.9 1260.7 182.9 1261.4 183.1 1262.1 183.1 1262.8 182.9 1263.5 183.1 1264.3 182.9 1265.0 182.9 1265.7 183.1 1266.4 183.2 1267.1 182.6 1267.9 182.7 1268.6 183.1 1269.3 182.5 1270.0 182.4 1270.7 182.5 1271.5 182.9 1272.2 182.8 1272.9 182.9 1273.6 182.5 1274.3 182.2 1275.0 182.3 1275.8 182.6 1276.5 182.3 1277.2 182.1 1277.9 182.2 1278.6 182.3 1279.4 182.1 1280.1 182.2 1280.8 181.9 1281.5 181.8 1282.2 182.3 1283.0 182.2 1283.7 182.0 1284.4 182.0 1285.1 181.7 1285.8 181.9 1286.6 182.1 1287.3 182.4 1288.0 182.1 1288.7 182.4 1289.4 182.2 1290.2 181.9 1290.9 182.3 1291.6 182.3 1292.3 182.3 1293.0 182.4 1293.8 181.9 1294.5 182.2 1295.2 182.5 1295.9 182.1 1296.6 182.0 1297.3 182.1 1298.1 182.2 1298.8 182.3 1299.5 182.3 1300.2 182.5 1300.9 182.2 1301.7 182.4 1302.4 182.6 1303.1 182.5 1303.8 182.8 1304.5 182.8 1305.3 182.4 1306.0 182.5 1306.7 182.6 1307.4 182.6 1308.1 182.7 1308.9 182.6 1309.6 182.9 1310.3 182.5 1311.0 182.7 1311.7 182.4 1312.5 183.0 1313.2 182.8 1313.9 183.1 1314.6 182.5 1315.3 182.9 1316.1 182.9 1316.8 182.5 1317.5 183.1 1318.2 183.1 1318.9 182.6 1319.6 183.2 1320.4 183.1 1321.1 183.0 1321.8 183.0 1322.5 182.8 1323.2 182.7 1324.0 183.0 1324.7 183.3 1325.4 182.8 1326.1 183.0 1326.8 182.9 1327.6 183.2 1328.3 183.4 1329.0 183.1 1329.7 183.3 1330.4 182.9 1331.2 183.0 1331.9 182.6 1332.6 183.0 1333.3 183.2 1334.0 183.2 1334.8 182.6 1335.5 182.8 1336.2 182.5 1336.9 182.8 1337.6 183.1 1338.4 182.6 1339.1 183.0 1339.8 183.0 1340.5 182.9 1341.2 182.5 1341.9 182.9 1342.7 182.9 1343.4 182.9 1344.1 182.2 1344.8 182.2 1345.5 182.4 1346.3 182.5 1347.0 182.4 1347.7 182.1 1348.4 182.5 1349.1 182.5 1349.9 182.4 1350.6 182.3 1351.3 182.3 1352.0 182.4 1352.7 182.5 1353.5 182.1 1354.2 182.4 1354.9 182.2 1355.6 182.2 1356.3 182.7 1357.1 182.4 1357.8 182.4 1358.5 182.4 1359.2 182.6 1359.9 182.3 1360.7 182.7 1361.4 182.4 1362.1 183.0 1362.8 182.5 1363.5 182.9 1364.2 182.8 1365.0 182.7 1365.7 182.7 1366.4 182.7 1367.1 183.0 1367.8 182.9 1368.6 182.9 1369.3 182.8 1370.0 183.1 1370.7 182.8 1371.4 183.0 1372.2 183.2 1372.9 183.1 1373.6 183.1 1374.3 183.2 1375.0 183.2 1375.8 183.0 1376.5 183.5 1377.2 183.4 1377.9 183.5 1378.6 183.6 1379.4 183.3 1380.1 183.3 1380.8 183.3 1381.5 183.3 1382.2 183.3 1383.0 183.4 1383.7 183.3 1384.4 183.6 1385.1 183.5 1385.8 183.6 1386.5 183.8 1387.3 183.6 1388.0 184.0 1388.7 184.0 1389.4 183.7 1390.1 184.1 1390.9 183.6 1391.6 183.6 1392.3 184.3 1393.0 183.6 1393.7 183.7 1394.5 184.3 1395.2 183.7 1395.9 184.1 1396.6 184.2 1397.3 184.1 1398.0 183.9 1398.7 183.8 1399.4 184.3 1400.1 183.9 1400.8 183.8 1401.5 183.9 1402.2 184.1 1402.9 183.8 1403.6 183.6 1404.3 184.1 1405.0 183.6 1405.7 183.5 1406.4 183.5 1407.1 184.2 1407.8 183.7 1408.5 183.9 1409.2 183.8 1409.9 184.1 1410.6 183.6 1411.3 183.6 1412.0 183.8 1412.7 183.3 1413.4 183.5 1414.1 183.8 1414.8 183.7 1415.5 183.6 1416.2 183.9 1416.9 183.5 1417.6 183.7 1418.3 183.4 1419.0 183.5" stroke="#00ffff"/>
<path d="M841.0 168.0 841.0 168.4 841.0 168.8 841.0 169.2 841.0 169.6 841.0 170.0 841.0 170.4 841.0 170.8 841.0 171.2 841.0 171.6 841.0 172.0 841.0 172.5 841.0 172.9 841.0 173.3 841.0 173.7 841.0 174.1 841.0 174.5 841.0 174.9 841.0 175.3 841.0 175.7 841.0 176.1 841.0 176.5 841.0 176.9 841.0 177.3 841.0 177.7 841.0 178.1 841.0 178.5 841.0 178.9 841.0 179.3 841.0 179.7 841.0 180.1 841.0 180.5 841.0 181.0 841.0 181.4 841.0 181.8 841.0 182.2 841.0 182.6 841.0 183.0 841.0 183.4 841.0 183.8 841.0 184.2 841.0 184.6 841.0 185.0 841.0 185.4 841.0 185.8 841.0 186.2 841.0 186.6 841.0 187.0 841.0 187.4 841.0 187.8 841.0 188.2 841.0 188.6 841.0 189.1 841.0 189.5 841.0 189.9 841.0 190.3 841.0 190.7 841.0 191.1 841.0 191.5 841.0 191.9 841.0 192.3 841.0 192.7 841.0 193.1 841.0 193.5 841.0 193.9 841.0 194.3 841.0 194.7 841.0 195.1 841.0 195.5 841.0 195.9 841.0 196.4 841.0 196.8 841.0 197.2 841.0 197.6 841.0 198.0 841.0 198.4 841.0 198.8 841.0 199.2 841.0 199.6 841.0 200.0 841.0 200.4 841.0 200.8 841.0 201.2 841.0 201.6 841.0 202.0 841.0 202.4 841.0 202.8 841.0 203.2 841.0 203.6 841.1 204.1 841.1 204.5 841.1 204.9 841.1 205.3 841.1 205.7 841.1 206.1 841.1 206.5 841.1 206.9 841.1 207.3 841.1 207.7 841.1 208.1 841.1 208.5 841.1 208.9 841.1 209.3 841.1 209.7 841.1 210.1 841.1 210.5 841.1 210.9 841.2 211.4 841.2 211.8 841.2 212.2 841.2 212.6 841.2 213.0 841.2 213.4 841.2 213.8 841.2 214.2 841.2 214.6 841.2 215.0 841.3 214.6 841.3 214.2 841.4 213.8 841.5 213.4 841.6 213.0 841.6 212.6 841.7 212.2 841.8 211.8 841.8 211.4 841.9 211.0 842.0 210.6 842.1 210.2 842.1 209.8 842.2 209.4 842.3 209.0 842.4 208.6 842.4 208.2 842.5 207.8 842.6 203.2 842.6 211.9 842.7 202.3 842.8 211.2 842.9 201.5 842.9 210.5 843.0 205.0 843.2 200.2 843.4 210.8 843.5 198.2 843.7 210.3 843.9 197.2 844.1 209.8 844.3 196.3 844.5 209.3 844.6 195.4 844.8 208.7 845.0 201.0 845.3 195.3 845.6 208.8 845.8 196.2 846.1 209.3 846.4 197.1 846.7 206.7 846.9 202.4 847.2 207.2 847.5 204.0 847.8 203.5 848.1 209.0 848.4 199.0 848.8 209.4 849.1 199.9 849.4 209.9 849.7 201.0 850.0 206.5 850.4 207.7 850.8 201.8 851.2 208.4 851.7 204.1 852.1 208.6 852.5 204.4 852.9 210.1 853.3 204.3 853.8 210.2 854.2 204.6 854.6 208.8 855.0 207.5 855.4 207.2 855.8 209.0 856.2 206.5 856.5 211.7 856.9 207.0 857.3 211.7 857.7 205.9 858.1 209.5 858.5 206.4 858.8 209.8 859.2 206.9 859.6 209.9 860.0 209.5 860.3 207.2 860.6 209.5 860.9 207.1 861.2 208.9 861.6 206.5 861.9 208.3 862.2 206.0 862.5 209.3 862.8 206.7 863.1 208.7 863.4 206.2 863.8 208.1 864.1 205.2 864.4 206.2 864.7 204.7 865.0 205.0 865.4 205.4 865.8 202.6 866.1 206.2 866.5 202.3 866.9 205.8 867.2 203.2 867.6 205.5 868.0 203.5 868.3 202.6 868.7 204.8 869.0 201.8 869.4 203.9 869.7 201.4 870.1 203.4 870.4 201.5 870.8 203.3 871.1 201.1 871.5 202.9 871.8 201.1 872.2 200.1 872.6 202.8 873.0 200.3 873.4 202.9 873.8 200.3 874.3 202.2 874.7 200.5 875.1 202.4 875.5 201.4 875.9 202.1 876.3 202.3 876.7 201.4 877.1 202.0 877.5 201.4 878.0 201.8 878.4 201.2 878.8 202.2 879.2 200.9 879.6 201.9 880.0 201.1 880.4 200.9 880.8 201.7 881.2 200.7 881.6 201.1 882.0 200.2 882.5 200.9 882.9 200.0 883.3 200.8 883.7 199.4 884.1 200.1 884.5 200.8 884.8 200.1 885.2 201.2 885.6 200.5 886.0 201.5 886.3 200.8 886.7 201.7 887.1 200.8 887.5 202.6 887.8 201.1 888.2 202.1 888.6 202.7 889.0 203.0 889.4 201.8 889.8 203.2 890.2 202.6 890.6 203.1 891.0 202.4 891.4 202.6 891.8 203.0 892.2 203.6 892.6 204.4 893.0 203.4 893.4 204.3 893.8 204.7 894.2 204.8 894.7 204.1 895.1 204.2 895.5 204.6 895.9 205.0 896.3 204.8 896.7 204.3 897.1 205.2 897.5 205.3 898.0 205.4 898.4 204.3 898.8 205.5 899.2 204.5 899.6 204.8 900.0 205.2 900.4 205.6 900.8 204.9 901.3 205.7 901.7 205.2 902.1 204.9 902.5 205.2 903.3 204.9 904.0 204.6 904.8 204.3 905.5 204.3 906.3 204.8 907.1 205.0 907.8 203.9 908.6 204.2 909.4 203.5 910.1 204.5 910.9 203.9 911.7 203.6 912.4 203.3 913.2 203.6 913.9 203.7 914.7 203.2 915.5 203.0 916.2 202.8 917.0 202.3 917.8 203.1 918.6 202.0 919.4 202.4 920.1 202.6 920.9 202.1 921.7 201.6 922.4 202.1 923.2 202.2 924.0 201.7 924.7 201.8 925.5 200.9 926.2 201.2 927.0 201.1 927.8 200.8 928.5 201.7 929.3 201.2 930.0 201.5 930.8 202.3 931.6 202.2 932.3 202.5 933.1 202.1 933.9 202.1 934.6 202.2 935.4 202.6 936.2 202.4 937.0 202.2 937.8 202.4 938.5 202.2 939.3 202.7 940.1 202.5 940.8 203.1 941.6 203.0 942.3 202.5 943.1 202.3 943.9 202.1 944.6 201.7 945.4 202.1 946.2 201.8 946.9 202.2 947.7 202.3 948.5 201.7 949.2 202.0 950.0 201.9 950.7 201.8 951.5 201.5 952.3 201.6 953.0 201.7 953.8 201.2 954.6 201.5 955.4 201.0 956.2 201.2 956.9 201.4 957.7 201.1 958.4 201.3 959.2 200.9 959.9 201.5 960.7 201.2 961.4 201.2 962.2 200.6 962.9 201.1 963.7 200.9 964.4 201.3 965.2 201.1 965.9 201.1 966.6 201.3 967.4 201.1 968.1 201.1 968.8 200.6 969.6 200.8 970.3 200.8 971.1 200.8 971.8 200.2 972.5 200.6 973.3 200.5 974.0 200.1 974.7 200.2 975.5 200.4 976.2 200.4 977.0 199.9 977.7 199.9 978.5 199.5 979.2 200.0 980.0 200.1 980.7 199.6 981.5 199.7 982.2 199.5 982.9 199.7 983.7 199.6 984.4 199.1 985.2 199.6 985.9 199.4 986.7 199.4 987.4 199.2 988.2 199.3 988.9 199.4 989.7 199.3 990.4 199.1 991.1 199.2 991.9 198.5 992.6 198.5 993.4 198.7 994.1 198.8 994.8 198.3 995.6 198.7 996.3 198.5 997.0 197.9 997.8 198.2 998.5 197.9 999.3 197.7 1000.0 198.0 1000.7 197.7 1001.4 197.9 1002.1 197.8 1002.8 197.8 1003.5 197.7 1004.2 198.1 1004.9 198.1 1005.6 198.3 1006.3 198.3 1007.0 198.0 1007.7 198.6 1008.4 197.9 1009.1 198.2 1009.8 198.1 1010.5 198.3 1011.2 198.1 1011.9 198.4 1012.6 198.7 1013.3 198.4 1014.0 198.2 1014.7 198.8 1015.5 198.4 1016.2 198.9 1016.9 198.8 1017.6 199.0 1018.3 199.4 1019.0 199.4 1019.7 199.1 1020.4 199.5 1021.2 199.4 1021.9 199.3 1022.6 199.2 1023.3 199.6 1024.0 199.7 1024.7 200.1 1025.4 200.1 1026.1 199.9 1026.9 199.8 1027.6 200.3 1028.3 199.7 1029.0 199.8 1029.7 200.2 1030.4 200.3 1031.1 200.4 1031.8 200.0 1032.5 200.4 1033.2 200.7 1034.0 200.3 1034.7 200.4 1035.4 200.3 1036.1 200.3 1036.8 200.9 1037.5 200.5 1038.2 200.9 1038.9 200.9 1039.6 200.7 1040.3 200.5 1041.1 201.1 1041.8 200.8 1042.5 200.7 1043.2 200.7 1043.9 201.2 1044.6 200.9 1045.3 200.9 1046.0 200.8 1046.7 201.0 1047.4 200.8 1048.1 201.2 1048.9 201.1 1049.6 201.0 1050.3 201.4 1051.0 201.4 1051.7 200.9 1052.4 201.3 1053.1 201.1 1053.8 201.6 1054.5 201.6 1055.2 201.2 1056.0 201.3 1056.7 201.2 1057.4 201.8 1058.1 201.4 1058.8 201.6 1059.5 201.6 1060.2 201.5 1060.9 201.6 1061.6 201.5 1062.3 201.5 1063.0 201.0 1063.8 201.4 1064.5 201.0 1065.2 201.1 1065.9 200.9 1066.6 200.8 1067.3 200.9 1068.0 200.8 1068.7 200.6 1069.4 200.8 1070.1 200.7 1070.9 200.2 1071.6 200.3 1072.3 200.4 1073.0 200.6 1073.7 200.5 1074.4 200.2 1075.1 200.2 1075.8 199.9 1076.5 200.4 1077.2 200.1 1077.9 200.3 1078.6 200.3 1079.3 200.3 1080.0 200.2 1080.7 200.5 1081.4 200.1 1082.2 200.1 1082.9 200.4 1083.6 200.0 1084.3 200.1 1085.0 200.4 1085.7 199.9 1086.4 200.4 1087.1 200.3 1087.8 200.2 1088.5 200.1 1089.2 200.2 1089.9 200.3 1090.6 200.4 1091.3 199.8 1092.0 200.0 1092.7 199.9 1093.5 199.9 1094.2 199.7 1094.9 199.5 1095.6 199.7 1096.3 199.8 1097.0 199.3 1097.7 199.3 1098.4 199.7 1099.1 199.6 1099.8 199.5 1100.6 199.0 1101.3 199.4 1102.0 199.5 1102.7 199.5 1103.4 199.2 1104.1 199.0 1104.8 198.8 1105.5 199.4 1106.2 199.0 1106.9 199.4 1107.6 199.7 1108.4 199.6 1109.1 199.2 1109.8 199.4 1110.5 199.9 1111.2 199.5 1111.9 199.9 1112.6 199.8 1113.3 199.7 1114.0 200.1 1114.7 199.8 1115.5 199.9 1116.2 200.1 1116.9 200.0 1117.6 200.0 1118.3 200.5 1119.0 200.5 1119.7 200.7 1120.4 200.9 1121.1 200.4 1121.8 200.7 1122.5 200.7 1123.2 201.0 1123.9 201.0 1124.6 201.3 1125.3 201.0 1126.0 200.9 1126.8 201.4 1127.5 201.1 1128.2 201.5 1128.9 201.4 1129.6 201.8 1130.3 201.6 1131.0 201.7 1131.7 201.5 1132.4 201.8 1133.1 201.7 1133.8 201.9 1134.5 202.1 1135.2 202.0 1135.9 201.7 1136.6 201.8 1137.3 201.9 1138.1 202.2 1138.8 201.8 1139.5 202.2 1140.2 202.2 1140.9 201.8 1141.6 202.3 1142.3 201.9 1143.0 201.9 1143.7 202.3 1144.4 202.1 1145.2 202.5 1145.9 202.3 1146.6 202.2 1147.3 202.6 1148.0 202.0 1148.7 202.4 1149.5 202.6 1150.2 202.1 1151.0 202.2 1151.7 202.7 1152.5 202.5 1153.2 202.2 1154.0 202.1 1154.7 202.7 1155.5 202.5 1156.2 202.4 1156.9 202.5 1157.6 202.0 1158.3 202.2 1159.0 201.9 1159.7 201.8 1160.4 201.7 1161.1 201.8 1161.8 201.6 1162.5 201.5 1163.2 201.2 1164.0 201.6 1164.7 201.4 1165.4 201.4 1166.1 201.1 1166.8 201.3 1167.5 201.0 1168.2 200.9 1168.9 200.8 1169.6 200.8 1170.3 200.5 1171.0 200.5 1171.7 200.2 1172.4 200.2 1173.1 200.3 1173.8 200.3 1174.5 200.9 1175.3 200.6 1176.0 200.8 1176.7 200.3 1177.4 200.7 1178.1 201.0 1178.8 200.8 1179.5 200.7 1180.2 200.7 1180.9 200.5 1181.6 200.5 1182.4 200.6 1183.1 200.7 1183.8 200.8 1184.5 201.1 1185.2 200.6 1185.9 200.9 1186.6 200.7 1187.3 200.7 1188.0 200.7 1188.7 200.8 1189.4 200.7 1190.2 200.9 1190.9 200.6 1191.6 201.2 1192.3 200.8 1193.0 201.2 1193.7 201.0 1194.4 201.0 1195.1 200.9 1195.8 201.2 1196.5 200.6 1197.2 201.0 1198.0 200.8 1198.7 201.0 1199.4 201.1 1200.1 200.7 1200.8 200.7 1201.5 200.6 1202.2 200.7 1202.9 200.6 1203.6 200.8 1204.3 201.2 1205.0 200.8 1205.7 200.8 1206.5 200.9 1207.2 200.7 1207.9 201.1 1208.6 201.1 1209.3 200.7 1210.0 200.9 1210.7 200.7 1211.4 201.0 1212.1 201.1 1212.8 200.9 1213.5 200.7 1214.3 201.0 1215.0 200.3 1215.7 200.3 1216.4 200.8 1217.1 200.5 1217.8 200.2 1218.5 200.5 1219.2 200.8 1219.9 200.4 1220.6 200.3 1221.4 200.1 1222.1 200.0 1222.8 200.6 1223.5 200.3 1224.2 200.5 1224.9 200.2 1225.6 199.8 1226.3 199.9 1227.0 199.7 1227.7 199.9 1228.4 199.6 1229.1 199.7 1229.8 199.7 1230.5 199.6 1231.2 199.4 1231.9 199.3 1232.7 199.9 1233.4 199.3 1234.1 199.5 1234.8 199.3 1235.5 199.4 1236.2 199.0 1236.9 199.1 1237.6 198.9 1238.3 199.1 1239.0 199.4 1239.7 199.0 1240.4 199.1 1241.1 199.2 1241.9 198.8 1242.6 198.7 1243.3 199.0 1244.0 199.0 1244.8 199.0 1245.5 198.9 1246.2 199.1 1246.9 199.2 1247.6 199.3 1248.4 198.9 1249.1 199.0 1249.8 199.2 1250.5 198.8 1251.3 198.7 1252.0 198.9 1252.7 198.7 1253.4 199.2 1254.2 199.2 1254.9 198.9 1255.6 198.7 1256.3 198.7 1257.0 198.8 1257.8 198.7 1258.5 199.0 1259.2 199.1 1259.9 198.8 1260.7 198.7 1261.4 199.1 1262.1 199.0 1262.8 198.6 1263.5 198.7 1264.2 198.7 1264.9 198.7 1265.7 198.5 1266.4 198.7 1267.1 198.6 1267.8 198.8 1268.5 198.6 1269.2 198.8 1269.9 198.6 1270.6 198.7 1271.4 198.5 1272.1 198.3 1272.8 198.6 1273.5 198.4 1274.2 198.6 1274.9 198.4 1275.6 198.3 1276.3 198.0 1277.1 198.3 1277.8 197.9 1278.5 197.7 1279.2 197.6 1279.9 197.9 1280.6 197.7 1281.3 197.8 1282.0 198.1 1282.8 197.8 1283.5 197.7 1284.2 198.2 1284.9 198.1 1285.6 197.7 1286.3 197.8 1287.0 197.8 1287.8 198.0 1288.5 198.4 1289.2 198.5 1289.9 198.2 1290.6 198.0 1291.3 198.1 1292.1 198.1 1292.8 198.1 1293.5 197.9 1294.2 198.3 1294.9 198.5 1295.6 198.5 1296.3 198.0 1297.1 198.4 1297.8 198.1 1298.5 198.5 1299.2 198.4 1299.9 198.4 1300.6 198.7 1301.4 198.7 1302.1 198.2 1302.8 198.4 1303.5 198.8 1304.2 198.5 1305.0 198.5 1305.7 198.5 1306.4 198.8 1307.1 198.9 1307.8 198.7 1308.6 199.0 1309.3 198.7 1310.0 198.4 1310.7 198.9 1311.4 198.7 1312.1 198.4 1312.9 199.1 1313.6 198.5 1314.3 198.9 1315.0 198.8 1315.7 199.1 1316.5 198.8 1317.2 198.7 1317.9 198.7 1318.6 198.7 1319.3 199.0 1320.1 198.9 1320.8 199.2 1321.5 199.0 1322.2 198.8 1322.9 198.9 1323.6 198.8 1324.3 199.3 1325.0 199.2 1325.8 199.2 1326.5 199.1 1327.2 198.9 1327.9 198.8 1328.6 199.2 1329.3 199.0 1330.0 198.7 1330.7 198.8 1331.4 198.7 1332.1 199.2 1332.9 199.3 1333.6 198.8 1334.3 199.2 1335.0 198.9 1335.7 199.1 1336.4 199.0 1337.1 199.2 1337.8 199.0 1338.5 199.1 1339.2 198.8 1339.9 198.5 1340.7 198.8 1341.4 198.9 1342.1 198.6 1342.8 198.7 1343.5 198.6 1344.2 198.4 1344.9 198.5 1345.6 198.5 1346.3 198.6 1347.0 198.7 1347.8 198.5 1348.5 198.9 1349.2 198.7 1349.9 198.8 1350.6 198.6 1351.3 198.4 1352.0 198.5 1352.7 198.5 1353.5 198.7 1354.2 198.4 1354.9 198.6 1355.6 198.6 1356.3 198.6 1357.1 198.4 1357.8 198.3 1358.5 198.3 1359.2 198.5 1359.9 198.7 1360.7 198.8 1361.4 198.8 1362.1 198.6 1362.8 199.0 1363.5 198.6 1364.2 198.9 1365.0 198.5 1365.7 199.0 1366.4 198.9 1367.1 199.1 1367.8 199.1 1368.6 199.0 1369.3 199.1 1370.0 199.1 1370.7 199.0 1371.4 198.7 1372.2 199.0 1372.9 199.3 1373.6 199.0 1374.3 198.9 1375.0 199.4 1375.8 199.1 1376.5 199.1 1377.2 198.8 1377.9 199.2 1378.6 199.0 1379.4 199.4 1380.1 199.6 1380.8 199.7 1381.5 199.5 1382.2 199.4 1383.0 199.2 1383.7 199.7 1384.4 199.6 1385.1 199.8 1385.8 199.6 1386.5 200.0 1387.3 199.5 1388.0 199.6 1388.7 199.7 1389.4 199.9 1390.1 200.2 1390.9 199.7 1391.6 200.1 1392.3 200.2 1393.0 199.9 1393.7 199.8 1394.5 200.2 1395.2 200.4 1395.9 200.2 1396.6 200.4 1397.3 200.3 1398.0 200.1 1398.7 200.1 1399.4 200.1 1400.1 200.3 1400.8 199.9 1401.5 199.9 1402.2 200.1 1402.9 200.3 1403.6 199.7 1404.3 199.6 1405.0 199.6 1405.7 199.9 1406.4 199.9 1407.1 199.6 1407.8 199.6 1408.5 199.8 1409.2 199.8 1409.9 199.8 1410.6 199.9 1411.3 199.4 1412.0 199.6 1412.7 199.9 1413.4 199.9 1414.1 199.4 1414.8 199.8 1415.5 199.6 1416.2 199.8 1416.9 199.3 1417.6 199.6 1418.3 199.7 1419.0 199.4" stroke="#ff00ff"/>
<path d="M841.0 221.0 841.0 221.4 841.0 221.8 841.0 222.2 841.0 222.6 841.0 223.0 841.0 223.4 841.0 223.8 841.0 224.2 840.9 224.6 840.9 225.0 840.9 225.4 840.9 225.8 840.9 226.2 840.9 226.6 840.9 227.0 840.9 227.4 840.9 227.8 840.9 228.2 840.9 228.6 840.9 229.0 840.9 229.4 840.9 229.8 840.9 230.2 840.9 230.6 840.9 231.0 840.9 231.4 840.8 231.8 840.8 232.2 840.8 232.6 840.8 233.0 840.8 233.4 840.8 233.8 840.8 234.2 840.8 234.6 840.8 235.0 840.8 235.4 840.8 235.8 840.8 236.2 840.8 236.6 840.8 237.0 840.8 237.4 840.8 237.8 840.8 238.2 840.8 238.6 840.8 239.1 840.8 239.5 840.8 239.9 840.8 240.3 840.8 240.7 840.8 241.1 840.8 241.5 840.8 241.9 840.8 242.3 840.8 242.7 840.8 243.1 840.8 243.5 840.8 243.9 840.8 244.3 840.8 244.7 840.8 245.1 840.8 245.5 840.8 245.9 840.8 246.4 840.8 246.8 840.8 247.2 840.8 247.6 840.8 248.0 840.8 248.4 840.8 248.8 840.8 249.2 840.8 249.6 840.8 250.0 840.8 249.6 840.9 249.2 840.9 248.8 840.9 248.4 840.9 248.0 841.0 247.6 841.0 247.2 841.0 246.8 841.1 246.4 841.1 246.0 841.1 245.6 841.2 245.2 841.2 244.8 841.2 244.4 841.2 244.0 841.3 243.6 841.3 243.2 841.3 242.8 841.4 242.4 841.4 242.0 841.4 241.5 841.4 241.1 841.5 240.7 841.5 240.3 841.5 239.9 841.6 239.5 841.6 239.1 841.6 238.7 841.6 238.3 841.7 237.9 841.7 237.5 841.7 237.1 841.8 236.7 841.8 236.3 841.8 235.9 841.9 235.5 841.9 235.1 841.9 234.7 841.9 234.3 842.0 233.9 842.0 233.5 842.4 233.6 842.8 226.7 843.2 236.4 843.6 229.4 844.0 236.3 844.4 229.8 844.8 236.3 845.2 233.2 845.6 238.7 846.0 234.0 846.4 230.6 846.8 238.5 847.2 230.7 847.6 237.9 848.0 231.2 848.4 237.4 848.8 231.2 849.2 236.8 849.6 231.6 850.0 233.0 850.4 236.4 850.8 232.0 851.2 236.7 851.5 230.8 851.9 235.7 852.3 231.2 852.7 236.0 853.1 232.3 853.5 237.2 853.8 232.7 854.2 237.5 854.6 234.2 855.0 235.3 855.4 237.5 855.8 234.7 856.2 236.9 856.5 233.4 856.9 237.1 857.3 234.0 857.7 238.4 858.1 234.5 858.5 238.5 858.8 235.0 859.2 238.0 859.6 235.4 860.0 237.4 860.4 238.1 860.8 236.8 861.2 238.6 861.7 236.6 862.1 238.4 862.5 235.2 862.9 237.5 863.3 235.0 863.8 237.2 864.2 235.9 864.6 236.6 865.0 236.0 865.3 235.5 865.7 236.2 866.0 234.2 866.3 235.7 866.7 233.8 867.0 235.2 867.3 233.0 867.7 235.2 868.0 234.0 868.2 232.2 868.4 234.3 868.7 231.6 868.9 233.7 869.1 231.9 869.3 233.0 869.6 231.3 869.8 232.3 870.0 231.0 870.3 230.3 870.5 231.7 870.8 229.5 871.0 231.0 871.3 228.8 871.5 230.4 871.8 228.2 872.0 229.2 872.3 226.9 872.5 228.6 872.8 227.5 873.2 226.2 873.6 228.0 874.0 226.3 874.3 228.0 874.7 226.2 875.1 227.8 875.5 225.8 875.9 226.7 876.3 227.7 876.7 225.5 877.1 226.8 877.5 226.1 878.0 226.6 878.4 225.9 878.8 226.3 879.2 225.2 879.6 226.1 880.0 225.6 880.4 224.9 880.8 225.7 881.2 224.9 881.6 226.0 882.0 224.5 882.5 225.9 882.9 224.5 883.3 225.9 883.7 225.0 884.1 225.2 884.5 225.8 884.9 224.7 885.3 225.3 885.7 224.6 886.2 225.1 886.6 224.8 887.0 224.1 887.4 224.2 887.8 225.3 888.2 224.6 888.6 224.9 889.0 223.6 889.4 224.9 889.8 223.5 890.2 224.0 890.6 224.9 891.0 224.3 891.5 223.7 891.9 223.8 892.3 223.8 892.7 223.3 893.1 224.6 893.5 223.0 893.9 223.5 894.3 223.6 894.7 224.0 895.1 223.4 895.5 224.2 895.9 223.1 896.3 224.2 896.7 224.0 897.1 223.7 897.6 223.9 898.0 223.3 898.4 223.8 898.8 223.7 899.2 223.3 899.6 223.2 900.0 223.5 900.4 223.2 901.2 223.0 902.0 222.5 902.7 223.3 903.5 222.6 904.3 222.8 905.0 223.1 905.8 222.3 906.6 222.6 907.4 222.0 908.1 222.2 908.9 222.7 909.7 222.4 910.4 222.3 911.2 222.5 911.9 223.1 912.7 222.6 913.5 222.2 914.2 222.2 915.0 222.7 915.8 222.2 916.5 221.7 917.3 221.8 918.0 221.7 918.8 221.6 919.6 221.1 920.3 221.4 921.1 221.2 921.9 221.7 922.7 221.1 923.5 221.5 924.2 221.8 925.0 221.2 925.8 221.9 926.5 221.4 927.3 221.8 928.0 221.7 928.8 222.0 929.6 222.2 930.3 222.8 931.1 222.6 931.9 223.2 932.6 222.5 933.4 222.3 934.2 222.8 934.9 222.5 935.7 222.5 936.4 223.4 937.2 223.2 937.9 222.7 938.7 223.3 939.4 222.9 940.2 223.5 940.9 223.3 941.7 222.4 942.4 222.5 943.2 223.2 943.9 222.8 944.7 222.6 945.4 222.6 946.1 222.9 946.9 222.9 947.6 222.6 948.4 222.6 949.1 222.2 949.9 222.5 950.6 222.2 951.4 222.7 952.1 222.7 952.9 222.2 953.6 222.6 954.3 222.7 955.1 222.1 955.8 222.0 956.6 222.5 957.3 222.3 958.1 222.7 958.8 222.3 959.6 222.4 960.3 221.7 961.1 222.4 961.8 222.0 962.5 221.6 963.3 222.1 964.0 222.4 964.8 222.4 965.5 222.4 966.3 222.0 967.0 222.2 967.8 222.3 968.5 221.6 969.3 222.4 970.0 222.0 970.7 222.4 971.5 221.9 972.2 222.2 972.9 221.8 973.7 221.6 974.4 222.0 975.2 221.3 975.9 222.0 976.6 222.1 977.4 221.4 978.1 221.6 978.8 222.0 979.6 221.3 980.3 222.0 981.1 221.5 981.8 222.2 982.6 221.8 983.3 222.2 984.1 221.5 984.8 221.5 985.6 222.3 986.3 222.0 987.0 222.1 987.8 221.9 988.5 221.4 989.3 221.4 990.0 221.5 990.8 221.2 991.5 221.9 992.3 221.7 993.0 221.7 993.8 221.5 994.5 221.2 995.3 221.1 996.1 221.0 996.9 221.6 997.6 221.1 998.4 221.6 999.2 221.6 1000.0 221.7 1000.7 221.7 1001.4 221.3 1002.1 221.2 1002.8 221.6 1003.5 221.1 1004.3 221.5 1005.0 221.2 1005.7 221.2 1006.4 221.1 1007.1 221.4 1007.8 221.2 1008.5 221.1 1009.2 221.0 1009.9 221.3 1010.6 221.5 1011.4 221.1 1012.1 220.9 1012.8 220.9 1013.5 220.9 1014.2 221.1 1014.9 221.0 1015.6 221.2 1016.3 221.1 1017.1 220.8 1017.8 220.9 1018.5 221.0 1019.2 221.0 1019.9 221.0 1020.7 221.5 1021.4 221.1 1022.1 221.2 1022.8 221.3 1023.5 221.2 1024.3 221.4 1025.0 221.0 1025.7 221.3 1026.4 221.5 1027.1 220.9 1027.8 221.3 1028.6 221.1 1029.3 220.9 1030.0 220.9 1030.7 221.4 1031.4 220.9 1032.2 221.4 1032.9 220.9 1033.6 221.2 1034.3 220.9 1035.0 221.3 1035.8 221.5 1036.5 221.1 1037.2 221.3 1037.9 221.5 1038.7 221.9 1039.4 221.6 1040.2 221.9 1040.9 222.2 1041.6 222.5 1042.4 222.1 1043.1 222.6 1043.9 222.4 1044.6 222.8 1045.3 222.5 1046.0 223.2 1046.7 222.5 1047.5 223.2 1048.2 223.1 1048.9 223.0 1049.6 223.1 1050.3 223.0 1051.0 222.8 1051.8 222.9 1052.5 222.8 1053.2 223.2 1053.9 223.2 1054.6 223.2 1055.3 222.8 1056.1 223.1 1056.8 222.9 1057.5 223.3 1058.2 223.3 1058.9 223.5 1059.6 223.3 1060.4 223.3 1061.1 223.4 1061.8 222.9 1062.5 223.2 1063.2 223.2 1064.0 222.8 1064.7 222.9 1065.5 222.7 1066.2 223.2 1067.0 222.5 1067.7 223.1 1068.4 223.0 1069.2 222.6 1069.9 222.8 1070.7 222.2 1071.4 222.5 1072.1 222.1 1072.9 221.8 1073.6 221.7 1074.4 221.4 1075.1 221.8 1075.8 221.1 1076.6 221.3 1077.3 220.9 1078.1 220.6 1078.8 220.7 1079.5 220.6 1080.2 220.5 1080.9 221.0 1081.6 220.6 1082.3 220.8 1083.0 220.7 1083.7 220.8 1084.4 220.7 1085.1 220.5 1085.9 220.4 1086.6 221.0 1087.3 220.5 1088.0 220.7 1088.7 220.9 1089.4 220.8 1090.1 221.0 1090.8 220.9 1091.5 220.7 1092.2 220.7 1092.9 220.3 1093.6 220.6 1094.3 220.4 1095.0 220.6 1095.7 220.3 1096.4 220.3 1097.1 220.3 1097.8 220.0 1098.5 220.1 1099.2 220.1 1099.9 219.5 1100.6 219.9 1101.3 219.8 1102.0 219.7 1102.7 219.3 1103.4 219.1 1104.1 219.2 1104.8 219.0 1105.5 219.2 1106.2 219.6 1106.9 219.3 1107.6 219.1 1108.3 219.4 1109.0 219.3 1109.7 219.8 1110.4 219.9 1111.1 220.1 1111.8 219.6 1112.5 219.8 1113.2 219.7 1113.9 220.3 1114.6 220.3 1115.3 220.2 1116.0 220.2 1116.7 220.5 1117.4 220.3 1118.1 220.5 1118.8 220.3 1119.5 220.2 1120.3 220.7 1121.0 220.6 1121.7 220.5 1122.4 220.7 1123.1 220.5 1123.8 220.7 1124.5 220.2 1125.2 220.3 1125.9 220.3 1126.6 220.6 1127.4 220.7 1128.1 220.4 1128.8 220.6 1129.5 220.4 1130.2 220.8 1130.9 220.7 1131.6 220.9 1132.3 220.4 1133.0 221.1 1133.7 220.9 1134.5 220.5 1135.2 220.7 1135.9 220.5 1136.6 221.0 1137.3 221.1 1138.0 220.6 1138.7 220.6 1139.4 220.9 1140.2 221.1 1140.9 221.0 1141.6 220.9 1142.3 220.6 1143.0 221.0 1143.7 220.9 1144.4 221.1 1145.1 221.0 1145.9 221.1 1146.6 221.3 1147.3 221.1 1148.0 221.3 1148.7 221.0 1149.4 220.8 1150.1 220.6 1150.8 221.1 1151.5 220.5 1152.2 221.1 1152.9 220.7 1153.6 220.4 1154.3 220.5 1155.0 220.7 1155.7 220.4 1156.4 220.6 1157.1 220.2 1157.8 220.6 1158.5 220.3 1159.2 220.5 1159.9 220.0 1160.6 220.2 1161.3 220.3 1162.0 220.1 1162.7 220.0 1163.4 219.7 1164.1 220.0 1164.9 220.2 1165.6 219.6 1166.3 219.8 1167.0 219.4 1167.7 220.1 1168.4 220.0 1169.1 219.8 1169.8 219.6 1170.5 219.2 1171.2 219.2 1172.0 219.6 1172.7 219.6 1173.4 219.7 1174.1 219.5 1174.8 219.2 1175.5 219.2 1176.2 219.1 1176.9 219.3 1177.6 219.2 1178.3 219.3 1179.1 219.6 1179.8 219.3 1180.5 219.7 1181.2 219.5 1181.9 219.1 1182.6 219.6 1183.3 219.6 1184.0 219.6 1184.8 219.2 1185.5 219.8 1186.2 219.6 1186.9 219.6 1187.6 219.4 1188.3 219.3 1189.0 219.3 1189.7 219.5 1190.5 219.6 1191.2 219.5 1191.9 219.4 1192.6 219.9 1193.3 219.8 1194.0 219.9 1194.8 220.0 1195.5 219.6 1196.2 219.9 1196.9 219.8 1197.7 219.4 1198.4 220.0 1199.1 219.6 1199.8 219.5 1200.6 219.4 1201.3 220.0 1202.0 219.4 1202.7 219.5 1203.5 219.7 1204.2 219.5 1204.9 219.7 1205.6 219.3 1206.4 219.5 1207.1 219.6 1207.8 219.6 1208.5 219.6 1209.3 219.4 1210.0 219.5 1210.7 219.6 1211.4 219.8 1212.1 219.4 1212.8 219.4 1213.5 219.5 1214.3 219.1 1215.0 219.1 1215.7 219.5 1216.4 219.0 1217.1 219.1 1217.8 219.0 1218.5 219.4 1219.2 219.0 1219.9 219.2 1220.6 218.7 1221.4 218.7 1222.1 219.0 1222.8 218.7 1223.5 218.9 1224.2 218.7 1224.9 218.7 1225.6 218.4 1226.3 218.3 1227.0 218.5 1227.7 218.5 1228.4 218.2 1229.1 218.2 1229.8 218.0 1230.5 218.2 1231.2 218.1 1231.9 218.1 1232.7 218.2 1233.4 218.4 1234.1 218.2 1234.8 218.2 1235.5 217.8 1236.2 217.9 1236.9 218.0 1237.6 218.1 1238.3 217.6 1239.0 217.4 1239.7 217.7 1240.4 217.4 1241.1 217.7 1241.8 218.0 1242.5 217.5 1243.2 218.0 1243.9 217.9 1244.6 218.1 1245.3 218.1 1246.0 217.6 1246.8 218.1 1247.5 217.6 1248.2 217.6 1248.9 217.8 1249.6 217.9 1250.3 217.6 1251.0 217.8 1251.7 217.7 1252.4 217.7 1253.1 217.7 1253.8 217.7 1254.5 217.8 1255.2 217.9 1255.9 218.0 1256.6 218.2 1257.3 218.2 1258.0 218.1 1258.7 218.0 1259.4 218.2 1260.2 217.9 1260.9 217.9 1261.6 217.9 1262.3 218.3 1263.0 218.0 1263.7 218.0 1264.4 218.1 1265.1 218.3 1265.8 218.4 1266.5 218.3 1267.2 218.3 1267.9 218.2 1268.6 217.9 1269.4 218.3 1270.1 218.2 1270.8 217.9 1271.5 217.8 1272.2 217.9 1272.9 217.5 1273.7 217.8 1274.4 217.9 1275.1 217.5 1275.8 217.5 1276.5 217.3 1277.2 217.7 1278.0 217.3 1278.7 217.2 1279.4 217.4 1280.1 217.1 1280.8 217.4 1281.5 217.0 1282.3 217.0 1283.0 216.8 1283.7 216.9 1284.4 216.8 1285.1 216.8 1285.8 216.5 1286.6 217.0 1287.3 216.5 1288.0 216.8 1288.7 216.9 1289.4 216.7 1290.2 216.6 1290.9 216.7 1291.6 217.1 1292.3 216.4 1293.0 217.0 1293.8 216.7 1294.5 216.7 1295.2 216.8 1295.9 216.7 1296.6 216.9 1297.3 217.0 1298.1 216.6 1298.8 216.5 1299.5 216.5 1300.2 216.9 1300.9 216.6 1301.7 216.3 1302.4 216.6 1303.1 216.3 1303.8 216.4 1304.5 216.6 1305.3 216.6 1306.0 216.5 1306.7 216.5 1307.4 216.8 1308.1 216.6 1308.9 216.9 1309.6 216.8 1310.3 216.5 1311.0 216.9 1311.7 216.6 1312.5 217.0 1313.2 216.8 1313.9 216.7 1314.6 216.6 1315.3 217.1 1316.1 216.7 1316.8 216.5 1317.5 217.1 1318.2 216.6 1318.9 216.6 1319.6 216.6 1320.4 217.1 1321.1 217.1 1321.8 217.0 1322.5 217.4 1323.2 217.1 1324.0 216.9 1324.7 217.5 1325.4 216.9 1326.1 216.9 1326.8 217.0 1327.6 217.6 1328.3 217.2 1329.0 217.3 1329.7 217.2 1330.4 217.2 1331.2 217.2 1331.9 217.4 1332.6 217.3 1333.3 217.0 1334.0 217.0 1334.8 217.4 1335.5 217.2 1336.2 217.1 1336.9 216.9 1337.6 217.4 1338.4 217.1 1339.1 217.4 1339.8 217.2 1340.5 217.1 1341.2 216.7 1341.9 217.3 1342.7 217.2 1343.4 216.7 1344.1 216.7 1344.8 217.1 1345.5 217.0 1346.3 216.7 1347.0 217.2 1347.7 216.6 1348.4 216.9 1349.1 216.8 1349.9 216.7 1350.6 216.9 1351.3 216.8 1352.0 216.8 1352.7 217.0 1353.5 217.1 1354.2 216.6 1354.9 216.8 1355.6 217.0 1356.3 216.9 1357.1 217.1 1357.8 216.7 1358.5 216.8 1359.2 217.1 1359.9 216.9 1360.7 217.0 1361.4 217.1 1362.1 217.3 1362.8 217.4 1363.5 217.4 1364.2 217.3 1365.0 217.3 1365.7 217.6 1366.4 217.7 1367.1 217.7 1367.8 217.8 1368.6 217.6 1369.3 217.3 1370.0 217.7 1370.7 217.4 1371.4 217.5 1372.2 217.6 1372.9 217.3 1373.6 217.7 1374.3 217.7 1375.0 217.6 1375.8 217.6 1376.5 217.8 1377.2 218.0 1377.9 218.0 1378.6 217.8 1379.4 218.1 1380.1 217.9 1380.8 217.9 1381.5 218.0 1382.2 217.9 1383.0 217.9 1383.7 218.5 1384.4 218.3 1385.1 218.3 1385.8 218.3 1386.5 218.3 1387.3 218.4 1388.0 218.0 1388.7 218.1 1389.4 218.4 1390.1 218.4 1390.9 218.1 1391.6 218.3 1392.3 218.4 1393.0 218.9 1393.7 218.8 1394.5 218.3 1395.2 218.6 1395.9 218.7 1396.6 218.6 1397.3 218.4 1398.1 218.6 1398.8 219.0 1399.5 219.0 1400.2 218.5 1401.0 218.9 1401.7 218.4 1402.4 218.8 1403.1 218.4 1403.8 218.8 1404.6 218.8 1405.3 219.0 1406.0 218.8 1406.7 219.0 1407.5 218.5 1408.2 218.8 1408.9 218.5 1409.6 218.4 1410.3 219.0 1411.1 218.4 1411.8 218.6 1412.5 218.6 1413.2 218.5 1413.9 218.9 1414.7 218.9 1415.4 218.6 1416.1 218.7 1416.8 218.9 1417.6 218.4 1418.3 218.8 1419.0 218.7" stroke="#ff8000"/>
<path d="M841.4 247.0 841.4 247.4 841.4 247.8 841.4 248.2 841.3 248.6 841.3 249.0 841.3 249.4 841.3 249.8 841.3 250.2 841.3 250.6 841.3 251.0 841.3 251.4 841.2 251.8 841.2 252.2 841.2 252.6 841.2 253.0 841.2 253.4 841.2 253.8 841.2 254.2 841.1 254.6 841.1 255.0 841.1 255.5 841.1 255.9 841.1 256.3 841.1 256.7 841.1 257.1 841.1 257.5 841.0 257.9 841.0 258.3 841.0 258.7 841.0 259.1 841.0 259.5 841.0 259.9 841.0 260.3 840.9 260.7 840.9 261.1 840.9 261.5 840.9 261.9 840.9 262.3 840.9 262.7 840.9 263.1 840.8 263.5 840.8 263.9 840.8 264.3 840.8 264.7 840.8 265.1 840.8 265.5 840.8 265.9 840.8 266.3 840.7 266.7 840.7 267.1 840.7 267.5 840.7 267.9 840.7 268.3 840.7 268.7 840.7 269.1 840.6 269.5 840.6 269.9 840.6 270.3 840.6 270.7 840.6 271.1 840.6 271.5 840.6 272.0 840.6 272.4 840.5 272.8 840.5 273.2 840.5 273.6 840.5 274.0 840.5 274.4 840.5 274.8 840.5 275.2 840.4 275.6 840.4 276.0 840.4 276.4 840.4 276.8 840.4 277.2 840.4 277.6 840.4 278.0 840.4 278.4 840.3 278.8 840.3 279.2 840.3 279.6 840.3 280.0 840.3 280.4 840.3 280.8 840.3 281.2 840.3 281.6 840.3 282.0 840.3 282.4 840.3 282.8 840.3 283.2 840.3 283.6 840.3 284.0 840.3 284.4 840.3 284.8 840.3 285.2 840.3 285.6 840.3 286.0 840.3 286.4 840.3 286.8 840.3 287.2 840.3 287.6 840.3 288.0 840.3 288.4 840.3 288.8 840.3 289.2 840.3 289.6 840.3 290.0 840.3 290.4 840.3 290.8 840.3 291.2 840.3 291.6 840.3 292.0 840.3 292.4 840.3 292.8 840.3 293.2 840.3 293.6 840.3 294.0 840.3 294.4 840.3 294.8 840.3 295.2 840.3 295.6 840.3 296.0 840.3 296.4 840.3 296.8 840.3 297.2 840.3 297.6 840.3 298.0 840.3 298.4 840.3 298.8 840.3 299.2 840.3 299.6 840.3 300.0 840.3 300.4 840.3 300.8 840.3 301.2 840.3 301.6 840.3 302.0 840.3 302.4 840.3 302.8 840.3 303.2 840.3 303.6 840.3 304.0 840.3 304.4 840.3 304.8 840.3 305.2 840.3 305.6 840.3 306.0 840.3 306.4 840.3 306.8 840.3 307.2 840.3 307.6 840.3 308.0 840.3 308.4 840.3 308.8 840.3 309.2 840.3 309.6 840.3 310.0 840.3 310.4 840.3 310.8 840.3 311.2 840.3 311.6 840.3 312.0 840.3 312.4 840.3 312.8 840.3 313.2 840.3 313.6 840.3 314.0 840.3 314.4 840.3 314.8 840.3 315.2 840.3 315.6 840.3 316.0 840.3 315.6 840.3 315.2 840.4 314.8 840.4 314.4 840.4 314.0 840.4 313.6 840.4 313.2 840.4 312.8 840.5 312.4 840.5 312.0 840.5 311.6 840.5 311.2 840.5 310.8 840.5 310.4 840.6 310.0 840.6 309.6 840.6 309.2 840.6 308.8 840.6 308.4 840.6 308.0 840.7 307.6 840.7 307.2 840.7 306.8 840.7 306.4 840.7 306.0 840.8 305.6 840.8 305.2 840.8 304.8 840.8 304.4 840.8 304.0 840.8 303.6 840.9 303.2 840.9 302.8 840.9 302.4 840.9 302.0 840.9 301.6 840.9 301.2 841.0 300.8 841.0 300.4 841.0 300.0 841.0 299.6 841.0 299.2 841.0 298.8 841.0 298.4 841.0 298.0 841.1 297.6 841.1 297.2 841.1 296.8 841.1 296.4 841.1 296.0 841.1 295.6 841.1 295.2 841.1 294.8 841.1 294.4 841.1 294.0 841.2 293.5 841.2 293.1 841.2 292.7 841.2 292.3 841.2 291.9 841.2 291.5 841.2 291.1 841.2 290.7 841.2 290.3 841.2 289.9 841.3 289.5 841.3 289.1 841.3 288.7 841.3 288.3 841.3 287.9 841.3 287.5 841.3 287.1 841.3 286.7 841.3 286.3 841.3 285.9 841.3 285.5 841.4 285.1 841.4 284.7 841.4 284.3 841.4 283.9 841.4 283.5 841.4 283.1 841.4 282.7 841.4 282.3 841.4 281.9 841.4 281.5 841.5 281.0 841.5 280.6 841.5 280.2 841.5 279.8 841.5 279.4 841.5 279.0 841.5 278.6 841.5 278.2 841.5 277.8 841.5 277.4 841.6 277.0 841.6 276.6 841.6 276.2 841.6 275.8 841.6 275.4 841.6 275.0 841.6 274.6 841.6 274.2 841.7 273.8 841.7 273.4 841.7 273.0 841.7 272.6 841.8 272.2 841.8 271.8 841.8 271.3 841.8 270.9 841.8 270.5 841.9 270.1 841.9 269.7 841.9 269.3 841.9 268.9 842.0 268.5 842.0 268.1 842.0 267.7 842.0 267.3 842.0 266.9 842.1 266.5 842.1 266.1 842.1 265.7 842.1 265.2 842.1 264.8 842.2 264.4 842.2 264.0 842.2 263.6 842.2 263.2 842.3 262.8 842.3 262.4 842.3 262.0 842.4 261.6 842.5 261.2 842.5 259.4 842.6 261.2 842.7 258.6 842.8 260.4 842.9 257.8 842.9 259.6 843.0 257.0 843.1 258.8 843.2 256.2 843.3 257.7 843.4 254.3 843.4 256.9 843.5 253.5 843.6 256.1 843.7 252.7 843.8 255.3 843.8 251.9 843.9 254.5 844.0 253.5 844.4 251.1 844.8 254.3 845.2 251.7 845.6 255.4 846.0 251.8 846.4 256.0 846.8 253.6 847.2 256.2 847.6 253.7 848.0 256.2 848.4 254.0 848.8 256.3 849.2 254.1 849.6 255.4 850.0 254.8 850.4 254.4 850.7 255.9 851.1 254.9 851.4 258.9 851.8 254.1 852.1 259.3 852.5 254.6 852.9 257.8 853.2 256.1 853.6 258.2 853.9 256.5 854.3 258.7 854.6 255.3 855.0 258.0 855.4 261.8 855.8 255.9 856.2 260.2 856.5 256.6 856.9 260.6 857.3 257.0 857.7 259.8 858.1 256.3 858.5 260.2 858.8 256.8 859.2 261.2 859.6 257.6 860.0 260.5 860.3 261.3 860.6 257.4 860.8 260.2 861.1 258.7 861.4 259.6 861.7 258.1 861.9 259.0 862.2 257.6 862.5 260.1 862.8 256.6 863.1 259.5 863.3 256.1 863.6 258.9 863.9 255.5 864.2 257.7 864.4 255.2 864.7 257.1 865.0 255.3 865.3 254.4 865.6 255.7 865.9 252.9 866.2 255.1 866.5 252.4 866.8 254.6 867.1 251.9 867.4 253.4 867.7 251.6 868.0 252.5 868.4 252.6 868.7 251.0 869.1 252.5 869.5 251.4 869.8 252.1 870.2 251.1 870.6 252.0 871.0 249.7 871.3 251.6 871.7 249.3 872.1 251.5 872.4 249.5 872.8 250.0 873.2 250.8 873.6 249.0 874.0 250.0 874.3 248.4 874.7 249.6 875.1 248.1 875.5 249.8 875.9 248.5 876.3 247.3 876.7 249.5 877.1 248.0 877.5 249.3 878.0 248.0 878.4 249.2 878.8 247.7 879.2 249.5 879.6 247.7 880.0 248.4 880.4 248.7 880.8 247.3 881.2 248.5 881.6 246.9 882.0 248.1 882.5 246.7 882.9 247.9 883.3 247.1 883.7 248.4 884.1 247.4 884.4 247.1 884.8 248.7 885.1 247.9 885.5 249.0 885.8 248.4 886.2 249.5 886.5 249.0 886.8 250.1 887.2 249.5 887.5 250.6 887.9 250.0 888.2 250.4 888.5 251.3 888.9 250.1 889.2 251.8 889.5 250.7 889.9 252.1 890.2 251.1 890.5 252.6 890.9 251.6 891.2 253.3 891.5 252.3 891.9 253.8 892.2 253.5 892.6 253.8 892.9 253.8 893.3 254.7 893.7 255.0 894.1 254.4 894.4 254.9 894.8 254.1 895.2 255.4 895.6 255.5 895.9 256.2 896.3 255.6 896.7 256.2 897.1 255.5 897.5 255.7 897.9 256.3 898.3 255.4 898.8 256.1 899.2 255.8 899.6 255.8 900.0 255.9 900.4 256.6 901.1 256.6 901.8 255.4 902.5 255.2 903.1 255.1 903.8 255.3 904.5 254.5 905.2 253.8 905.9 254.1 906.5 254.1 907.2 254.3 907.9 254.0 908.6 253.5 909.3 253.6 910.0 252.6 910.7 252.4 911.3 252.0 912.0 252.3 912.7 251.5 913.4 252.2 914.1 251.4 914.8 251.6 915.4 251.9 916.1 252.0 916.8 252.5 917.5 252.1 918.2 251.9 918.8 251.2 919.5 250.5 920.2 250.7 920.9 250.4 921.7 250.1 922.4 250.2 923.2 250.5 924.0 250.1 924.7 249.8 925.5 249.8 926.2 249.7 927.0 249.4 927.8 248.9 928.5 249.8 929.3 249.7 930.0 249.8 930.8 249.7 931.6 249.3 932.3 249.3 933.1 249.4 933.9 249.0 934.6 249.7 935.4 249.1 936.2 249.2 937.0 249.5 937.8 249.5 938.5 249.8 939.3 250.0 940.0 249.3 940.7 249.1 941.3 249.1 942.0 248.9 942.7 249.0 943.4 248.4 944.0 249.2 944.7 248.7 945.4 248.4 946.2 247.9 946.9 247.9 947.7 247.9 948.5 247.8 949.2 247.4 950.0 248.0 950.7 248.0 951.5 247.4 952.3 247.2 953.0 247.1 953.8 246.6 954.6 246.5 955.4 246.6 956.2 246.4 956.9 246.9 957.7 246.4 958.5 246.1 959.2 245.9 960.0 246.9 960.8 246.4 961.5 246.0 962.3 246.4 963.0 245.9 963.8 246.4 964.6 246.4 965.3 246.7 966.1 246.6 966.8 246.3 967.6 245.9 968.4 245.9 969.1 245.6 969.9 245.9 970.6 246.0 971.3 245.6 972.0 245.6 972.7 245.0 973.3 244.7 974.0 245.1 974.7 245.1 975.4 244.8 976.1 244.3 976.9 244.5 977.6 244.3 978.4 244.2 979.2 243.5 979.9 243.7 980.7 243.4 981.4 243.0 982.2 243.3 983.0 242.8 983.7 242.9 984.5 242.9 985.2 243.2 986.0 243.3 986.8 242.8 987.5 243.2 988.3 242.7 989.1 243.0 989.8 242.9 990.6 242.3 991.4 242.0 992.2 242.0 993.0 241.8 993.7 241.7 994.5 241.9 995.3 242.1 996.1 242.5 996.9 242.6 997.6 242.4 998.4 242.7 999.2 242.9 1000.0 242.8 1000.7 242.5 1001.4 243.1 1002.1 243.3 1002.8 243.3 1003.5 243.3 1004.3 243.1 1005.0 242.9 1005.7 243.5 1006.4 243.2 1007.1 243.6 1007.8 243.8 1008.5 243.4 1009.2 243.5 1009.9 244.0 1010.6 243.8 1011.4 243.4 1012.1 243.5 1012.8 243.5 1013.5 244.2 1014.2 244.2 1014.9 244.0 1015.6 243.7 1016.3 244.2 1017.0 244.3 1017.7 244.0 1018.4 243.7 1019.1 243.8 1019.8 243.4 1020.5 243.3 1021.2 244.0 1021.9 243.7 1022.7 243.5 1023.4 243.8 1024.1 243.4 1024.8 243.7 1025.5 243.6 1026.2 243.1 1026.9 243.1 1027.6 243.1 1028.3 243.0 1029.0 243.2 1029.7 243.1 1030.4 242.9 1031.1 243.0 1031.8 242.8 1032.5 243.3 1033.2 242.9 1033.9 243.0 1034.6 243.0 1035.3 243.3 1036.0 242.9 1036.7 243.2 1037.4 242.9 1038.1 242.9 1038.8 242.9 1039.5 242.5 1040.2 242.8 1040.9 242.6 1041.6 242.8 1042.3 242.5 1043.0 243.1 1043.7 242.7 1044.4 243.0 1045.1 243.2 1045.9 243.2 1046.6 243.1 1047.3 243.3 1048.0 243.4 1048.7 243.6 1049.4 243.2 1050.1 243.5 1050.8 243.4 1051.5 243.4 1052.2 243.8 1053.0 243.7 1053.7 243.8 1054.4 244.0 1055.1 244.2 1055.8 243.9 1056.5 244.0 1057.2 244.0 1058.0 243.8 1058.7 243.8 1059.5 243.8 1060.2 243.5 1061.0 243.5 1061.7 243.4 1062.4 243.6 1063.2 243.4 1063.9 243.4 1064.7 243.4 1065.4 242.8 1066.2 242.9 1066.9 242.8 1067.6 243.1 1068.3 242.9 1069.0 242.4 1069.7 242.3 1070.4 242.5 1071.2 242.2 1071.9 242.3 1072.6 242.1 1073.3 242.4 1074.0 242.5 1074.7 242.5 1075.4 241.9 1076.1 242.3 1076.8 242.2 1077.5 241.8 1078.3 242.2 1079.0 242.2 1079.7 241.7 1080.4 242.1 1081.1 241.7 1081.8 241.7 1082.5 241.7 1083.2 242.0 1084.0 241.9 1084.7 241.4 1085.4 241.6 1086.1 241.7 1086.8 241.5 1087.6 241.4 1088.3 241.5 1089.0 241.8 1089.7 241.3 1090.4 241.6 1091.2 241.5 1091.9 241.2 1092.6 241.4 1093.3 241.6 1094.0 241.5 1094.7 241.2 1095.5 241.9 1096.2 241.7 1096.9 241.8 1097.6 241.2 1098.3 241.3 1099.1 241.1 1099.8 241.7 1100.5 241.3 1101.2 241.2 1101.9 241.4 1102.7 241.7 1103.4 241.6 1104.1 241.4 1104.8 241.3 1105.5 241.2 1106.2 241.8 1107.0 241.6 1107.7 241.8 1108.4 241.4 1109.1 241.4 1109.8 241.9 1110.5 241.7 1111.3 241.5 1112.0 242.2 1112.7 242.0 1113.4 242.2 1114.1 241.7 1114.8 242.3 1115.6 241.8 1116.3 242.4 1117.0 242.2 1117.7 242.1 1118.4 242.3 1119.1 242.6 1119.9 242.2 1120.6 242.2 1121.3 242.5 1122.0 242.5 1122.7 242.3 1123.4 242.2 1124.1 242.2 1124.9 242.1 1125.6 242.1 1126.3 242.2 1127.0 242.2 1127.7 242.4 1128.4 242.1 1129.1 242.2 1129.9 241.9 1130.6 242.0 1131.3 241.8 1132.0 241.9 1132.7 241.7 1133.4 242.2 1134.2 242.0 1134.9 241.7 1135.6 241.9 1136.3 242.2 1137.0 241.6 1137.7 242.1 1138.4 241.8 1139.2 241.8 1139.9 242.0 1140.6 241.7 1141.3 241.7 1142.0 241.7 1142.7 241.8 1143.4 242.0 1144.1 241.6 1144.8 241.9 1145.6 241.8 1146.3 241.8 1147.0 241.6 1147.7 241.6 1148.4 241.4 1149.1 241.4 1149.8 241.4 1150.5 241.9 1151.2 241.5 1151.9 241.5 1152.7 241.4 1153.4 241.9 1154.1 242.0 1154.8 241.8 1155.5 241.5 1156.2 241.7 1156.9 241.5 1157.6 241.5 1158.4 241.6 1159.1 241.3 1159.8 241.5 1160.5 241.3 1161.2 241.8 1162.0 241.7 1162.7 241.4 1163.4 241.2 1164.1 241.6 1164.8 241.1 1165.6 241.1 1166.3 240.9 1167.0 241.1 1167.7 241.1 1168.4 241.1 1169.1 240.9 1169.9 241.0 1170.6 240.6 1171.3 240.8 1172.0 240.6 1172.7 240.8 1173.5 240.5 1174.2 240.5 1174.9 240.6 1175.6 240.6 1176.3 240.8 1177.1 240.7 1177.8 240.8 1178.5 240.6 1179.2 240.7 1179.9 240.8 1180.6 240.9 1181.3 240.5 1182.0 240.5 1182.7 240.9 1183.4 240.4 1184.1 240.8 1184.8 240.7 1185.5 240.3 1186.3 240.8 1187.0 240.9 1187.7 240.7 1188.4 240.8 1189.1 240.8 1189.8 240.3 1190.5 240.6 1191.2 240.6 1191.9 240.8 1192.6 240.8 1193.3 240.6 1194.0 240.9 1194.8 240.7 1195.5 240.9 1196.2 240.8 1196.9 240.8 1197.7 240.5 1198.4 240.4 1199.1 240.5 1199.8 240.7 1200.6 240.5 1201.3 241.1 1202.0 240.9 1202.7 241.0 1203.5 241.0 1204.2 241.1 1204.9 240.9 1205.6 240.6 1206.4 241.2 1207.1 241.2 1207.8 241.0 1208.5 241.1 1209.3 241.2 1210.0 241.1 1210.7 240.8 1211.4 241.2 1212.1 240.9 1212.8 240.8 1213.5 240.9 1214.2 241.2 1215.0 240.8 1215.7 241.2 1216.4 241.3 1217.1 241.0 1217.8 240.9 1218.5 240.9 1219.2 241.1 1219.9 241.1 1220.6 241.0 1221.3 241.0 1222.0 240.6 1222.7 240.6 1223.4 240.7 1224.1 241.0 1224.8 240.7 1225.6 240.9 1226.3 240.5 1227.0 240.5 1227.7 240.6 1228.4 240.9 1229.1 240.9 1229.8 240.9 1230.5 240.6 1231.2 240.8 1231.9 240.7 1232.6 240.7 1233.3 240.4 1234.0 241.0 1234.8 240.5 1235.5 241.0 1236.2 241.0 1236.9 240.3 1237.6 240.6 1238.3 240.8 1239.0 240.9 1239.7 240.6 1240.4 240.5 1241.1 240.4 1241.8 240.3 1242.5 240.8 1243.2 240.3 1244.0 240.6 1244.7 240.2 1245.4 240.5 1246.1 240.8 1246.8 240.2 1247.5 240.6 1248.2 240.4 1248.9 240.7 1249.6 240.5 1250.3 240.2 1251.1 240.6 1251.8 240.3 1252.5 240.0 1253.2 239.9 1253.9 240.3 1254.6 240.2 1255.3 240.1 1256.0 240.0 1256.7 240.1 1257.4 240.1 1258.1 240.4 1258.9 239.8 1259.6 240.3 1260.3 240.4 1261.0 239.8 1261.7 240.4 1262.4 240.2 1263.1 240.3 1263.8 239.9 1264.5 239.9 1265.2 239.9 1266.0 240.3 1266.7 240.0 1267.4 239.9 1268.1 239.9 1268.8 239.8 1269.5 239.9 1270.2 239.6 1270.9 239.6 1271.7 240.2 1272.4 239.8 1273.1 240.3 1273.8 239.8 1274.5 239.8 1275.3 240.0 1276.0 239.8 1276.7 239.9 1277.4 240.3 1278.1 240.3 1278.9 240.2 1279.6 240.1 1280.3 240.3 1281.0 240.4 1281.7 240.1 1282.4 240.2 1283.2 239.8 1283.9 240.3 1284.6 240.1 1285.3 240.3 1286.0 240.2 1286.8 240.0 1287.5 239.8 1288.2 240.5 1288.9 239.9 1289.6 240.2 1290.4 240.1 1291.1 240.0 1291.8 240.2 1292.5 240.4 1293.2 240.6 1293.9 240.2 1294.6 240.5 1295.3 240.3 1296.1 240.5 1296.8 240.4 1297.5 240.3 1298.2 240.3 1298.9 240.4 1299.6 241.0 1300.3 240.7 1301.0 240.6 1301.7 241.1 1302.4 241.2 1303.2 240.9 1303.9 240.7 1304.6 240.8 1305.3 240.7 1306.0 240.9 1306.7 241.1 1307.4 240.8 1308.1 240.9 1308.9 241.0 1309.6 241.2 1310.3 241.4 1311.0 241.3 1311.7 241.1 1312.5 241.1 1313.2 241.2 1313.9 241.1 1314.6 241.1 1315.3 240.9 1316.1 241.1 1316.8 241.6 1317.5 241.0 1318.2 241.3 1318.9 241.4 1319.6 241.5 1320.4 241.1 1321.1 241.1 1321.8 241.1 1322.5 241.2 1323.2 241.3 1324.0 241.7 1324.7 241.6 1325.4 241.6 1326.1 241.0 1326.8 241.0 1327.6 241.5 1328.3 241.7 1329.0 241.4 1329.7 241.4 1330.4 241.4 1331.2 241.0 1331.9 241.2 1332.6 241.6 1333.3 241.5 1334.0 241.5 1334.8 241.5 1335.5 241.0 1336.2 240.9 1336.9 240.9 1337.6 241.1 1338.4 241.2 1339.1 241.3 1339.8 241.2 1340.5 241.1 1341.2 241.1 1341.9 240.9 1342.7 240.9 1343.4 240.6 1344.1 241.1 1344.8 240.6 1345.5 241.1 1346.3 240.9 1347.0 240.6 1347.7 240.5 1348.4 240.5 1349.1 240.8 1349.9 240.8 1350.6 240.4 1351.3 240.6 1352.0 240.3 1352.7 240.7 1353.5 240.8 1354.2 240.7 1354.9 240.6 1355.6 240.9 1356.3 240.5 1357.1 240.7 1357.8 240.9 1358.5 241.3 1359.2 241.1 1359.9 241.3 1360.7 241.0 1361.4 240.9 1362.1 241.0 1362.8 241.5 1363.5 241.3 1364.2 241.1 1365.0 240.9 1365.7 241.3 1366.4 241.5 1367.1 241.3 1367.8 241.2 1368.6 241.6 1369.3 241.8 1370.0 241.3 1370.7 241.2 1371.4 241.5 1372.2 241.6 1372.9 241.8 1373.6 241.7 1374.3 241.5 1375.0 242.0 1375.8 241.9 1376.5 241.8 1377.2 241.6 1377.9 242.2 1378.6 241.7 1379.4 242.1 1380.1 241.7 1380.8 241.8 1381.5 242.2 1382.2 241.9 1383.0 242.4 1383.7 242.1 1384.4 241.9 1385.1 241.9 1385.8 242.1 1386.5 242.3 1387.3 242.5 1388.0 242.0 1388.7 242.2 1389.4 242.1 1390.1 242.6 1390.9 242.1 1391.6 242.0 1392.3 242.1 1393.0 242.3 1393.7 242.7 1394.5 242.7 1395.2 242.6 1395.9 242.5 1396.6 242.8 1397.3 242.8 1398.0 242.3 1398.7 242.2 1399.4 242.7 1400.1 242.6 1400.8 242.1 1401.5 242.5 1402.2 242.3 1402.9 242.3 1403.6 242.2 1404.3 242.1 1405.0 242.0 1405.7 242.2 1406.4 242.2 1407.1 242.6 1407.8 242.0 1408.5 242.6 1409.2 242.1 1409.9 242.2 1410.6 242.5 1411.3 242.5 1412.0 242.2 1412.7 241.9 1413.4 242.2 1414.1 242.1 1414.8 242.5 1415.5 241.9 1416.2 242.1 1416.9 242.4 1417.6 241.8 1418.3 242.0 1419.0 242.1" stroke="#808000"/>
<path d="M839.0 250.0 839.0 250.4 839.0 250.8 839.0 251.2 839.0 251.6 839.0 252.0 839.0 252.4 839.0 252.8 839.0 253.2 839.0 253.6 839.0 254.0 839.0 254.4 839.0 254.8 839.0 255.2 839.0 255.6 839.0 256.0 839.0 256.4 839.0 256.8 839.0 257.2 839.0 257.6 839.0 258.0 839.0 258.4 839.0 258.8 839.0 259.2 839.0 259.6 839.0 260.0 839.0 260.4 839.0 260.8 839.0 261.2 839.0 261.6 839.0 262.0 839.0 262.4 839.0 262.8 839.0 263.2 839.0 263.6 839.0 264.0 839.0 264.4 839.0 264.8 839.0 265.2 839.0 265.6 839.0 266.0 839.0 266.4 839.0 266.8 839.0 267.2 839.0 267.6 839.0 268.0 839.0 268.4 839.0 268.8 839.0 269.2 839.0 269.6 839.0 270.0 839.0 270.4 839.0 270.8 839.0 271.2 839.0 271.6 839.0 272.0 839.0 272.4 839.0 272.8 839.0 273.2 839.0 273.6 839.0 274.0 839.0 274.4 839.0 274.8 839.0 275.2 839.0 275.6 839.0 276.0 839.0 276.4 839.0 276.8 839.0 277.2 839.0 277.6 839.0 278.0 839.0 278.4 839.0 278.8 839.0 279.2 839.0 279.6 839.0 280.0 839.0 280.4 839.0 280.8 839.0 281.2 839.0 281.6 839.0 282.0 839.0 282.4 839.0 282.8 839.0 283.2 839.0 283.6 839.0 284.0 839.0 284.4 839.0 284.8 839.0 285.2 839.0 285.6 839.0 286.0 839.0 286.4 839.0 286.8 839.0 287.2 839.0 287.6 839.0 288.0 839.0 288.4 839.0 288.8 839.0 289.2 839.0 289.6 839.0 290.0 839.0 290.4 839.0 290.8 839.0 291.2 839.0 291.6 839.0 292.0 839.0 292.4 839.0 292.8 839.0 293.2 839.0 293.6 839.0 294.0 839.0 294.4 839.0 294.8 839.0 295.2 839.0 295.6 839.0 296.0 839.0 296.4 839.0 296.8 839.0 297.2 839.0 297.6 839.0 298.0 839.0 298.4 839.0 298.8 839.0 299.2 839.0 299.6 839.0 300.0 839.0 300.4 839.0 300.8 839.0 301.2 839.0 301.6 839.0 302.0 839.0 302.4 839.0 302.8 839.0 303.2 839.0 303.6 839.0 304.0 839.0 304.4 839.0 304.8 839.0 305.2 839.0 305.6 839.0 306.0 839.0 306.4 839.0 306.8 839.0 307.2 839.0 307.6 839.0 308.0 839.0 308.4 839.0 308.8 839.0 309.2 839.0 309.6 839.0 310.0 839.0 310.4 839.0 310.8 839.0 311.2 839.0 311.6 839.0 312.0 839.0 312.4 839.0 312.8 839.0 313.2 839.0 313.6 839.0 314.0 839.0 314.4 839.0 314.8 839.0 315.2 839.0 315.6 839.0 316.0 839.0 316.4 839.0 316.8 839.0 317.2 839.0 317.6 839.0 318.0 839.0 318.4 839.0 318.8 839.0 319.2 839.0 319.6 839.0 320.0 839.0 320.4 839.0 320.8 839.0 321.2 839.0 321.6 839.0 322.0 839.0 322.4 839.0 322.8 839.0 323.2 839.0 323.6 839.0 324.0 839.0 324.4 839.0 324.8 839.0 325.2 839.0 325.6 839.0 326.0 839.0 326.4 839.0 326.8 839.0 327.2 839.0 327.6 839.0 328.0 839.0 328.4 839.0 328.8 839.0 329.2 839.0 329.6 839.0 330.0 839.0 330.4 839.0 330.8 839.0 331.2 839.0 331.6 839.0 332.0 839.0 332.4 839.0 332.8 839.0 333.2 839.0 333.6 839.0 334.0 839.0 334.4 839.0 334.8 839.0 335.2 839.0 335.6 839.0 336.0 839.0 336.4 839.0 336.8 839.0 337.2 839.0 337.6 839.0 338.0 839.0 338.4 839.0 338.8 839.0 339.2 839.0 339.6 839.0 340.0 839.0 340.4 839.0 340.8 839.0 341.2 839.0 341.6 839.0 342.0 839.0 342.4 839.0 342.8 839.0 343.2 839.0 343.6 839.0 344.0 839.0 344.4 839.0 344.8 839.0 345.2 839.0 345.6 839.0 346.0 839.0 346.4 839.0 346.8 839.0 347.2 839.0 347.6 839.0 348.0 839.0 348.4 839.0 348.8 839.0 349.2 839.0 349.6 839.0 350.0 839.0 350.4 839.0 350.8 839.0 351.2 839.0 351.6 839.0 352.0 839.0 352.4 839.0 352.8 839.0 353.2 839.0 353.6 839.0 354.0 839.0 354.4 839.0 354.8 839.0 355.2 839.0 355.6 839.0 356.0 839.0 356.4 839.0 356.8 839.0 357.2 839.0 357.6 839.0 358.0 839.0 358.4 839.0 358.8 839.0 359.2 839.0 359.6 839.0 360.0 839.0 360.4 839.0 360.8 839.0 361.2 839.0 361.6 839.0 362.0 839.0 362.4 839.0 362.8 839.0 363.2 839.0 363.6 839.0 364.0 839.0 364.4 839.0 364.8 839.0 365.2 839.0 365.6 839.0 366.0 839.0 366.4 839.0 366.8 839.0 367.2 839.0 367.6 839.0 368.0 839.0 368.4 839.0 368.8 839.0 369.2 839.0 369.6 839.0 370.0 839.0 370.4 839.0 370.8 839.0 371.2 839.0 371.6 839.0 372.0 839.0 372.4 839.0 372.8 839.0 373.2 839.0 373.6 839.0 374.0 839.0 374.4 839.0 374.8 839.0 375.2 839.0 375.6 839.0 376.0 839.0 376.4 839.0 376.8 839.0 377.2 839.0 377.6 839.0 378.0 839.0 378.4 839.0 378.8 839.0 379.2 839.0 379.6 839.0 380.0 839.0 380.4 839.0 380.8 839.0 381.2 839.0 381.6 839.0 382.0 839.0 382.4 839.0 382.8 839.0 383.2 839.0 383.6 839.0 384.0 839.0 384.4 839.0 384.8 839.0 385.2 839.0 385.6 839.0 386.0 839.0 386.4 839.0 386.8 839.0 387.2 839.0 387.6 839.0 388.0 839.0 388.4 839.0 388.8 839.0 389.2 839.0 389.6 839.0 390.0 839.0 390.4 839.0 390.8 839.0 391.2 839.0 391.6 839.0 392.0 839.0 392.4 839.0 392.8 839.0 393.2 839.0 393.6 839.0 394.0 839.0 394.4 839.0 394.8 839.0 395.2 839.0 395.6 839.0 396.0 839.0 396.4 839.0 396.8 839.0 397.2 839.0 397.6 839.0 398.0 839.0 398.4 839.0 398.8 839.0 399.2 839.0 399.6 839.0 400.0 839.0 400.4 839.0 400.8 839.0 401.2 839.0 401.6 839.0 402.0 839.0 402.4 839.0 402.8 839.0 403.2 839.0 403.6 839.0 404.0 839.0 404.4 839.0 404.8 839.0 405.2 839.0 405.6 839.0 406.0 839.0 406.4 839.0 406.8 839.0 407.2 839.0 407.6 839.0 408.0 839.0 408.4 839.0 408.8 839.0 409.2 839.0 409.6 839.0 410.0 839.0 410.4 839.0 410.8 839.0 411.2 839.0 411.6 839.0 412.0 839.0 412.4 839.0 412.8 839.0 413.2 839.0 413.6 839.0 414.0 839.0 414.4 839.0 414.8 839.0 415.2 839.0 415.6 839.0 416.0 839.0 416.4 839.0 416.8 839.0 417.2 839.0 417.6 839.0 418.0 839.0 418.4 839.0 418.8 839.0 419.2 839.0 419.6 839.0 420.0 839.0 420.4 839.0 420.8 839.0 421.2 839.0 421.6 839.0 422.0 839.0 422.4 839.0 422.8 839.0 423.2 839.0 423.6 839.0 424.0 839.0 424.4 839.0 424.8 839.0 425.2 839.0 425.6 839.0 426.0 839.0 426.4 839.0 426.8 839.0 427.2 839.0 427.6 839.0 428.0 839.0 428.4 839.0 428.8 839.0 429.2 839.0 429.6 839.0 430.0 839.0 430.4 839.0 430.8 839.0 431.2 839.0 431.6 839.0 432.0 839.0 432.4 839.0 432.8 839.0 433.2 839.0 433.6 839.0 434.0 839.0 434.4 839.0 434.8 839.0 435.2 839.0 435.6 839.0 436.0 839.0 436.4 839.0 436.8 839.0 437.2 839.0 437.6 839.0 438.0 839.0 438.4 839.0 438.8 839.0 439.2 839.0 439.6 839.0 440.0 839.0 440.4 839.0 440.8 839.0 441.2 839.0 441.6 839.0 442.0 839.0 442.4 839.0 442.8 839.0 443.2 839.0 443.6 839.0 444.0 839.0 444.4 839.0 444.8 839.0 445.2 839.0 445.6 839.0 446.0 839.0 446.4 839.0 446.8 839.0 447.2 839.0 447.6 839.0 448.0 839.0 448.4 839.0 448.8 839.0 449.2 839.0 449.6 839.0 450.0 839.0 450.4 839.0 450.8 839.0 451.2 839.0 451.6 839.0 452.0 839.0 452.4 839.0 452.8 839.0 453.2 839.0 453.6 839.0 454.0 839.0 454.4 839.0 454.8 839.0 455.2 839.0 455.6 839.0 456.0 839.0 456.4 839.0 456.8 839.0 457.2 839.0 457.6 839.0 458.0 839.0 458.4 839.0 458.8 839.0 459.2 839.0 459.6 839.0 460.0 839.4 460.0 839.8 460.0 840.2 460.0 840.6 460.0 841.1 460.0 841.5 460.0 841.9 460.0 842.3 460.0 842.3 459.6 842.3 459.2 842.3 458.8 842.3 458.4 842.3 458.0 842.3 457.6 842.3 457.2 842.3 456.8 842.3 456.4 842.3 456.0 842.3 455.6 842.3 455.2 842.3 454.8 842.3 454.4 842.3 454.0 842.3 453.6 842.3 453.2 842.3 452.8 842.3 452.4 842.3 452.0 842.3 451.6 842.3 451.2 842.3 450.8 842.3 450.4 842.3 450.0 842.3 449.6 842.3 449.2 842.3 448.8 842.3 448.4 842.3 448.0 842.3 447.6 842.3 447.2 842.3 446.8 842.3 446.4 842.3 446.0 842.3 445.6 842.3 445.2 842.3 444.8 842.3 444.4 842.3 444.0 842.3 443.6 842.3 443.2 842.3 442.8 842.3 442.4 842.3 442.0 842.3 441.6 842.3 441.2 842.3 440.8 842.3 440.4 842.3 440.0 842.3 439.6 842.3 439.2 842.3 438.8 842.3 438.4 842.3 438.0 842.3 437.5 842.3 437.1 842.3 436.7 842.3 436.3 842.3 435.9 842.3 435.5 842.3 435.1 842.3 434.7 842.3 434.3 842.3 433.9 842.3 433.5 842.3 433.1 842.3 432.7 842.3 432.3 842.3 431.9 842.3 431.5 842.3 431.1 842.3 430.7 842.3 430.3 842.3 429.9 842.3 429.5 842.3 429.1 842.3 428.7 842.3 428.3 842.3 427.9 842.3 427.5 842.3 427.1 842.3 426.7 842.3 426.3 842.3 425.9 842.3 425.5 842.3 425.1 842.3 424.7 842.3 424.3 842.3 423.9 842.3 423.5 842.3 423.1 842.3 422.7 842.3 422.3 842.3 421.9 842.3 421.5 842.3 421.1 842.3 420.7 842.3 420.3 842.3 419.9 842.3 419.5 842.3 419.1 842.3 418.7 842.3 418.3 842.3 417.9 842.3 417.5 842.3 417.1 842.3 416.7 842.3 416.3 842.3 415.9 842.3 415.5 842.3 415.1 842.3 414.7 842.3 414.3 842.3 413.9 842.3 413.5 842.3 413.1 842.3 412.7 842.3 412.3 842.3 411.9 842.3 411.5 842.3 411.1 842.3 410.7 842.3 410.3 842.3 409.9 842.3 409.5 842.3 409.1 842.3 408.7 842.3 408.3 842.3 407.9 842.3 407.5 842.3 407.1 842.3 406.7 842.3 406.3 842.3 405.9 842.3 405.5 842.3 405.1 842.3 404.7 842.3 404.3 842.3 403.9 842.3 403.5 842.3 403.1 842.3 402.7 842.3 402.3 842.3 401.9 842.3 401.5 842.3 401.1 842.3 400.7 842.3 400.3 842.3 399.9 842.3 399.5 842.3 399.1 842.3 398.7 842.3 398.3 842.3 397.9 842.3 397.5 842.3 397.1 842.3 396.7 842.3 396.3 842.3 395.9 842.3 395.5 842.3 395.1 842.3 394.7 842.3 394.3 842.3 393.9 842.3 393.4 842.3 393.0 842.3 392.6 842.3 392.2 842.3 391.8 842.3 391.4 842.3 391.0 842.3 390.6 842.3 390.2 842.3 389.8 842.3 389.4 842.3 389.0 842.3 388.6 842.3 388.2 842.3 387.8 842.3 387.4 842.3 387.0 842.3 386.6 842.3 386.2 842.3 385.8 842.3 385.4 842.3 385.0 842.3 384.6 842.3 384.2 842.3 383.8 842.3 383.4 842.3 383.0 842.3 382.6 842.3 382.2 842.3 381.8 842.3 381.4 842.3 381.0 842.3 380.6 842.3 380.2 842.3 379.8 842.3 379.4 842.3 379.0 842.3 378.6 842.3 378.2 842.3 377.8 842.3 377.4 842.3 377.0 842.3 376.6 842.3 376.2 842.3 375.8 842.3 375.4 842.3 375.0 842.3 374.6 842.3 374.2 842.3 373.8 842.3 373.4 842.3 373.0 842.3 372.6 842.3 372.2 842.3 371.8 842.3 371.4 842.3 371.0 842.3 370.6 842.3 370.2 842.3 369.8 842.3 369.4 842.3 369.0 842.3 368.6 842.3 368.2 842.3 367.8 842.3 367.4 842.3 367.0 842.3 366.6 842.3 366.2 842.3 365.8 842.3 365.4 842.3 365.0 842.3 364.6 842.3 364.2 842.3 363.8 842.3 363.4 842.3 363.0 842.3 362.6 842.3 362.2 842.3 361.8 842.3 361.4 842.3 361.0 842.3 360.6 842.3 360.2 842.3 359.8 842.3 359.4 842.3 359.0 842.3 358.6 842.3 358.2 842.3 357.8 842.3 357.4 842.3 357.0 842.3 356.6 842.3 356.2 842.3 355.8 842.3 355.4 842.3 355.0 842.3 354.6 842.3 354.2 842.3 353.8 842.3 353.4 842.3 353.0 842.3 352.6 842.3 352.2 842.3 351.8 842.3 351.4 842.3 351.0 842.3 350.6 842.3 350.2 842.3 349.8 842.3 349.4 842.3 348.9 842.3 348.5 842.3 348.1 842.3 347.7 842.3 347.3 842.3 346.9 842.3 346.5 842.3 346.1 842.3 345.7 842.3 345.3 842.3 344.9 842.3 344.5 842.3 344.1 842.3 343.7 842.3 343.3 842.3 342.9 842.3 342.5 842.3 342.1 842.3 341.7 842.3 341.3 842.3 340.9 842.3 340.5 842.3 340.1 842.3 339.7 842.3 339.3 842.3 338.9 842.3 338.5 842.3 338.1 842.3 337.7 842.3 337.3 842.3 336.9 842.3 336.5 842.3 336.1 842.3 335.7 842.3 335.3 842.3 334.9 842.3 334.5 842.3 334.1 842.3 333.7 842.3 333.3 842.3 332.9 842.3 332.5 842.3 332.1 842.3 331.7 842.3 331.3 842.3 330.9 842.3 330.5 842.3 330.1 842.3 329.7 842.3 329.3 842.3 328.9 842.3 328.5 842.3 328.1 842.3 327.7 842.3 327.3 842.3 326.9 842.3 326.5 842.3 326.1 842.3 325.7 842.3 325.3 842.3 324.9 842.3 324.5 842.4 324.1 842.4 323.7 842.4 323.3 842.4 322.9 842.4 322.5 842.4 322.1 842.4 321.7 842.4 321.3 842.4 320.9 842.4 320.5 842.4 320.1 842.4 319.7 842.5 319.2 842.5 318.8 842.5 318.4 842.5 318.0 842.5 317.6 842.5 317.2 842.5 316.3 842.5 318.2 842.5 315.5 842.5 317.4 842.5 314.7 842.5 316.6 842.6 313.9 842.6 315.8 842.6 313.1 842.6 314.9 842.6 312.3 842.6 314.1 842.6 312.0 842.6 311.1 842.6 312.9 842.6 310.3 842.6 312.1 842.6 309.5 842.6 311.3 842.7 308.7 842.7 310.5 842.7 307.9 842.7 309.7 842.7 307.1 842.7 308.9 842.7 306.3 842.7 308.1 842.7 305.5 842.7 307.3 842.7 304.7 842.7 306.5 842.8 303.9 842.8 305.7 842.8 303.1 842.8 304.9 842.8 302.3 842.8 304.1 842.8 301.5 842.8 303.3 842.8 300.7 842.8 302.5 842.8 299.9 842.8 301.7 842.9 299.1 842.9 300.9 842.9 298.3 842.9 300.1 842.9 297.5 842.9 299.3 842.9 297.2 842.9 296.2 843.0 298.1 843.0 295.4 843.0 297.3 843.0 294.6 843.1 296.5 843.1 293.8 843.1 295.7 843.1 293.0 843.2 294.8 843.2 292.3 843.2 293.6 843.3 291.5 843.3 292.8 843.3 290.7 843.3 292.0 843.4 289.8 843.4 291.1 843.4 289.0 843.5 290.3 843.5 288.2 843.5 289.5 843.5 287.4 843.6 288.7 843.6 286.6 843.6 287.9 843.6 285.7 843.7 287.0 843.7 285.3 843.9 284.5 844.1 285.9 844.3 283.8 844.5 285.1 844.6 283.0 844.8 283.6 845.0 282.4 845.2 282.3 845.2 283.3 845.3 282.8 845.3 284.1 845.3 283.6 845.3 284.9 845.4 284.4 845.4 285.7 845.4 285.2 845.4 286.5 845.5 286.0 845.5 287.3 845.5 286.8 845.5 288.1 845.6 287.6 845.6 288.9 845.6 288.4 845.7 289.7 845.7 289.2 845.7 290.5 845.7 290.0 845.8 291.3 845.8 290.8 845.8 292.1 845.8 291.6 845.9 292.9 845.9 292.7 846.0 292.0 846.1 292.5 846.1 291.1 846.2 291.6 846.3 290.3 846.4 290.8 846.5 288.0 846.6 289.9 846.6 287.2 846.7 289.1 846.8 286.4 846.9 288.3 847.0 285.6 847.1 287.5 847.1 284.7 847.2 286.6 847.3 283.9 847.4 285.3 847.5 285.4 847.5 282.7 847.6 284.6 847.6 281.9 847.7 283.8 847.8 281.1 847.8 283.0 847.9 280.3 848.0 282.2 848.0 280.0 848.1 281.8 848.1 279.2 848.2 281.0 848.3 278.4 848.3 280.2 848.4 277.6 848.5 279.4 848.5 276.8 848.6 278.5 848.6 276.0 848.7 277.7 848.8 275.2 848.8 276.9 848.9 275.6 848.9 274.8 849.0 277.3 849.0 275.6 849.0 278.1 849.1 276.4 849.1 278.9 849.1 277.2 849.2 279.7 849.2 278.0 849.2 280.6 849.3 278.8 849.3 281.4 849.3 279.6 849.4 282.2 849.4 280.4 849.4 283.0 849.5 281.2 849.5 283.8 849.6 282.0 849.6 284.6 849.6 283.1 849.7 285.4 849.7 284.0 849.7 286.3 849.8 284.8 849.8 287.1 849.8 285.6 849.9 287.9 849.9 286.4 849.9 288.7 850.0 287.2 850.0 289.5 850.0 288.0 850.1 290.3 850.1 289.7 850.2 289.2 850.3 291.5 850.4 290.0 850.5 292.3 850.6 290.8 850.6 293.1 850.7 291.6 850.8 294.0 850.9 292.5 851.0 294.8 851.1 294.2 851.1 292.9 851.2 294.4 851.2 292.5 851.2 294.1 851.3 291.7 851.3 293.3 851.3 290.9 851.4 292.5 851.4 290.1 851.4 291.7 851.5 289.3 851.5 290.9 851.5 288.4 851.6 290.1 851.6 287.6 851.6 289.3 851.7 286.8 851.7 288.4 851.7 286.0 851.8 287.6 851.8 285.2 851.9 286.8 851.9 284.4 851.9 286.0 852.0 283.6 852.0 285.2 852.0 282.8 852.1 284.4 852.1 282.0 852.1 283.6 852.2 281.2 852.2 282.8 852.2 280.4 852.3 282.0 852.3 279.5 852.3 281.2 852.4 278.7 852.4 280.4 852.4 277.9 852.5 279.5 852.5 277.1 852.5 278.7 852.6 276.3 852.6 276.4 852.7 278.3 852.9 276.9 853.0 278.2 853.1 277.7 853.3 279.0 853.4 278.5 853.6 279.8 853.7 279.3 853.8 280.6 854.0 280.1 854.1 280.8 854.2 281.8 854.3 281.3 854.3 282.5 854.4 282.2 854.5 283.4 854.6 283.0 854.7 284.2 854.7 283.7 854.8 285.0 854.9 284.5 855.0 285.8 855.0 285.3 855.1 286.5 855.2 286.1 855.3 287.3 855.4 286.9 855.4 288.1 855.5 287.7 855.6 288.3 855.8 289.3 856.0 288.8 856.1 291.0 856.3 288.9 856.5 291.8 856.6 289.6 856.8 292.5 857.0 291.2 857.1 290.0 857.2 292.1 857.4 289.2 857.5 291.3 857.6 288.5 857.7 289.2 857.8 287.7 858.0 288.4 858.1 286.9 858.2 287.7 858.3 286.1 858.5 286.9 858.6 285.3 858.7 286.1 858.8 284.6 858.9 285.3 859.1 283.8 859.2 284.6 859.3 283.8 859.7 283.5 860.0 286.1 860.4 284.0 860.8 286.6 861.1 284.8 861.5 285.3 861.7 286.2 862.0 284.4 862.2 285.5 862.5 283.2 862.7 284.9 863.0 282.5 863.2 284.2 863.5 281.9 863.7 282.3 864.0 283.2 864.3 281.0 864.6 282.6 864.9 280.4 865.2 282.0 865.5 279.9 865.8 281.3 866.1 279.0 866.4 280.7 866.7 279.3 866.9 278.1 867.2 279.7 867.4 276.9 867.6 278.9 867.9 276.3 868.1 278.2 868.3 275.6 868.5 277.5 868.8 275.0 869.0 276.1 869.2 275.3 869.5 275.5 869.7 274.9 869.9 274.2 870.2 274.4 870.4 273.6 870.6 274.2 870.9 271.9 871.1 273.5 871.3 271.3 871.5 272.8 871.8 270.6 872.0 272.6 872.2 270.8 872.5 271.9 872.7 270.4 873.1 269.9 873.5 271.1 873.9 269.1 874.3 270.4 874.7 268.7 875.1 270.0 875.5 268.1 875.9 268.8 876.3 269.3 876.7 268.2 877.1 270.1 877.5 268.9 877.8 270.4 878.2 269.2 878.6 270.5 879.0 269.9 879.4 269.7 879.9 270.6 880.3 269.7 880.7 270.6 881.1 269.7 881.6 270.6 882.0 269.9 882.4 269.3 882.8 271.0 883.2 269.4 883.6 269.8 884.0 269.8 884.5 270.6 884.9 270.6 885.3 270.0 885.7 271.5 886.1 270.9 886.5 271.1 886.8 271.6 887.2 271.0 887.6 271.2 888.0 271.0 888.3 271.7 888.7 271.8 889.1 272.2 889.5 272.3 889.8 273.3 890.2 272.9 890.5 273.8 890.9 272.9 891.2 273.5 891.6 273.4 891.9 274.4 892.2 275.2 892.6 274.2 892.9 275.4 893.3 274.9 893.6 274.7 894.0 276.1 894.3 276.0 894.6 276.0 895.0 276.0 895.3 276.6 895.7 276.5 896.0 277.0 896.4 277.3 896.7 277.4 897.1 277.9 897.4 278.0 897.7 277.4 898.0 276.8 898.3 276.5 898.6 276.3 898.9 276.5 899.2 276.0 899.5 276.3 899.8 275.6 900.1 275.6 900.4 275.0 901.1 275.5 901.8 274.1 902.5 273.9 903.1 273.9 903.8 274.0 904.5 274.0 905.2 273.7 905.9 273.6 906.5 272.8 907.2 273.2 907.9 271.7 908.6 271.9 909.4 272.3 910.2 271.6 911.1 272.3 911.9 271.4 912.7 271.9 913.4 272.6 914.1 272.5 914.8 273.0 915.4 272.7 916.1 272.4 916.8 272.9 917.6 273.4 918.3 272.8 919.1 272.4 919.8 273.0 920.6 272.9 921.4 272.9 922.1 272.5 922.9 272.9 923.7 272.6 924.4 273.3 925.2 273.3 926.0 273.0 926.7 273.5 927.5 274.0 928.2 274.1 929.0 274.0 929.7 274.2 930.4 274.3 931.1 274.5 931.8 274.6 932.4 274.8 933.1 275.3 933.8 275.1 934.5 276.0 935.2 276.0 935.9 276.4 936.6 276.6 937.2 276.1 937.9 276.7 938.6 277.0 939.3 276.9 939.9 278.1 940.6 278.1 941.3 278.0 942.1 278.1 942.8 278.5 943.6 278.1 944.3 278.3 945.1 278.7 945.9 279.1 946.6 279.1 947.4 279.1 948.2 278.7 949.0 279.5 949.7 279.9 950.5 279.9 951.3 280.2 952.0 280.3 952.8 279.7 953.6 280.1 954.4 279.9 955.1 280.1 955.9 280.6 956.7 280.0 957.4 280.5 958.2 280.5 958.9 280.1 959.7 280.1 960.5 280.1 961.2 280.3 962.0 280.0 962.8 279.4 963.6 279.8 964.4 279.1 965.1 279.1 965.9 279.1 966.7 279.4 967.4 279.2 968.2 278.5 969.0 278.3 969.7 278.5 970.5 278.6 971.2 278.3 972.0 278.0 972.8 278.4 973.5 278.2 974.3 278.3 975.0 278.1 975.8 277.9 976.6 277.9 977.3 278.0 978.1 278.0 978.9 277.9 979.6 278.1 980.4 277.4 981.2 277.1 982.0 277.6 982.8 277.0 983.5 277.1 984.3 277.0 985.1 276.5 985.8 277.1 986.6 276.4 987.3 276.3 988.1 276.7 988.9 276.3 989.6 275.9 990.4 276.0 991.1 276.4 991.9 276.1 992.6 276.1 993.4 276.8 994.1 276.7 994.8 276.7 995.6 276.4 996.3 277.0 997.0 276.8 997.8 277.1 998.5 276.8 999.3 277.3 1000.0 277.1 1000.7 277.4 1001.4 277.1 1002.1 277.3 1002.8 277.5 1003.5 277.7 1004.3 277.7 1005.0 277.6 1005.7 277.1 1006.4 277.5 1007.1 277.6 1007.8 277.1 1008.5 277.5 1009.2 277.8 1009.9 277.9 1010.6 278.0 1011.4 277.3 1012.1 277.8 1012.8 278.0 1013.5 277.9 1014.2 277.6 1014.9 277.8 1015.6 277.5 1016.3 278.3 1017.0 278.3 1017.7 278.2 1018.4 278.0 1019.1 278.5 1019.8 278.6 1020.5 278.6 1021.2 278.5 1021.9 278.4 1022.7 278.4 1023.4 278.5 1024.1 278.6 1024.8 278.8 1025.5 278.6 1026.2 279.1 1026.9 278.9 1027.6 278.8 1028.3 279.0 1029.0 279.1 1029.7 279.3 1030.4 279.3 1031.1 279.7 1031.8 279.2 1032.5 279.4 1033.2 279.5 1034.0 279.5 1034.7 280.0 1035.4 279.6 1036.1 279.6 1036.8 280.1 1037.5 280.3 1038.2 280.4 1038.9 280.3 1039.6 280.2 1040.3 280.7 1041.1 280.6 1041.8 280.5 1042.5 280.6 1043.2 281.0 1043.9 281.1 1044.6 280.8 1045.3 281.2 1046.0 280.7 1046.7 281.0 1047.5 281.1 1048.2 281.1 1048.9 281.6 1049.6 281.2 1050.3 281.9 1051.0 281.8 1051.8 281.9 1052.5 281.8 1053.2 282.3 1053.9 282.2 1054.6 282.5 1055.3 282.6 1056.1 282.5 1056.8 282.8 1057.5 282.6 1058.2 282.6 1058.9 283.0 1059.6 282.9 1060.4 282.9 1061.1 283.2 1061.8 283.2 1062.5 283.3 1063.2 283.0 1063.9 283.4 1064.6 283.1 1065.3 283.3 1066.0 283.0 1066.7 283.2 1067.4 282.7 1068.1 282.5 1068.8 282.7 1069.5 282.8 1070.3 282.7 1071.0 282.5 1071.7 282.1 1072.4 282.2 1073.1 281.9 1073.8 282.1 1074.5 282.4 1075.2 281.9 1075.9 282.1 1076.6 282.0 1077.3 281.8 1078.0 281.5 1078.7 281.9 1079.5 281.5 1080.2 281.5 1080.9 281.8 1081.6 281.5 1082.3 282.0 1083.0 281.7 1083.8 281.8 1084.5 282.0 1085.2 281.4 1085.9 282.0 1086.6 281.3 1087.4 281.7 1088.1 281.7 1088.8 282.0 1089.5 281.5 1090.2 281.9 1091.0 281.7 1091.7 281.6 1092.4 281.3 1093.1 281.4 1093.8 281.5 1094.5 281.4 1095.3 281.4 1096.0 281.7 1096.7 281.5 1097.4 281.5 1098.1 281.7 1098.9 281.3 1099.6 281.4 1100.3 281.9 1101.0 282.1 1101.7 281.7 1102.5 281.6 1103.2 281.7 1103.9 281.9 1104.6 281.9 1105.3 282.1 1106.1 282.0 1106.8 282.3 1107.5 282.4 1108.2 282.5 1108.9 282.5 1109.6 282.4 1110.4 282.3 1111.1 282.7 1111.8 282.4 1112.5 282.8 1113.2 282.6 1114.0 282.8 1114.7 282.7 1115.4 282.9 1116.1 282.7 1116.8 282.9 1117.6 283.1 1118.3 282.9 1119.0 283.0 1119.7 283.0 1120.5 282.9 1121.2 282.8 1122.0 282.7 1122.7 282.8 1123.5 282.8 1124.2 282.4 1124.9 282.4 1125.7 282.8 1126.4 282.2 1127.2 282.7 1127.9 282.6 1128.7 282.2 1129.4 282.3 1130.1 282.5 1130.8 282.2 1131.5 282.7 1132.2 282.3 1132.9 282.3 1133.6 282.3 1134.3 282.9 1135.0 282.6 1135.7 282.7 1136.4 283.2 1137.1 283.1 1137.8 283.2 1138.5 283.1 1139.2 283.2 1139.9 282.8 1140.6 283.5 1141.3 283.3 1142.0 283.2 1142.7 283.5 1143.4 283.2 1144.1 283.6 1144.8 283.0 1145.6 283.6 1146.3 283.0 1147.0 283.3 1147.7 283.3 1148.4 283.6 1149.1 283.5 1149.8 283.6 1150.5 283.6 1151.2 283.2 1151.9 283.1 1152.7 283.1 1153.4 283.4 1154.1 283.6 1154.8 283.4 1155.5 283.2 1156.2 283.3 1156.9 283.3 1157.6 283.3 1158.4 283.0 1159.1 283.2 1159.8 282.8 1160.5 282.6 1161.2 282.6 1162.0 282.8 1162.7 282.9 1163.4 282.5 1164.1 282.6 1164.8 282.7 1165.6 282.4 1166.3 282.5 1167.0 282.5 1167.7 282.3 1168.4 282.1 1169.1 282.4 1169.9 282.3 1170.6 281.9 1171.3 282.3 1172.0 282.1 1172.7 282.2 1173.5 282.1 1174.2 281.8 1174.9 281.9 1175.6 281.6 1176.3 281.8 1177.1 281.3 1177.8 281.5 1178.5 281.5 1179.2 281.5 1179.9 281.8 1180.6 281.7 1181.3 281.9 1182.0 281.9 1182.7 282.1 1183.4 281.8 1184.1 281.9 1184.8 281.8 1185.5 281.7 1186.3 282.1 1187.0 282.0 1187.7 281.8 1188.4 281.9 1189.1 281.9 1189.8 282.3 1190.5 282.2 1191.2 282.0 1191.9 282.4 1192.6 282.3 1193.3 282.3 1194.0 282.2 1194.8 282.3 1195.5 282.7 1196.2 282.2 1196.9 282.3 1197.7 282.5 1198.4 282.8 1199.1 282.8 1199.8 282.5 1200.6 282.8 1201.3 282.4 1202.0 282.6 1202.7 282.9 1203.5 282.8 1204.2 282.7 1204.9 282.9 1205.6 282.8 1206.4 282.9 1207.1 283.1 1207.8 283.2 1208.5 282.7 1209.3 283.1 1210.0 283.0 1210.7 283.3 1211.4 283.0 1212.1 283.0 1212.8 282.8 1213.5 282.9 1214.2 283.0 1215.0 283.0 1215.7 282.6 1216.4 283.2 1217.1 282.7 1217.8 282.8 1218.5 282.6 1219.2 282.9 1219.9 282.5 1220.6 282.6 1221.3 282.7 1222.0 282.6 1222.7 282.7 1223.4 282.4 1224.1 282.7 1224.8 282.9 1225.6 282.7 1226.3 282.9 1227.0 282.9 1227.7 282.6 1228.4 282.5 1229.1 282.7 1229.8 282.8 1230.5 282.5 1231.2 282.6 1231.9 282.6 1232.6 282.5 1233.3 282.5 1234.0 282.4 1234.8 282.4 1235.5 282.4 1236.2 282.6 1236.9 282.1 1237.6 282.1 1238.3 282.6 1239.0 282.3 1239.7 282.3 1240.4 282.4 1241.1 282.5 1241.8 282.4 1242.5 282.2 1243.2 282.4 1243.9 282.2 1244.6 282.0 1245.3 281.8 1246.0 281.8 1246.7 282.2 1247.4 282.2 1248.1 281.8 1248.8 281.9 1249.5 281.9 1250.2 281.9 1250.9 281.6 1251.6 282.0 1252.3 281.7 1253.0 281.8 1253.7 281.7 1254.4 281.5 1255.1 281.7 1255.8 281.3 1256.5 281.5 1257.2 281.5 1257.9 281.5 1258.6 281.2 1259.3 281.1 1260.0 281.0 1260.7 281.0 1261.4 281.0 1262.1 281.2 1262.8 281.2 1263.5 281.2 1264.3 281.2 1265.0 281.0 1265.7 281.2 1266.4 280.6 1267.1 280.8 1267.9 280.6 1268.6 280.9 1269.3 280.9 1270.0 280.8 1270.7 280.7 1271.5 280.6 1272.2 280.5 1272.9 280.3 1273.6 280.4 1274.3 280.5 1275.0 280.6 1275.8 280.2 1276.5 280.7 1277.2 280.1 1277.9 280.1 1278.6 280.3 1279.4 280.2 1280.1 280.2 1280.8 280.3 1281.5 280.2 1282.2 280.3 1283.0 280.1 1283.7 280.2 1284.4 280.0 1285.1 280.0 1285.9 279.8 1286.6 279.8 1287.4 279.9 1288.1 280.1 1288.9 280.0 1289.6 280.2 1290.3 280.3 1291.1 280.5 1291.8 280.0 1292.6 280.6 1293.3 279.9 1294.1 280.6 1294.8 280.3 1295.5 280.7 1296.2 280.3 1296.9 280.7 1297.7 280.5 1298.4 280.6 1299.1 280.9 1299.8 281.0 1300.5 280.6 1301.2 280.6 1301.9 281.1 1302.7 281.0 1303.4 281.2 1304.1 280.8 1304.8 281.3 1305.5 280.9 1306.2 280.9 1307.0 281.1 1307.7 281.6 1308.4 281.3 1309.1 281.4 1309.8 281.3 1310.5 281.2 1311.2 281.5 1312.0 281.6 1312.7 281.6 1313.4 281.9 1314.1 281.8 1314.8 281.7 1315.5 282.2 1316.3 282.2 1317.0 282.0 1317.7 281.7 1318.4 282.0 1319.1 282.1 1319.9 282.1 1320.6 282.0 1321.3 282.2 1322.0 282.5 1322.7 282.3 1323.5 281.9 1324.2 282.3 1324.9 282.3 1325.6 282.3 1326.3 282.6 1327.0 282.0 1327.8 282.0 1328.5 282.5 1329.2 282.1 1329.9 282.2 1330.6 282.7 1331.4 282.4 1332.1 282.8 1332.8 282.8 1333.5 282.7 1334.2 282.5 1335.0 282.3 1335.7 283.0 1336.4 282.7 1337.1 283.0 1337.8 283.0 1338.6 282.7 1339.3 282.6 1340.0 282.8 1340.7 282.7 1341.4 282.6 1342.2 282.5 1342.9 282.7 1343.6 282.6 1344.3 282.6 1345.0 283.2 1345.8 283.1 1346.5 283.1 1347.2 282.9 1347.9 283.0 1348.6 282.6 1349.3 283.0 1350.1 283.2 1350.8 283.1 1351.5 283.2 1352.2 283.0 1352.9 282.8 1353.7 282.6 1354.4 282.8 1355.1 283.2 1355.8 283.0 1356.5 283.1 1357.3 283.2 1358.0 282.8 1358.7 283.0 1359.4 282.8 1360.2 283.4 1360.9 283.2 1361.7 282.9 1362.4 283.4 1363.2 283.5 1363.9 283.5 1364.6 283.1 1365.4 283.3 1366.1 283.7 1366.9 283.7 1367.6 283.5 1368.4 284.0 1369.1 283.7 1369.8 283.5 1370.5 283.9 1371.2 283.3 1371.9 283.4 1372.6 283.8 1373.3 283.5 1374.0 283.5 1374.7 283.5 1375.4 283.3 1376.1 283.1 1376.8 283.3 1377.5 283.0 1378.2 283.3 1378.9 283.1 1379.6 282.5 1380.3 282.6 1381.0 282.7 1381.7 283.0 1382.4 282.6 1383.2 282.6 1383.9 283.0 1384.6 283.2 1385.3 283.4 1386.0 283.5 1386.7 283.3 1387.5 283.4 1388.2 283.4 1388.9 283.7 1389.6 283.6 1390.3 283.3 1391.1 283.7 1391.8 283.4 1392.5 283.7 1393.2 283.7 1393.9 284.2 1394.7 283.8 1395.4 283.9 1396.1 284.1 1396.8 284.0 1397.5 284.2 1398.2 284.2 1399.0 284.5 1399.7 284.6 1400.4 284.5 1401.1 284.6 1401.8 284.8 1402.5 284.5 1403.3 284.7 1404.0 284.2 1404.7 284.4 1405.4 284.4 1406.1 284.8 1406.8 284.5 1407.6 284.4 1408.3 284.6 1409.0 284.8 1409.7 284.7 1410.4 284.7 1411.1 284.6 1411.8 284.7 1412.6 284.5 1413.3 284.4 1414.0 284.4 1414.7 284.3 1415.4 284.4 1416.1 284.5 1416.9 284.8 1417.6 284.3 1418.3 284.4 1419.0 284.5" stroke="#000080"/>
<path d="M838.6 168.0 838.6 168.4 838.6 168.8 838.6 169.2 838.6 169.6 838.6 170.0 838.6 170.4 838.6 170.8 838.6 171.2 838.6 171.6 838.6 172.0 838.6 172.4 838.6 172.8 838.6 173.2 838.6 173.6 838.6 174.0 838.6 174.4 838.6 174.8 838.6 175.2 838.6 175.6 838.6 176.0 838.6 176.4 838.6 176.8 838.6 177.2 838.6 177.6 838.6 178.0 838.6 178.4 838.6 178.8 838.6 179.2 838.6 179.6 838.6 180.0 838.6 180.4 838.6 180.8 838.6 181.2 838.6 181.6 838.6 182.0 838.6 182.4 838.6 182.8 838.6 183.2 838.6 183.6 838.6 184.0 838.6 184.4 838.6 184.8 838.6 185.2 838.6 185.6 838.6 186.0 838.6 186.4 838.6 186.8 838.6 187.2 838.6 187.6 838.6 188.0 838.6 188.4 838.6 188.8 838.6 189.2 838.6 189.6 838.6 190.0 838.6 190.4 838.6 190.8 838.6 191.2 838.6 191.6 838.6 192.0 838.6 192.4 838.6 192.8 838.6 193.2 838.6 193.6 838.6 194.0 838.6 194.4 838.6 194.8 838.6 195.2 838.6 195.6 838.6 196.0 838.6 196.4 838.6 196.8 838.6 197.2 838.6 197.6 838.6 198.0 838.6 198.4 838.6 198.8 838.6 199.2 838.6 199.6 838.6 200.0 838.6 200.4 838.6 200.8 838.6 201.2 838.6 201.6 838.6 202.0 838.6 202.4 838.6 202.8 838.6 203.2 838.6 203.6 838.6 204.0 838.6 204.4 838.6 204.8 838.6 205.2 838.6 205.6 838.6 206.0 838.6 206.4 838.6 206.8 838.6 207.2 838.6 207.6 838.6 208.0 838.6 208.4 838.6 208.8 838.6 209.2 838.6 209.6 838.6 210.0 838.6 210.4 838.6 210.8 838.6 211.2 838.6 211.6 838.6 212.0 838.6 212.4 838.6 212.8 838.6 213.2 838.6 213.6 838.6 214.0 838.6 214.4 838.6 214.8 838.6 215.2 838.6 215.6 838.6 216.0 838.6 216.4 838.6 216.8 838.6 217.2 838.6 217.6 838.6 218.0 838.6 218.4 838.6 218.8 838.6 219.2 838.6 219.6 838.6 220.0 838.6 220.4 838.6 220.8 838.6 221.2 838.6 221.6 838.6 222.0 838.6 222.4 838.6 222.8 838.6 223.2 838.6 223.6 838.6 224.0 838.6 224.4 838.6 224.8 838.6 225.2 838.6 225.6 838.6 226.0 838.6 226.4 838.6 226.8 838.6 227.2 838.6 227.6 838.6 228.0 838.6 228.4 838.6 228.8 838.6 229.2 838.6 229.6 838.6 230.0 838.6 230.4 838.6 230.8 838.6 231.2 838.6 231.6 838.6 232.0 838.6 232.4 838.6 232.8 838.6 233.2 838.6 233.6 838.6 234.0 838.6 234.4 838.6 234.8 838.6 235.2 838.6 235.6 838.6 236.0 838.6 236.4 838.6 236.8 838.6 237.2 838.6 237.6 838.6 238.0 838.6 238.4 838.6 238.8 838.6 239.2 838.6 239.6 838.6 240.0 838.6 240.4 838.6 240.8 838.6 241.2 838.6 241.6 838.6 242.0 838.6 242.4 838.6 242.8 838.6 243.2 838.6 243.6 838.6 244.0 838.6 244.4 838.6 244.8 838.6 245.2 838.6 245.6 838.6 246.0 838.6 246.4 838.6 246.8 838.6 247.2 838.6 247.6 838.6 248.0 838.6 248.4 838.6 248.8 838.6 249.2 838.6 249.6 838.6 250.0 838.6 250.4 838.6 250.8 838.6 251.2 838.6 251.6 838.6 252.0 838.6 252.4 838.6 252.8 838.6 253.2 838.6 253.6 838.6 254.0 838.6 254.4 838.6 254.8 838.6 255.2 838.6 255.6 838.6 256.0 838.6 256.4 838.6 256.8 838.6 257.2 838.6 257.6 838.6 258.0 838.6 258.4 838.6 258.8 838.6 259.2 838.6 259.6 838.6 260.0 838.6 260.4 838.6 260.8 838.6 261.2 838.6 261.6 838.6 262.0 838.6 262.4 838.6 262.8 838.6 263.2 838.6 263.6 838.6 264.0 838.6 264.4 838.6 264.8 838.6 265.2 838.6 265.6 838.6 266.0 838.6 266.4 838.6 266.8 838.6 267.2 838.6 267.6 838.6 268.0 838.6 268.4 838.6 268.8 838.6 269.2 838.6 269.6 838.6 270.0 838.6 270.4 838.6 270.8 838.6 271.2 838.6 271.6 838.6 272.0 838.6 272.4 838.6 272.8 838.6 273.2 838.6 273.6 838.6 274.0 838.6 274.4 838.6 274.8 838.6 275.2 838.6 275.6 838.6 276.0 838.6 276.4 838.6 276.8 838.6 277.2 838.6 277.6 838.6 278.0 838.6 278.4 838.6 278.8 838.6 279.2 838.6 279.6 838.6 280.0 838.6 280.4 838.6 280.8 838.6 281.2 838.6 281.6 838.6 282.0 838.6 282.4 838.6 282.8 838.6 283.2 838.6 283.6 838.6 284.0 838.6 284.4 838.6 284.8 838.6 285.2 838.6 285.6 838.6 286.0 838.6 286.4 838.6 286.8 838.6 287.2 838.6 287.6 838.6 288.0 838.6 288.4 838.6 288.8 838.6 289.2 838.6 289.6 838.6 290.0 838.6 290.4 838.6 290.8 838.6 291.2 838.6 291.6 838.6 292.0 838.6 292.4 838.6 292.8 838.6 293.2 838.6 293.6 838.6 294.0 838.6 294.4 838.6 294.8 838.6 295.2 838.6 295.6 838.6 296.0 838.6 296.4 838.6 296.8 838.6 297.2 838.6 297.6 838.6 298.0 838.6 298.4 838.6 298.8 838.6 299.2 838.6 299.6 838.6 300.0 838.6 300.4 838.6 300.8 838.6 301.2 838.6 301.6 838.6 302.0 838.6 302.4 838.6 302.8 838.6 303.2 838.6 303.6 838.6 304.0 838.6 304.4 838.6 304.8 838.6 305.2 838.6 305.6 838.6 306.0 838.6 306.4 838.6 306.8 838.6 307.2 838.6 307.6 838.6 308.0 838.6 308.4 838.6 308.8 838.6 309.2 838.6 309.6 838.6 310.0 838.6 310.4 838.6 310.8 838.6 311.2 838.6 311.6 838.6 312.0 838.6 312.4 838.6 312.8 838.6 313.2 838.6 313.6 838.6 314.0 838.6 314.4 838.6 314.8 838.6 315.2 838.6 315.6 838.6 316.0 838.6 316.4 838.6 316.8 838.6 317.2 838.6 317.6 838.6 318.0 838.6 318.4 838.6 318.8 838.6 319.2 838.6 319.6 838.6 320.0 838.6 320.4 838.6 320.8 838.6 321.2 838.6 321.6 838.6 322.0 838.6 322.4 838.6 322.8 838.6 323.2 838.6 323.6 838.6 324.0 838.6 324.4 838.6 324.8 838.6 325.2 838.6 325.6 838.6 326.0 838.6 326.4 838.6 326.8 838.6 327.2 838.6 327.6 838.6 328.0 838.6 328.4 838.6 328.8 838.6 329.2 838.6 329.6 838.6 330.0 838.6 330.4 838.6 330.8 838.6 331.2 838.6 331.6 838.6 332.0 838.6 332.4 838.6 332.8 838.6 333.2 838.6 333.6 838.6 334.0 838.6 334.4 838.6 334.8 838.6 335.2 838.6 335.6 838.6 336.0 838.6 336.4 838.6 336.8 838.6 337.2 838.6 337.6 838.6 338.0 838.6 338.4 838.6 338.8 838.6 339.2 838.6 339.6 838.6 340.0 838.6 340.4 838.6 340.8 838.6 341.2 838.6 341.6 838.6 342.0 838.6 342.4 838.6 342.8 838.6 343.2 838.6 343.6 838.6 344.0 838.6 344.4 838.6 344.8 838.6 345.2 838.6 345.6 838.6 346.0 838.6 346.4 838.6 346.8 838.6 347.2 838.6 347.6 838.6 348.0 838.6 348.4 838.6 348.8 838.6 349.2 838.6 349.6 838.6 350.0 838.6 350.4 838.6 350.8 838.6 351.2 838.6 351.6 838.6 352.0 838.6 352.4 838.6 352.8 838.6 353.2 838.6 353.6 838.6 354.0 838.6 354.4 838.6 354.8 838.6 355.2 838.6 355.6 838.6 356.0 838.6 356.4 838.6 356.8 838.6 357.2 838.6 357.6 838.6 358.0 838.6 358.4 838.6 358.8 838.6 359.2 838.6 359.6 838.6 360.0 838.6 360.4 838.6 360.8 838.6 361.2 838.6 361.6 838.6 362.0 838.6 362.4 838.6 362.8 838.6 363.2 838.6 363.6 838.6 364.0 838.6 364.4 838.6 364.8 838.6 365.2 838.6 365.6 838.6 366.0 838.6 366.4 838.6 366.8 838.6 367.2 838.6 367.6 838.6 368.0 838.6 368.4 838.6 368.8 838.6 369.2 838.6 369.6 838.6 370.0 838.6 370.4 838.6 370.8 838.6 371.2 838.6 371.6 838.6 372.0 838.6 372.4 838.6 372.8 838.6 373.2 838.6 373.6 838.6 374.0 838.6 374.4 838.6 374.8 838.6 375.2 838.6 375.6 838.6 376.0 838.6 376.4 838.6 376.8 838.6 377.2 838.6 377.6 838.6 378.0 838.6 378.4 838.6 378.8 838.6 379.2 838.6 379.6 838.6 380.0 838.6 380.4 838.6 380.8 838.6 381.2 838.6 381.6 838.6 382.0 838.6 382.4 838.6 382.8 838.6 383.2 838.6 383.6 838.6 384.0 838.6 384.4 838.6 384.8 838.6 385.2 838.6 385.6 838.6 386.0 838.6 386.4 838.6 386.8 838.6 387.2 838.6 387.6 838.6 388.0 838.6 388.4 838.6 388.8 838.6 389.2 838.6 389.6 838.6 390.0 838.6 390.4 838.6 390.8 838.6 391.2 838.6 391.6 838.6 392.0 838.6 392.4 838.6 392.8 838.6 393.2 838.6 393.6 838.6 394.0 838.6 394.4 838.6 394.8 838.6 395.2 838.6 395.6 838.6 396.0 838.6 396.4 838.6 396.8 838.6 397.2 838.6 397.6 838.6 398.0 838.6 398.4 838.6 398.8 838.6 399.2 838.6 399.6 838.6 400.0 838.6 400.4 838.6 400.8 838.6 401.2 838.6 401.6 838.6 402.0 838.6 402.4 838.6 402.8 838.6 403.2 838.6 403.6 838.6 404.0 838.6 404.4 838.6 404.8 838.6 405.2 838.6 405.6 838.6 406.0 838.6 406.4 838.6 406.8 838.6 407.2 838.6 407.6 838.6 408.0 838.6 408.4 838.6 408.8 838.6 409.2 838.6 409.6 838.6 410.0 838.6 410.4 838.6 410.8 838.6 411.2 838.6 411.6 838.6 412.0 838.6 412.4 838.6 412.8 838.6 413.2 838.6 413.6 838.6 414.0 838.6 414.4 838.6 414.8 838.6 415.2 838.6 415.6 838.6 416.0 838.6 416.4 838.6 416.8 838.6 417.2 838.6 417.6 838.6 418.0 838.6 418.4 838.6 418.8 838.6 419.2 838.6 419.6 838.6 420.0 838.6 420.4 838.6 420.8 838.6 421.2 838.6 421.6 838.6 422.0 838.6 422.4 838.6 422.8 838.6 423.2 838.6 423.6 838.6 424.0 838.6 424.4 838.6 424.8 838.6 425.2 838.6 425.6 838.6 426.0 838.6 426.4 838.6 426.8 838.6 427.2 838.6 427.6 838.6 428.0 838.6 428.4 838.6 428.8 838.6 429.2 838.6 429.6 838.6 430.0 838.6 430.4 838.6 430.8 838.6 431.2 838.6 431.6 838.6 432.0 838.6 432.4 838.6 432.8 838.6 433.2 838.6 433.6 838.6 434.0 838.6 434.4 838.6 434.8 838.6 435.2 838.6 435.6 838.6 436.0 838.6 436.4 838.6 436.8 838.6 437.2 838.6 437.6 838.6 438.0 838.6 438.4 838.6 438.8 838.6 439.2 838.6 439.6 838.6 440.0 838.6 440.4 838.6 440.8 838.6 441.2 838.6 441.6 838.6 442.0 838.6 442.4 838.6 442.8 838.6 443.2 838.6 443.6 838.6 444.0 838.6 444.4 838.6 444.8 838.6 445.2 838.6 445.6 838.6 446.0 838.6 446.4 838.6 446.8 838.6 447.2 838.6 447.6 838.6 448.0 838.6 448.4 838.6 448.8 838.6 449.2 838.6 449.6 838.6 450.0 838.6 450.4 838.6 450.8 838.6 451.2 838.6 451.6 838.6 452.0 838.6 452.4 838.6 452.8 838.6 453.2 838.6 453.6 838.6 454.0 838.6 454.4 838.6 454.8 838.6 455.2 838.6 455.6 838.6 456.0 838.6 456.4 838.6 456.8 838.6 457.2 838.6 457.6 838.6 458.0 838.6 458.4 838.6 458.8 838.6 459.2 838.6 459.6 838.6 460.0 838.6 460.4 838.6 460.8 838.6 461.2 838.6 461.6 838.6 462.0 838.6 462.4 838.6 462.8 838.6 463.2 838.6 463.6 838.6 464.0 838.6 464.4 838.6 464.8 838.6 465.2 838.6 465.6 838.6 466.0 838.6 466.4 838.6 466.8 838.6 467.2 838.6 467.6 838.6 468.0 838.6 468.4 838.6 468.8 838.6 469.2 838.6 469.6 838.6 470.0 839.0 470.0 839.5 470.0 839.9 470.0 840.3 470.0 840.7 470.0 841.2 470.0 841.6 470.0 841.6 469.6 841.6 469.2 841.6 468.8 841.6 468.4 841.6 468.0 841.6 467.6 841.6 467.2 841.6 466.8 841.6 466.4 841.6 466.0 841.6 465.6 841.6 465.2 841.6 464.8 841.6 464.4 841.6 464.0 841.6 463.5 841.6 463.1 841.6 462.7 841.6 462.3 841.6 461.9 841.6 461.5 841.6 461.1 841.6 460.7 841.6 460.3 841.6 459.9 841.6 459.5 841.6 459.1 841.6 458.7 841.6 458.3 841.6 457.9 841.6 457.5 841.6 457.1 841.6 456.7 841.6 456.3 841.6 455.9 841.6 455.5 841.6 455.1 841.6 454.7 841.6 454.3 841.6 453.9 841.6 453.5 841.6 453.1 841.6 452.7 841.6 452.3 841.6 451.9 841.6 451.5 841.6 451.0 841.6 450.6 841.6 450.2 841.6 449.8 841.6 449.4 841.6 449.0 841.6 448.6 841.6 448.2 841.6 447.8 841.6 447.4 841.6 447.0 841.6 446.6 841.6 446.2 841.6 445.8 841.6 445.4 841.6 445.0 841.6 444.6 841.6 444.2 841.6 443.7 841.5 443.3 841.5 442.9 841.5 442.5 841.5 442.1 841.5 441.6 841.5 441.2 841.5 440.8 841.5 440.4 841.5 440.0 841.4 439.6 841.4 439.1 841.4 438.7 841.4 438.3 841.4 437.9 841.4 437.5 841.4 437.1 841.4 436.7 841.4 436.3 841.5 435.9 841.5 435.5 841.5 435.1 841.5 434.7 841.5 434.3 841.5 433.9 841.5 433.5 841.5 433.1 841.5 432.7 841.5 432.3 841.5 431.9 841.5 431.5 841.6 431.1 841.6 430.7 841.6 430.3 841.6 429.9 841.6 429.5 841.6 429.1 841.6 428.7 841.6 428.3 841.6 427.9 841.6 427.5 841.6 427.1 841.6 426.7 841.7 426.2 841.7 425.8 841.7 425.4 841.7 425.0 841.7 424.6 841.7 424.2 841.7 423.8 841.7 423.4 841.7 423.0 841.7 422.6 841.7 422.2 841.7 421.8 841.8 421.4 841.8 421.0 841.8 420.6 841.8 420.2 841.8 419.8 841.8 419.4 841.8 419.0 841.8 418.6 841.8 418.2 841.8 417.8 841.8 417.4 841.8 417.0 841.9 416.6 841.9 416.2 841.9 415.8 841.9 415.4 841.9 415.0 841.9 414.6 841.9 414.2 841.9 413.8 841.9 413.4 842.0 413.0 842.0 412.6 842.0 412.2 842.0 411.8 842.0 411.4 842.0 411.0 842.1 410.6 842.1 410.2 842.1 409.8 842.1 409.3 842.1 408.9 842.1 408.5 842.2 408.1 842.2 407.7 842.2 407.3 842.2 406.9 842.2 406.5 842.2 406.1 842.2 405.7 842.3 405.3 842.3 404.9 842.3 404.5 842.3 404.1 842.3 403.7 842.3 403.3 842.4 402.9 842.4 402.5 842.4 402.1 842.4 401.7 842.4 401.3 842.4 400.9 842.4 400.5 842.5 400.1 842.5 399.7 842.5 399.3 842.5 398.2 842.5 399.0 842.5 397.4 842.6 398.2 842.6 396.6 842.6 397.4 842.6 395.8 842.6 396.5 842.6 395.0 842.7 395.7 842.7 394.2 842.7 394.9 842.7 394.0 842.9 393.0 843.1 393.7 843.3 392.5 843.5 393.5 843.7 391.7 843.9 392.7 844.1 390.9 844.3 390.8 844.6 392.2 844.9 391.3 845.3 392.4 845.6 392.0 845.9 392.4 845.9 393.5 846.0 393.1 846.0 394.3 846.0 393.9 846.0 395.1 846.1 394.7 846.1 395.9 846.1 395.6 846.2 396.8 846.2 396.4 846.2 397.6 846.3 397.2 846.3 398.4 846.3 398.0 846.3 399.2 846.4 398.9 846.4 399.6 846.4 398.7 846.5 400.4 846.5 399.5 846.5 401.2 846.6 400.4 846.6 402.1 846.6 401.2 846.6 402.9 846.7 402.0 846.7 403.5 846.7 404.1 846.8 403.2 846.8 405.0 846.9 404.1 846.9 405.8 847.0 404.9 847.0 406.6 847.1 405.8 847.1 407.5 847.2 406.6 847.2 408.3 847.3 407.4 847.3 409.2 847.4 408.3 847.4 409.8 847.4 410.4 847.5 409.5 847.5 411.2 847.5 410.3 847.5 412.1 847.6 411.2 847.6 412.9 847.6 412.0 847.6 413.7 847.7 412.8 847.7 414.5 847.7 413.6 847.7 415.3 847.8 414.4 847.8 416.2 847.8 415.3 847.8 417.0 847.9 416.1 847.9 417.8 847.9 416.9 847.9 418.6 848.0 417.7 848.0 419.4 848.0 418.9 848.0 420.8 848.1 419.7 848.1 421.6 848.1 420.6 848.1 422.5 848.2 421.4 848.2 422.5 848.2 423.7 848.2 422.6 848.3 424.5 848.3 423.4 848.3 425.3 848.3 424.2 848.3 426.1 848.3 425.0 848.4 426.9 848.4 425.8 848.4 427.7 848.4 426.6 848.4 428.5 848.4 427.4 848.5 429.3 848.5 428.2 848.5 430.2 848.5 429.1 848.5 431.0 848.5 429.9 848.6 431.8 848.6 430.7 848.6 432.6 848.6 431.5 848.6 433.4 848.6 432.3 848.7 434.2 848.7 433.1 848.7 435.0 848.7 433.9 848.7 435.8 848.7 434.7 848.8 436.6 848.8 435.5 848.8 437.4 848.8 436.3 848.8 438.2 848.8 437.1 848.9 439.1 848.9 438.0 848.9 439.9 848.9 438.8 848.9 440.7 848.9 439.6 849.0 441.5 849.0 440.4 849.0 441.5 849.1 442.7 849.2 441.6 849.3 443.4 849.4 442.3 849.5 444.2 849.6 443.1 849.7 444.7 849.8 444.6 849.8 444.0 849.8 444.3 849.9 443.2 849.9 443.5 849.9 442.4 849.9 442.7 850.0 441.6 850.0 441.9 850.0 440.8 850.0 441.1 850.1 440.0 850.1 440.3 850.1 439.2 850.1 439.4 850.1 438.4 850.2 438.6 850.2 437.5 850.2 437.8 850.2 436.7 850.3 437.0 850.3 435.9 850.3 436.2 850.3 435.1 850.3 435.4 850.4 434.3 850.4 434.6 850.4 433.5 850.4 433.8 850.5 432.7 850.5 433.0 850.5 431.9 850.5 432.1 850.6 431.0 850.6 431.3 850.6 430.4 850.7 430.7 850.7 431.8 850.8 431.5 850.9 432.6 851.0 432.4 851.0 433.5 851.1 433.2 851.2 434.3 851.3 433.4 851.3 435.3 851.4 435.1 851.4 434.6 851.5 436.5 851.5 435.5 851.5 437.4 851.5 436.3 851.6 438.2 851.6 437.1 851.6 439.0 851.7 437.9 851.7 439.8 851.7 438.7 851.8 440.6 851.8 439.6 851.8 441.5 851.8 440.4 851.9 442.3 851.9 441.2 851.9 443.1 852.0 442.0 852.0 443.9 852.0 442.9 852.1 444.8 852.1 443.7 852.1 445.6 852.1 444.5 852.2 446.4 852.2 446.2 852.4 445.7 852.6 447.6 852.8 446.5 853.0 447.8 853.0 447.7 853.1 446.1 853.1 446.9 853.1 445.3 853.2 446.1 853.2 444.5 853.3 445.3 853.3 443.7 853.3 444.4 853.4 442.9 853.4 443.6 853.4 442.0 853.5 442.8 853.5 441.2 853.6 442.0 853.6 440.4 853.6 441.2 853.7 439.6 853.7 440.4 853.7 438.8 853.8 439.6 853.8 438.0 853.9 438.8 853.9 437.2 853.9 438.0 854.0 436.4 854.0 437.2 854.0 435.6 854.1 436.4 854.1 434.8 854.2 435.5 854.2 433.9 854.2 434.7 854.3 433.1 854.3 433.9 854.3 432.3 854.4 433.1 854.4 432.0 854.5 432.3 854.5 431.2 854.5 431.4 854.6 430.4 854.6 430.4 854.8 430.2 855.0 429.2 855.2 429.4 855.4 428.8 855.5 428.8 855.5 429.9 855.6 429.7 855.6 430.7 855.7 430.5 855.7 431.6 855.8 431.4 855.8 432.4 855.9 432.2 855.9 433.2 856.0 433.0 856.0 435.0 856.1 433.6 856.1 435.8 856.2 435.1 856.2 434.8 856.3 437.0 856.3 435.6 856.4 437.8 856.4 436.4 856.5 438.6 856.5 437.2 856.5 439.4 856.6 438.0 856.6 440.2 856.7 438.8 856.7 441.0 856.8 439.6 856.8 441.8 856.9 440.4 856.9 441.5 857.0 443.0 857.0 441.7 857.1 443.9 857.2 442.5 857.3 444.8 857.3 443.4 857.4 445.6 857.5 444.3 857.6 446.5 857.6 445.0 857.7 446.2 858.1 447.4 858.6 446.0 859.0 447.0 859.1 447.5 859.1 445.4 859.2 446.7 859.2 444.8 859.3 445.9 859.3 444.0 859.4 445.0 859.4 443.2 859.5 444.2 859.5 442.3 859.6 443.4 859.6 441.5 859.7 442.5 859.7 440.7 859.8 441.7 859.8 439.8 859.9 440.9 859.9 439.0 860.0 440.1 860.0 438.2 860.1 438.3 860.2 438.8 860.4 437.0 860.5 438.0 860.6 436.2 860.8 437.2 860.9 435.7 861.0 435.9 861.2 434.9 861.3 435.1 861.4 434.1 861.6 434.3 861.7 433.5 861.8 432.9 862.0 433.2 862.1 432.1 862.2 432.4 862.4 431.3 862.5 432.1 862.6 429.9 862.8 431.3 862.9 429.1 863.0 430.5 863.2 428.3 863.3 428.8 863.4 429.3 863.6 427.2 863.7 428.5 863.8 426.4 864.0 427.7 864.1 425.9 864.2 426.3 864.4 425.1 864.5 425.5 864.6 424.3 864.8 424.7 864.9 424.1 865.2 423.2 865.5 423.7 865.8 422.7 866.1 423.2 866.4 422.5 866.5 421.7 866.5 422.0 866.6 420.9 866.7 421.2 866.7 420.1 866.8 420.4 866.9 419.3 866.9 419.6 867.0 418.5 867.1 418.8 867.1 417.7 867.2 417.7 867.6 418.5 868.0 416.9 868.4 418.1 868.8 416.9 869.1 416.3 869.5 417.5 869.8 415.9 870.2 417.1 870.5 414.7 870.9 415.7 871.2 415.3 871.4 413.9 871.5 414.7 871.7 413.1 871.8 413.9 872.0 412.9 872.2 413.6 872.3 412.1 872.5 412.8 872.6 411.3 872.8 411.4 872.9 411.6 872.9 410.1 873.0 410.8 873.1 409.3 873.2 410.0 873.2 408.5 873.3 409.2 873.4 407.8 873.5 408.4 873.5 407.0 873.6 407.6 873.7 406.5 873.8 406.8 873.8 405.7 873.9 406.0 874.0 405.0 874.1 405.2 874.1 404.2 874.2 404.4 874.3 403.5 874.4 403.0 874.5 403.2 874.6 402.2 874.7 402.4 874.8 401.4 874.9 401.6 875.0 400.6 875.1 400.3 875.5 400.6 875.9 399.6 876.3 400.9 876.7 399.9 877.1 401.2 877.5 401.1 878.0 400.5 878.5 401.9 878.9 400.5 879.4 400.6 879.9 401.1 880.1 400.7 880.3 401.2 880.5 402.4 880.7 401.9 880.9 402.4 881.1 403.5 881.3 404.6 881.5 404.3 881.7 403.8 882.0 403.4 882.2 403.4 882.4 402.2 882.6 402.6 882.9 401.6 883.1 401.9 883.3 402.1 883.5 400.4 883.8 400.7 884.0 400.3 884.3 400.2 884.7 399.3 885.0 399.3 885.4 400.1 885.7 399.8 886.0 398.4 886.4 399.0 886.7 399.1 887.1 397.9 887.4 398.0 887.6 398.5 887.9 398.1 888.1 398.9 888.4 399.7 888.6 400.0 888.9 400.6 889.1 400.0 889.4 400.7 889.6 401.3 889.9 401.5 890.2 400.8 890.5 400.3 890.8 400.0 891.1 400.5 891.5 399.6 891.8 398.6 892.1 399.3 892.4 398.4 892.7 398.2 893.0 398.0 893.4 397.5 893.8 397.7 894.2 397.4 894.6 396.9 895.1 397.5 895.5 396.7 895.9 397.4 896.3 396.9 896.5 396.0 896.8 396.6 897.0 396.3 897.3 395.6 897.5 395.6 897.8 394.7 898.0 395.0 898.2 394.2 898.5 393.7 898.7 394.3 899.0 393.2 899.2 392.9 899.5 393.2 899.7 392.4 900.1 392.1 900.5 392.4 900.9 391.7 901.3 392.4 901.7 391.6 902.1 391.2 902.5 392.3 902.9 391.2 903.3 392.0 903.7 392.0 904.1 391.3 904.9 391.6 905.6 391.1 906.4 391.3 907.1 391.7 907.9 392.1 908.6 392.4 909.0 392.0 909.5 391.8 909.9 390.5 910.4 389.7 910.8 389.7 911.2 388.6 911.7 388.0 912.1 388.0 912.6 387.6 913.0 386.8 913.8 386.1 914.5 386.4 915.2 386.5 916.0 386.4 916.8 385.7 917.5 385.7 918.1 385.7 918.7 384.5 919.4 384.7 920.0 384.3 920.6 384.0 921.2 383.2 921.9 382.3 922.5 381.8 923.1 381.9 923.8 382.3 924.4 382.2 925.1 383.0 925.7 382.7 926.4 383.5 927.1 384.0 927.9 383.6 928.6 383.5 929.4 383.9 930.1 384.4 930.9 384.6 931.6 384.8 932.4 384.8 933.1 384.8 933.8 385.3 934.6 386.0 935.3 385.7 935.9 386.2 936.4 387.0 937.0 386.5 937.5 387.9 938.1 388.2 938.7 388.3 939.2 388.7 939.8 389.1 940.5 389.5 941.2 390.2 941.9 389.6 942.6 390.6 943.3 390.8 944.0 390.8 944.7 391.6 945.4 391.7 946.1 391.6 946.8 390.6 947.5 390.9 948.1 390.4 948.8 390.1 949.5 389.9 950.2 389.0 950.9 389.1 951.6 389.3 952.3 389.2 953.0 389.9 953.7 389.4 954.4 390.1 955.1 390.2 955.8 390.2 956.5 390.2 957.2 390.4 957.9 389.5 958.6 389.9 959.3 389.8 960.0 389.7 960.7 389.3 961.4 388.8 962.1 389.1 962.8 388.6 963.4 388.7 964.1 388.1 964.8 387.8 965.5 387.8 966.1 387.7 966.8 387.5 967.5 386.8 968.1 387.3 968.8 386.8 969.5 386.6 970.3 387.1 971.0 386.3 971.7 387.2 972.5 386.9 973.2 386.8 973.8 386.8 974.4 386.4 975.1 385.8 975.7 384.6 976.3 384.4 976.9 383.9 977.6 384.0 978.2 383.0 978.8 382.8 979.5 382.4 980.2 382.2 980.9 382.1 981.6 382.8 982.3 382.7 983.0 382.0 983.7 382.2 984.4 381.9 985.1 381.7 985.9 381.5 986.6 381.2 987.4 381.2 988.1 380.7 988.9 380.5 989.6 380.5 990.4 380.0 991.1 380.1 991.8 379.9 992.5 380.2 993.2 379.3 993.9 379.2 994.5 379.7 995.2 378.9 995.9 378.9 996.6 379.0 997.3 379.7 998.0 380.0 998.6 380.1 999.3 380.4 1000.0 381.2 1000.7 381.1 1001.5 381.2 1002.2 381.8 1003.0 382.0 1003.7 381.9 1004.4 382.1 1005.2 382.3 1005.9 382.0 1006.6 382.2 1007.4 382.2 1008.1 382.1 1008.9 381.3 1009.6 381.3 1010.4 381.2 1011.1 381.4 1011.9 381.2 1012.5 380.9 1013.2 380.5 1013.9 380.7 1014.5 380.0 1015.1 379.6 1015.8 379.4 1016.5 379.2 1017.1 379.0 1017.5 379.7 1018.0 380.3 1018.4 380.8 1018.9 381.1 1019.3 382.0 1020.0 382.1 1020.8 382.2 1021.5 382.2 1022.3 382.7 1023.0 382.6 1023.8 383.2 1024.5 383.3 1025.3 383.0 1026.0 383.5 1026.7 383.4 1027.5 383.1 1028.2 383.0 1029.0 383.0 1029.7 382.9 1030.5 382.9 1031.2 382.4 1032.0 382.3 1032.7 381.7 1033.5 381.7 1034.2 381.3 1035.0 380.9 1035.7 381.0 1036.5 380.7 1037.2 380.5 1037.9 380.8 1038.7 380.4 1039.4 380.8 1040.2 380.6 1040.9 380.4 1041.7 380.9 1042.4 380.6 1043.1 380.8 1043.9 380.5 1044.6 380.5 1045.4 381.2 1046.1 380.9 1046.8 380.8 1047.4 381.2 1048.1 381.4 1048.8 381.7 1049.4 382.4 1050.1 382.8 1050.8 382.8 1051.5 382.9 1052.1 383.5 1052.8 383.5 1053.5 383.3 1054.3 382.9 1055.0 383.1 1055.8 382.7 1056.5 382.5 1057.3 382.4 1058.0 382.3 1058.8 381.9 1059.5 382.0 1060.2 381.9 1061.0 381.9 1061.7 381.5 1062.5 381.0 1063.2 381.3 1064.0 380.7 1064.7 380.8 1065.5 380.9 1066.2 380.5 1066.9 380.7 1067.7 380.9 1068.4 380.9 1069.2 380.6 1069.9 380.6 1070.7 380.8 1071.4 381.1 1072.2 380.8 1072.9 381.0 1073.7 381.3 1074.4 381.2 1075.1 381.0 1075.9 381.2 1076.6 381.1 1077.4 381.3 1078.1 380.6 1078.9 380.7 1079.6 381.0 1080.3 380.9 1081.1 380.5 1081.8 380.4 1082.6 380.4 1083.3 380.6 1084.1 380.8 1084.8 380.5 1085.5 380.4 1086.2 380.5 1086.9 381.0 1087.6 380.9 1088.3 381.3 1089.0 381.5 1089.7 381.6 1090.4 381.5 1091.1 381.5 1091.8 381.3 1092.5 381.9 1093.2 381.8 1093.9 381.9 1094.6 382.2 1095.3 382.5 1096.0 382.3 1096.7 382.4 1097.4 382.5 1098.2 382.4 1098.9 381.7 1099.7 381.7 1100.4 381.9 1101.1 381.7 1101.9 381.7 1102.6 381.2 1103.3 381.2 1104.0 381.6 1104.6 382.1 1105.3 382.1 1106.0 382.4 1106.7 382.8 1107.4 382.4 1108.1 382.6 1108.7 383.3 1109.4 383.3 1110.1 383.5 1110.8 383.3 1111.6 383.7 1112.3 383.3 1113.1 383.2 1113.8 383.4 1114.5 383.2 1115.3 383.4 1116.0 383.7 1116.8 383.5 1117.5 383.8 1118.3 383.2 1119.0 383.5 1119.7 383.3 1120.5 383.4 1121.2 383.7 1122.0 383.5 1122.7 383.9 1123.4 383.8 1124.2 383.9 1124.9 383.9 1125.6 384.0 1126.4 383.9 1127.1 383.9 1127.9 383.3 1128.6 383.3 1129.3 383.6 1130.1 383.1 1130.8 382.9 1131.6 383.0 1132.3 382.7 1133.1 383.0 1133.8 382.7 1134.5 382.7 1135.3 382.2 1136.0 382.8 1136.8 382.4 1137.5 382.1 1138.3 382.3 1139.0 382.4 1139.8 382.0 1140.5 382.1 1141.2 382.1 1141.9 382.4 1142.6 382.5 1143.3 383.0 1144.0 383.1 1144.7 383.6 1145.3 383.4 1146.0 383.5 1146.7 384.0 1147.4 383.9 1148.1 384.3 1148.8 384.4 1149.5 384.6 1150.2 385.0 1150.9 384.9 1151.7 385.0 1152.4 384.5 1153.2 384.5 1153.9 384.1 1154.6 384.4 1155.4 384.0 1156.1 383.5 1156.9 383.8 1157.6 383.5 1158.3 383.2 1159.0 382.9 1159.7 382.8 1160.4 383.2 1161.1 383.0 1161.8 382.7 1162.5 382.7 1163.2 382.6 1163.9 382.1 1164.6 382.4 1165.3 382.3 1166.0 382.3 1166.7 381.6 1167.4 381.8 1168.1 381.6 1168.8 381.5 1169.5 381.8 1170.3 381.5 1171.0 381.7 1171.8 381.9 1172.5 381.6 1173.3 381.7 1174.0 382.0 1174.8 381.5 1175.5 382.2 1176.3 381.8 1177.0 381.9 1177.8 381.8 1178.5 382.0 1179.2 382.1 1180.0 381.8 1180.7 381.9 1181.5 381.3 1182.2 381.8 1182.9 381.6 1183.7 381.4 1184.4 381.2 1185.2 381.3 1185.9 381.5 1186.7 381.9 1187.4 381.9 1188.2 382.8 1188.9 382.7 1189.6 382.4 1190.4 382.6 1191.1 381.9 1191.8 382.0 1192.6 381.9 1193.3 381.5 1194.0 381.7 1194.7 381.7 1195.4 381.5 1196.1 381.9 1196.8 382.0 1197.5 382.5 1198.1 382.6 1198.8 382.7 1199.5 382.9 1200.2 382.4 1200.9 382.4 1201.6 382.7 1202.3 383.0 1203.0 382.6 1203.7 382.6 1204.4 382.8 1205.1 382.4 1205.8 382.6 1206.5 382.4 1207.2 382.2 1207.9 382.6 1208.6 382.0 1209.3 382.4 1210.0 382.0 1210.8 382.0 1211.5 382.1 1212.2 381.8 1213.0 382.2 1213.8 382.3 1214.5 382.0 1215.2 382.3 1216.0 382.9 1216.7 383.5 1217.4 383.9 1218.1 383.9 1218.8 384.0 1219.5 383.9 1220.2 383.7 1220.9 383.9 1221.7 384.0 1222.4 383.7 1223.1 383.8 1223.8 383.8 1224.5 383.7 1225.2 383.4 1225.9 383.6 1226.6 383.8 1227.3 383.8 1228.0 383.3 1228.8 383.6 1229.5 383.6 1230.2 383.6 1230.9 383.3 1231.6 383.6 1232.3 383.5 1233.0 383.6 1233.7 383.5 1234.4 383.8 1235.1 383.6 1235.8 383.2 1236.5 383.3 1237.2 383.6 1237.9 383.2 1238.6 383.8 1239.4 383.6 1240.1 383.7 1240.8 383.3 1241.5 383.2 1242.2 383.8 1242.9 383.5 1243.6 383.5 1244.3 383.5 1245.0 383.7 1245.7 383.5 1246.4 383.7 1247.2 384.3 1247.9 384.2 1248.7 385.0 1249.4 385.0 1250.1 385.1 1250.8 384.8 1251.5 384.8 1252.2 385.1 1253.0 384.6 1253.7 384.9 1254.4 385.0 1255.1 385.0 1255.8 384.4 1256.5 384.7 1257.2 384.6 1258.0 384.7 1258.7 384.1 1259.4 384.3 1260.1 384.3 1260.8 384.5 1261.5 384.2 1262.2 383.9 1262.9 383.9 1263.7 384.3 1264.4 384.3 1265.1 384.0 1265.8 383.7 1266.5 383.9 1267.2 384.3 1268.0 384.7 1268.8 384.5 1269.5 384.9 1270.2 385.0 1271.0 385.4 1271.7 385.0 1272.4 385.4 1273.1 384.9 1273.8 384.8 1274.5 385.3 1275.2 384.7 1275.9 385.1 1276.6 385.0 1277.3 384.6 1278.0 384.6 1278.8 384.4 1279.5 384.7 1280.2 384.8 1280.9 384.6 1281.6 384.3 1282.3 384.3 1283.0 384.1 1283.7 384.3 1284.4 383.9 1285.1 383.8 1285.8 383.9 1286.5 384.1 1287.2 383.9 1287.9 384.5 1288.6 384.4 1289.3 384.0 1290.0 384.0 1290.7 384.5 1291.4 384.2 1292.1 384.6 1292.8 384.7 1293.5 384.9 1294.2 384.7 1294.9 384.9 1295.6 385.1 1296.3 385.0 1297.0 384.9 1297.8 385.1 1298.5 385.6 1299.2 385.4 1300.0 385.9 1300.7 385.5 1301.5 385.6 1302.2 386.0 1302.9 385.9 1303.6 385.9 1304.3 385.8 1305.0 385.6 1305.7 385.7 1306.5 386.0 1307.2 386.0 1307.9 385.7 1308.6 385.4 1309.3 385.6 1310.0 385.2 1310.7 385.1 1311.4 385.6 1312.1 385.2 1312.8 385.0 1313.6 385.5 1314.3 384.9 1315.0 385.0 1315.7 384.9 1316.4 385.3 1317.1 385.0 1317.8 385.2 1318.5 384.9 1319.2 384.9 1319.9 385.5 1320.6 385.0 1321.3 385.5 1322.0 385.5 1322.7 385.5 1323.4 385.5 1324.1 385.5 1324.8 385.5 1325.5 385.8 1326.2 385.5 1326.9 385.8 1327.6 385.7 1328.3 385.8 1329.0 386.0 1329.7 386.3 1330.5 386.1 1331.2 386.2 1332.0 386.3 1332.7 385.9 1333.4 386.4 1334.2 386.5 1334.9 386.5 1335.7 386.4 1336.4 386.4 1337.1 386.6 1337.8 386.6 1338.5 386.1 1339.2 386.0 1339.9 386.0 1340.7 385.8 1341.4 385.9 1342.1 385.7 1342.8 385.6 1343.5 385.9 1344.2 385.5 1344.9 385.8 1345.6 386.0 1346.3 385.9 1347.0 385.4 1347.8 385.8 1348.5 385.4 1349.2 385.8 1349.9 385.6 1350.6 385.5 1351.3 385.4 1352.0 385.5 1352.8 385.9 1353.5 385.5 1354.3 386.1 1355.0 385.7 1355.7 385.7 1356.5 385.9 1357.2 385.9 1358.0 386.5 1358.7 386.4 1359.4 386.2 1360.1 386.6 1360.8 386.4 1361.5 386.5 1362.2 386.9 1363.0 386.7 1363.7 386.6 1364.4 387.0 1365.1 386.6 1365.8 386.6 1366.5 387.1 1367.2 387.3 1367.9 387.3 1368.6 387.3 1369.3 387.5 1370.1 387.5 1370.8 387.3 1371.5 387.1 1372.2 387.5 1372.9 387.4 1373.6 387.5 1374.3 387.6 1375.1 387.3 1375.8 387.1 1376.6 387.2 1377.3 387.1 1378.0 387.5 1378.8 387.4 1379.5 387.3 1380.3 387.1 1381.0 387.2 1381.8 387.6 1382.5 387.6 1383.2 387.8 1384.0 387.8 1384.8 388.5 1385.5 388.4 1386.2 388.4 1386.9 388.5 1387.6 388.3 1388.3 388.6 1389.0 388.6 1389.8 388.6 1390.5 388.9 1391.2 388.7 1391.9 388.9 1392.6 389.0 1393.3 388.7 1394.0 389.2 1394.7 388.7 1395.4 388.9 1396.1 389.3 1396.9 388.9 1397.6 389.1 1398.3 389.2 1399.0 389.6 1399.7 389.7 1400.4 389.4 1401.1 389.2 1401.8 389.5 1402.5 389.6 1403.3 389.3 1404.0 389.2 1404.7 389.1 1405.4 389.0 1406.1 389.0 1406.8 388.9 1407.6 389.4 1408.3 389.3 1409.0 388.9 1409.7 389.5 1410.4 389.5 1411.1 389.1 1411.8 389.1 1412.6 389.4 1413.3 389.2 1414.0 389.3 1414.7 388.9 1415.4 389.2 1416.1 389.0 1416.9 388.7 1417.6 388.7 1418.3 388.9 1419.0 389.0" stroke="#800080"/>
</g>
<path d="M838.3 168.27H1419" stroke="#000" stroke-width="2.2" stroke-dasharray="10.3 9.9" fill="none"/>
<text x="821.8" y="35.30" font-size="25" text-anchor="end">4</text>
<text x="821.8" y="106.63" font-size="25" text-anchor="end">2</text>
<text x="821.8" y="177.97" font-size="25" text-anchor="end">0</text>
<text x="821.8" y="249.30" font-size="25" text-anchor="end">–2</text>
<text x="821.8" y="320.64" font-size="25" text-anchor="end">–4</text>
<text x="821.8" y="391.97" font-size="25" text-anchor="end">–6</text>
<text x="821.8" y="463.30" font-size="25" text-anchor="end">–8</text>
<text x="837.40" y="488.8" font-size="25" text-anchor="middle">0</text>
<text x="953.64" y="488.8" font-size="25" text-anchor="middle">100</text>
<text x="1069.88" y="488.8" font-size="25" text-anchor="middle">200</text>
<text x="1186.12" y="488.8" font-size="25" text-anchor="middle">300</text>
<text x="1302.36" y="488.8" font-size="25" text-anchor="middle">400</text>
<text x="1418.60" y="488.8" font-size="25" text-anchor="middle">500</text>
<text x="1128.3" y="531.6" font-size="25" font-weight="bold" text-anchor="middle">Time (ns)</text>
<text transform="translate(764.1 239.8) rotate(-90)" font-size="25" font-weight="bold" text-anchor="middle">Lyapunov exponents (/ns)</text>
<text x="742" y="30.6" font-size="42" font-weight="bold">b</text>
</svg></body></html>
